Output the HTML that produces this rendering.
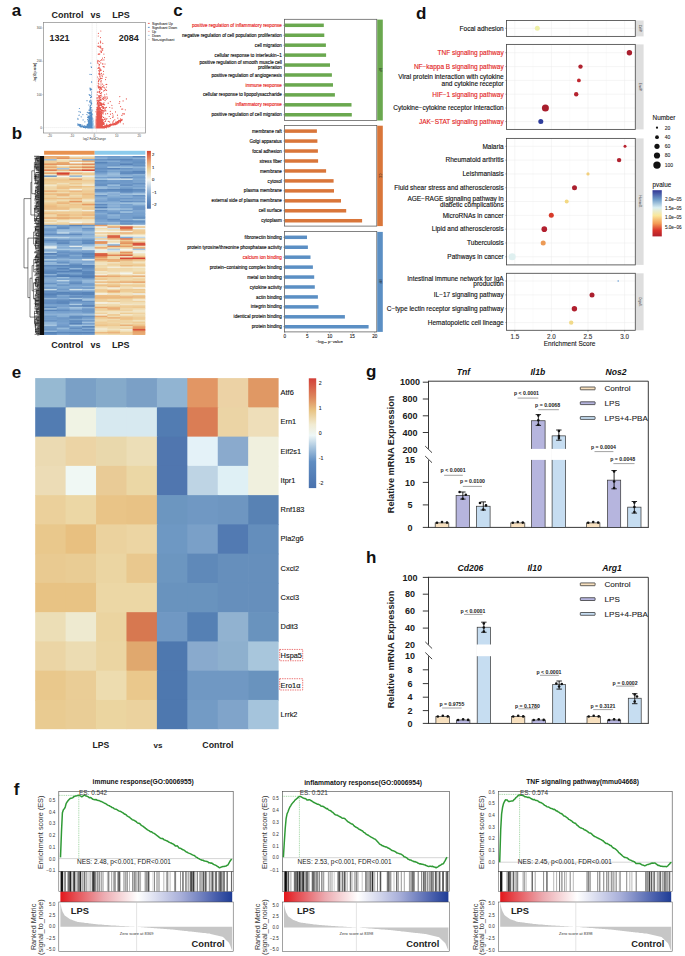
<!DOCTYPE html>
<html><head><meta charset="utf-8"><title>Figure</title>
<style>
html,body{margin:0;padding:0;background:#fff;}
body{width:685px;height:956px;overflow:hidden;}
svg{display:block;font-family:"Liberation Sans", sans-serif;}
</style></head>
<body>
<svg width="685" height="956" viewBox="0 0 685 956" shape-rendering="auto">
<rect width="685" height="956" fill="#fff"/>
<text x="11.70" y="15.50" font-size="17" font-weight="bold" fill="#111">a</text>
<text x="11.70" y="138.50" font-size="17" font-weight="bold" fill="#111">b</text>
<text x="173.20" y="16.10" font-size="17" font-weight="bold" fill="#111">c</text>
<text x="416.10" y="19.00" font-size="17" font-weight="bold" fill="#111">d</text>
<text x="11.70" y="377.90" font-size="17" font-weight="bold" fill="#111">e</text>
<text x="13.70" y="795.40" font-size="17" font-weight="bold" fill="#111">f</text>
<text x="366.10" y="377.20" font-size="17" font-weight="bold" fill="#111">g</text>
<text x="366.10" y="563.40" font-size="17" font-weight="bold" fill="#111">h</text>
<rect x="43.40" y="22.40" width="102.00" height="110.60" fill="#fff" stroke="#8a8a8a" stroke-width="0.7"/>
<line x1="92.16" y1="22.60" x2="92.16" y2="132.80" stroke="#c4c4c4" stroke-width="0.4" stroke-dasharray="1,1"/>
<line x1="96.64" y1="22.60" x2="96.64" y2="132.80" stroke="#c4c4c4" stroke-width="0.4" stroke-dasharray="1,1"/>
<line x1="43.60" y1="127.60" x2="145.20" y2="127.60" stroke="#c4c4c4" stroke-width="0.4" stroke-dasharray="1,1"/>
<path d="M94.8 126.7h0M94.6 127.2h0M94.7 127.4h0M94.6 127.6h0M95.0 127.8h0M93.7 127.4h0M94.7 127.6h0M94.4 126.9h0M94.1 127.7h0M94.3 126.8h0M94.7 127.4h0M94.9 127.5h0M94.3 127.7h0M94.8 127.9h0M94.6 127.1h0M95.0 125.8h0M95.0 127.7h0M94.9 127.3h0M94.3 127.5h0M93.8 127.5h0M95.2 127.7h0M94.0 127.7h0M94.9 127.0h0M94.5 127.8h0M95.3 127.6h0M94.4 127.9h0M94.3 127.2h0M93.3 127.9h0M94.8 126.6h0M94.4 126.8h0M94.1 126.9h0M94.2 127.6h0M95.1 126.9h0M94.7 127.2h0M94.9 127.8h0M94.3 127.4h0M94.6 127.6h0M95.0 127.3h0M94.3 127.5h0M95.2 127.9h0M94.3 127.5h0M95.5 127.7h0M94.2 127.4h0M94.2 127.7h0M94.5 127.8h0M94.3 126.7h0M94.4 127.7h0M94.5 127.9h0M95.1 127.4h0M94.2 127.4h0M95.1 127.0h0M95.0 127.9h0M94.6 127.8h0M94.4 127.6h0M95.5 127.9h0M93.1 127.0h0M94.2 127.1h0M94.4 127.7h0M94.8 127.3h0M94.5 127.9h0M95.0 127.6h0M94.8 127.3h0M95.1 127.2h0M94.2 127.6h0M94.7 126.7h0M95.4 127.4h0M94.1 127.2h0M94.6 126.5h0M93.7 127.4h0M94.7 127.9h0M94.1 127.9h0M94.8 126.6h0M93.8 127.1h0M94.5 127.8h0M93.9 127.7h0M94.5 127.6h0M94.7 127.9h0M95.7 126.7h0M94.7 127.9h0M94.7 127.9h0" stroke="#c9d3dc" stroke-width="1.2" stroke-linecap="round" opacity="0.9" fill="none"/>
<path d="M93.2 127.7h0M93.0 127.9h0M93.2 127.6h0M93.1 127.7h0M92.4 123.8h0M93.1 124.8h0M92.3 126.4h0M93.4 127.7h0M92.6 125.2h0M93.1 127.8h0M92.3 127.5h0M93.0 126.2h0M93.0 123.4h0M92.9 122.4h0M93.3 127.7h0M92.3 127.6h0M92.3 127.2h0M92.5 125.2h0M92.8 125.1h0M92.9 124.1h0M92.8 126.8h0M92.2 127.3h0M92.8 120.4h0M92.5 125.7h0M92.9 125.4h0M92.3 126.2h0M92.8 127.4h0M92.8 126.3h0M93.1 126.5h0M93.0 127.3h0M93.2 126.6h0M92.8 125.0h0M92.2 127.7h0M92.4 127.8h0M92.6 110.0h0M92.6 127.0h0M92.9 120.4h0M93.1 126.7h0M93.2 122.1h0M92.4 123.1h0M92.4 124.3h0M92.6 114.9h0M92.9 125.2h0M93.2 125.8h0M93.4 127.8h0M93.3 125.2h0M92.6 125.8h0M92.9 127.0h0M93.0 127.9h0M92.5 127.9h0M92.3 126.5h0M92.7 127.9h0M92.5 121.9h0M92.6 118.0h0M92.8 127.8h0M92.9 125.8h0M93.2 125.6h0M92.2 127.6h0M92.4 127.6h0M92.7 123.8h0M92.5 127.4h0M93.0 125.3h0M92.7 126.3h0M92.5 126.8h0M93.2 126.8h0M92.5 126.5h0M93.2 127.7h0M93.0 121.4h0M92.8 125.8h0M92.9 127.9h0M93.1 127.8h0M92.7 126.8h0M93.4 120.7h0M93.2 125.9h0M93.3 127.9h0M93.3 125.6h0M92.8 125.2h0M92.8 127.9h0M92.6 120.3h0M93.0 127.7h0M93.1 124.0h0M92.2 125.7h0M93.1 126.5h0M92.4 124.2h0M92.9 125.6h0M93.4 127.2h0M92.8 121.9h0M92.6 127.4h0M92.3 120.0h0M92.9 127.4h0M92.9 127.7h0M93.0 125.8h0M92.9 122.4h0M93.0 118.6h0M92.8 126.9h0M93.0 122.4h0M93.0 125.0h0M92.7 123.7h0M92.6 126.2h0M92.4 125.7h0M92.7 127.0h0M92.4 127.9h0M92.5 123.2h0M92.6 127.8h0M93.3 127.8h0M93.3 127.6h0M93.4 121.8h0M93.0 126.2h0M92.8 127.6h0M93.1 127.2h0M92.7 127.0h0M93.3 127.7h0M92.8 127.8h0M93.1 126.2h0M93.0 127.5h0M92.4 125.6h0M93.4 123.7h0M92.5 122.2h0M93.0 125.1h0M92.3 126.7h0M93.0 126.4h0M92.5 127.3h0M93.0 124.7h0M92.8 126.7h0M92.8 126.9h0M93.0 119.6h0M92.9 126.6h0M93.3 124.4h0M92.3 126.4h0M92.6 122.5h0M92.8 127.9h0M92.9 124.5h0M93.4 124.0h0M92.8 127.7h0M93.2 124.5h0M92.8 123.3h0M92.5 126.4h0M93.1 127.5h0M92.5 122.2h0M92.8 127.9h0M93.2 123.9h0M93.0 126.4h0M92.7 126.8h0M92.7 124.0h0M92.4 118.6h0M92.7 125.6h0M92.5 127.6h0M93.2 127.0h0M92.6 126.6h0M92.8 125.8h0M93.0 122.9h0M92.8 125.7h0M92.4 125.0h0M93.0 122.9h0M92.8 127.5h0M92.2 126.9h0M92.8 127.8h0M93.2 127.4h0M92.6 127.0h0M92.7 123.9h0" stroke="#9cc8ea" stroke-width="1.2" stroke-linecap="round" opacity="0.9" fill="none"/>
<path d="M96.5 124.0h0M96.4 109.9h0M95.8 123.3h0M96.2 127.0h0M96.1 126.9h0M96.2 127.3h0M95.6 118.8h0M96.2 127.9h0M96.2 122.3h0M95.8 124.0h0M96.6 126.4h0M96.6 124.7h0M96.5 127.9h0M96.5 125.8h0M96.2 121.2h0M96.5 123.8h0M95.8 126.1h0M95.9 126.6h0M96.4 126.7h0M96.3 125.6h0M96.0 123.9h0M95.5 122.5h0M96.0 127.5h0M95.7 123.3h0M96.3 125.6h0M96.3 123.7h0M96.1 121.0h0M96.4 120.4h0M96.1 125.6h0M96.0 122.2h0M95.6 127.9h0M95.6 127.3h0M95.6 126.7h0M95.9 125.8h0M96.3 127.6h0M95.9 122.8h0M96.4 119.0h0M96.0 116.2h0M96.5 120.1h0M96.5 121.5h0M95.7 127.1h0M96.4 120.7h0M96.6 127.9h0M96.2 125.4h0M95.6 124.1h0M96.5 120.7h0M96.1 123.4h0M95.8 122.9h0M96.3 122.6h0M95.7 122.2h0M96.0 125.0h0M95.8 126.5h0M96.0 126.7h0M96.5 122.8h0M96.1 123.6h0M95.7 127.9h0M96.6 125.7h0M95.9 127.9h0M96.2 123.2h0M96.6 125.8h0M96.1 125.7h0M95.7 125.9h0M96.2 126.4h0M96.6 125.9h0M96.2 126.7h0M96.6 125.6h0M96.0 122.4h0M95.5 111.5h0M95.4 127.9h0M95.6 127.5h0M96.3 125.8h0M95.4 122.8h0M95.6 127.7h0M96.0 127.9h0M95.8 120.1h0M96.3 123.5h0M95.9 124.1h0M95.6 127.9h0M96.6 125.2h0M95.7 126.1h0M96.6 125.1h0M96.3 127.0h0M96.5 125.7h0M96.6 116.4h0M96.4 125.2h0M96.3 127.9h0M95.5 127.4h0M95.4 127.1h0M96.1 126.9h0M96.6 126.5h0M96.6 126.8h0M96.1 126.9h0M95.7 124.4h0M96.3 125.5h0M96.6 127.0h0M96.6 127.6h0M95.4 125.1h0M95.7 125.3h0M95.9 127.0h0M95.8 127.4h0M95.6 127.7h0M96.1 112.2h0M96.1 127.6h0M96.3 112.3h0M95.8 123.3h0M95.7 120.8h0M96.4 127.2h0M95.8 126.7h0M95.7 124.9h0M96.3 127.6h0M95.7 127.4h0M95.7 125.9h0M96.0 123.8h0M95.5 125.9h0M95.8 117.2h0M96.5 119.8h0M95.8 126.2h0M95.5 127.1h0M96.4 121.9h0M95.9 126.8h0M96.6 127.9h0M96.3 126.7h0M95.8 121.7h0M96.5 127.2h0M95.5 127.7h0M96.5 127.9h0M96.0 127.3h0M96.1 127.9h0M96.5 126.8h0M96.5 121.6h0M95.4 125.4h0M96.0 121.3h0M96.5 125.7h0M95.9 127.9h0M95.5 126.9h0M96.5 125.0h0M95.7 120.1h0M96.3 121.8h0M96.2 125.4h0M96.2 124.1h0M96.6 125.2h0M96.2 124.9h0M96.1 127.1h0M95.4 120.2h0M95.9 124.2h0M96.3 120.5h0M96.3 126.2h0M96.0 122.6h0M95.7 127.9h0M95.8 127.9h0M95.5 127.5h0M95.5 121.7h0M96.3 127.5h0M96.2 123.7h0M96.4 126.8h0M96.3 127.0h0M96.4 126.9h0M96.0 127.7h0M95.7 119.5h0M95.6 126.5h0" stroke="#f3aaa4" stroke-width="1.2" stroke-linecap="round" opacity="0.9" fill="none"/>
<path d="M91.5 126.0h0M90.6 126.6h0M91.6 127.8h0M91.2 122.3h0M91.9 127.1h0M90.9 126.2h0M90.6 127.2h0M92.0 125.8h0M90.3 126.3h0M89.7 124.0h0M91.5 126.5h0M90.1 110.6h0M91.8 111.6h0M90.5 127.5h0M91.4 124.0h0M90.0 125.4h0M89.0 123.4h0M90.4 121.0h0M90.4 127.6h0M90.8 117.7h0M91.8 127.2h0M90.3 124.8h0M92.0 127.0h0M88.9 105.0h0M91.9 123.4h0M90.9 120.4h0M91.4 126.0h0M91.1 117.0h0M89.9 127.6h0M90.5 121.9h0M89.6 125.4h0M91.1 123.2h0M91.1 125.9h0M88.8 123.5h0M91.5 123.7h0M91.9 122.4h0M91.8 123.2h0M91.2 117.0h0M91.7 124.8h0M89.4 126.8h0M91.1 127.8h0M92.0 125.5h0M90.7 127.3h0M90.1 125.9h0M87.6 117.5h0M91.3 120.9h0M91.7 120.3h0M91.3 123.3h0M91.6 115.9h0M91.4 125.2h0M91.7 126.9h0M89.3 127.8h0M90.8 125.2h0M91.0 125.1h0M92.0 117.7h0M90.6 127.9h0M90.9 127.0h0M91.2 126.8h0M90.4 127.7h0M88.8 123.9h0M89.7 124.9h0M90.4 122.9h0M90.1 126.3h0M91.5 127.4h0M90.0 127.9h0M90.0 126.7h0M91.2 126.9h0M91.8 123.0h0M90.8 124.8h0M90.4 124.8h0M91.3 121.3h0M91.2 123.0h0M91.4 112.3h0M91.8 124.5h0M92.0 125.4h0M89.7 126.1h0M91.9 126.0h0M91.5 123.3h0M88.9 118.7h0M89.7 126.3h0M90.5 127.0h0M91.9 126.8h0M91.0 127.5h0M91.3 123.0h0M92.0 124.0h0M91.5 114.3h0M92.0 124.8h0M91.3 122.6h0M89.1 127.6h0M91.0 125.9h0M88.0 125.9h0M89.0 123.5h0M90.4 127.1h0M91.0 117.4h0M90.2 127.5h0M91.8 119.5h0M91.3 125.2h0M90.7 127.6h0M91.4 119.8h0M92.0 127.9h0M90.9 121.4h0M91.7 124.3h0M91.4 127.9h0M90.4 124.7h0M88.8 126.2h0M89.2 124.3h0M90.6 118.9h0M89.6 127.0h0M91.3 120.0h0M91.6 121.3h0M88.1 125.2h0M90.6 123.2h0M91.9 123.9h0M88.9 127.7h0M90.0 124.4h0M89.8 126.7h0M91.4 119.4h0M90.2 111.8h0M90.0 120.9h0M90.9 127.6h0M90.7 125.6h0M89.8 126.5h0M91.6 125.9h0M89.3 117.7h0M88.5 122.3h0M89.5 127.7h0M90.8 124.2h0M91.9 124.8h0M91.2 126.1h0M89.8 125.9h0M90.6 124.7h0M90.2 124.7h0M89.2 126.8h0M91.6 123.3h0M91.2 127.8h0M91.0 127.8h0M90.8 121.2h0M91.8 124.1h0M89.6 120.4h0M89.7 126.5h0M92.0 127.9h0M91.6 126.9h0M91.3 126.6h0M89.7 126.6h0M90.5 123.5h0M91.5 119.8h0M89.3 122.4h0M89.9 125.6h0M91.4 117.7h0M91.5 120.7h0M90.0 108.7h0M91.7 125.5h0M90.7 95.4h0M90.1 125.5h0M91.6 127.4h0M89.0 110.2h0M90.5 115.4h0M91.2 125.6h0M91.4 126.1h0M91.5 120.2h0M91.3 120.0h0M89.1 124.0h0M90.5 127.9h0M90.0 113.8h0M88.9 122.8h0M90.5 121.2h0M90.5 118.5h0M88.5 123.4h0M89.0 126.0h0M89.0 127.9h0M91.0 127.8h0M89.5 125.7h0M89.0 127.3h0M90.2 118.7h0M91.2 127.3h0M89.5 127.0h0M89.1 127.3h0M91.8 119.9h0M92.0 114.5h0M90.8 126.7h0M91.0 125.6h0M91.3 123.8h0M90.2 115.4h0M91.0 126.8h0M90.7 124.8h0M91.5 126.2h0M92.0 125.2h0M91.1 126.7h0M89.5 127.9h0M90.6 126.1h0M91.8 127.5h0M91.4 117.8h0M91.8 116.3h0M90.4 126.2h0M89.5 123.9h0M91.7 123.9h0M91.7 127.2h0M90.4 124.1h0M90.0 126.3h0M91.0 116.6h0M90.7 125.1h0M90.8 121.9h0M90.4 124.7h0M88.4 117.1h0M90.7 127.7h0M91.5 123.7h0M90.8 120.7h0M91.5 126.5h0M91.8 116.8h0M90.6 108.0h0M91.3 127.9h0M92.0 127.2h0M89.7 127.6h0M90.9 125.8h0M90.8 127.6h0M91.2 124.1h0M91.9 124.7h0M91.1 124.5h0M91.9 117.9h0M89.0 122.7h0M91.8 122.8h0M91.4 120.6h0M91.2 121.6h0M91.0 127.0h0M91.4 127.9h0M90.9 123.0h0M90.4 125.4h0M91.2 125.9h0M87.6 127.3h0M90.4 126.1h0M90.8 126.8h0M91.1 122.1h0M91.5 125.0h0M89.8 127.4h0M91.7 122.4h0M91.5 113.2h0M88.5 117.7h0M90.1 120.4h0M91.7 123.6h0M92.0 127.6h0M89.5 120.9h0M91.8 127.5h0M88.8 126.0h0M90.1 126.3h0M89.7 118.3h0M91.7 126.5h0M87.9 124.6h0M89.4 126.3h0M89.5 122.4h0M90.9 127.1h0M91.9 127.9h0M89.8 125.3h0M91.3 123.1h0M88.7 125.9h0M89.1 124.8h0M91.6 127.1h0M88.3 112.9h0M91.6 119.3h0M90.6 124.5h0M90.6 121.0h0M89.9 126.0h0M87.6 125.0h0M91.3 121.8h0M90.9 123.4h0M90.7 124.0h0M91.0 126.5h0M89.9 127.3h0M91.4 97.0h0M91.4 126.2h0M89.7 120.4h0M89.5 121.2h0M91.5 126.7h0M90.5 123.2h0M90.3 108.7h0M87.0 126.2h0M89.5 123.5h0M91.0 127.9h0M88.1 120.9h0M90.6 127.7h0M91.9 126.8h0M90.0 119.3h0M91.8 124.6h0M91.8 123.9h0M90.6 121.0h0M91.4 120.7h0M91.7 123.5h0M91.2 117.5h0M91.6 125.2h0M89.8 127.8h0M91.8 125.0h0M90.6 124.0h0M90.6 122.7h0M89.7 123.8h0M91.3 127.0h0M91.4 127.3h0M92.0 113.8h0M91.3 124.1h0M90.4 127.9h0M90.4 124.7h0M90.5 121.6h0M91.2 121.6h0M91.7 127.6h0M91.7 124.7h0M90.8 125.8h0M89.4 126.3h0M90.9 118.4h0M91.5 123.5h0M92.0 124.3h0M91.1 124.3h0M89.5 126.1h0M90.5 123.3h0M88.4 124.1h0M91.7 127.5h0M89.2 122.3h0M89.0 116.5h0M90.8 116.4h0M91.6 127.9h0M91.6 124.8h0M91.7 119.6h0M91.3 124.5h0M92.0 124.4h0M90.3 118.3h0M91.5 117.0h0M88.7 125.4h0M91.4 121.4h0M87.9 116.0h0M90.4 125.6h0M88.9 124.1h0M91.4 124.2h0M88.0 125.6h0M90.1 119.9h0M90.1 120.2h0M90.6 123.7h0M92.0 121.6h0M89.4 127.1h0M90.8 124.9h0M90.0 127.5h0M91.5 127.7h0M91.9 118.1h0M91.8 121.9h0M89.0 127.1h0M89.4 126.9h0M90.1 122.4h0M90.4 125.4h0M90.2 106.6h0M89.8 123.4h0M90.4 119.4h0M90.0 121.0h0M91.0 124.1h0M90.9 124.4h0M89.5 124.6h0M90.6 124.7h0M91.5 127.2h0M91.6 115.3h0M91.0 121.6h0M90.5 118.8h0M92.0 127.8h0M91.5 126.3h0M90.6 124.3h0M92.0 121.8h0M90.2 120.7h0M91.8 127.4h0M90.7 127.3h0M91.7 126.9h0M89.0 124.4h0M89.3 125.7h0M89.2 127.8h0M91.5 125.9h0M91.2 116.1h0M91.5 127.6h0M91.5 123.6h0M91.7 122.8h0M91.1 126.1h0M91.6 126.1h0M91.6 121.9h0M89.9 127.3h0M89.8 122.0h0M90.0 113.1h0M90.0 127.8h0M91.0 125.2h0M90.1 127.3h0M91.9 127.7h0M91.9 118.4h0M90.8 125.3h0M92.0 122.1h0M90.2 123.8h0M91.9 124.3h0M91.6 127.5h0M90.7 126.0h0M89.4 127.8h0M91.4 127.5h0M89.3 122.1h0M91.9 127.8h0M91.6 125.5h0M88.6 117.4h0M91.9 125.6h0M89.8 126.9h0M87.8 125.6h0M91.9 127.2h0M91.2 127.8h0M91.4 124.8h0M89.9 126.6h0M91.8 118.9h0M91.7 120.9h0M87.0 126.6h0M90.6 122.3h0M89.7 125.6h0M91.8 122.7h0M91.2 123.9h0M91.4 96.4h0M90.2 126.2h0M90.9 123.1h0M88.3 120.1h0M91.1 124.2h0M89.6 127.5h0M91.2 126.7h0M89.8 127.4h0M91.2 127.8h0M92.0 125.6h0M90.9 123.0h0M89.8 120.5h0M90.7 122.7h0M88.4 121.7h0M91.6 125.4h0M91.2 124.0h0M90.5 126.9h0M90.6 126.5h0M90.9 126.7h0M89.0 116.4h0M89.4 126.9h0M90.5 118.1h0M87.0 100.7h0M90.1 127.4h0M91.3 125.4h0M90.4 122.1h0M90.8 122.9h0M91.0 127.1h0M91.5 127.0h0M91.5 127.1h0M90.4 120.2h0M91.6 125.8h0M89.8 125.0h0M90.6 125.3h0M92.0 119.2h0M91.0 120.0h0M90.6 127.9h0M91.0 126.5h0M90.8 127.9h0M91.8 121.9h0M90.3 117.2h0M91.8 124.9h0M90.1 127.9h0M89.6 125.8h0M91.0 116.2h0M91.1 117.2h0M88.7 126.6h0M92.0 121.8h0M90.5 127.4h0M91.8 123.5h0M90.1 121.1h0M90.5 116.9h0M90.8 122.5h0M90.7 124.2h0M90.7 126.8h0M92.0 123.7h0M90.4 126.8h0M89.8 122.8h0M90.4 127.5h0M89.4 127.3h0M90.0 126.1h0M91.2 126.5h0M91.5 114.7h0M90.1 119.6h0M91.2 125.3h0M90.7 126.3h0M91.7 127.5h0M89.1 124.5h0M90.6 119.4h0M88.9 120.6h0M91.7 113.4h0M90.1 110.1h0M90.4 125.4h0M89.2 127.7h0M91.7 123.3h0M91.4 118.7h0M91.5 123.9h0M89.1 113.6h0M91.5 125.9h0M89.5 121.6h0M90.1 120.0h0M90.8 127.4h0M91.6 125.6h0M90.0 124.0h0M89.0 127.7h0M91.1 120.1h0M91.3 122.5h0M90.6 125.8h0M90.9 126.3h0M90.9 127.3h0M89.9 113.9h0M89.2 127.9h0M91.0 121.1h0M89.3 126.2h0M91.2 120.8h0M92.0 117.7h0M90.4 122.7h0M90.7 121.7h0M91.3 127.4h0M89.0 121.6h0M91.1 102.2h0M91.1 126.8h0M91.3 121.7h0M87.4 125.3h0M90.4 126.0h0M90.9 117.2h0M90.6 127.3h0M89.9 127.0h0M87.6 119.3h0M91.8 124.3h0M88.9 121.8h0M87.3 112.3h0M87.3 124.3h0M89.8 127.8h0M90.6 126.2h0M90.7 123.3h0M90.7 122.7h0M91.5 123.5h0M91.5 122.2h0M88.3 126.4h0M90.6 126.8h0M91.6 124.5h0M89.0 127.2h0M89.7 117.4h0M90.5 127.5h0M90.2 114.3h0M91.4 127.6h0M89.6 101.0h0M92.0 124.7h0M88.7 122.5h0M91.5 120.1h0M90.7 125.6h0M92.0 127.5h0M90.7 122.9h0M89.3 119.3h0M90.4 125.9h0M90.0 125.6h0M91.6 125.5h0M92.0 122.1h0M91.8 118.9h0M91.4 124.1h0M91.3 127.8h0M91.0 117.0h0M89.8 121.7h0M89.9 123.3h0M91.1 127.4h0M91.2 122.1h0M91.0 127.3h0M89.7 126.0h0M90.5 108.2h0M90.8 125.4h0M91.2 115.5h0M90.6 127.9h0M89.2 127.5h0M89.5 126.7h0M90.3 123.9h0M91.6 124.8h0M89.5 119.3h0M91.2 118.8h0M91.2 121.4h0M89.9 125.1h0M90.6 126.7h0M91.4 125.2h0M89.8 117.8h0M88.8 122.6h0M91.6 127.3h0M89.4 117.6h0M91.6 120.5h0M91.5 121.6h0M91.5 126.5h0M90.4 117.3h0M92.0 114.1h0M91.4 126.6h0M91.6 121.7h0M90.3 126.3h0M90.7 122.1h0M89.3 119.0h0M89.7 127.3h0M90.6 122.5h0M89.3 125.7h0M91.1 116.1h0M90.2 114.5h0M90.7 125.9h0M89.5 124.3h0M92.0 122.0h0M91.7 123.8h0M91.6 123.5h0M89.4 127.1h0M88.9 116.3h0M91.3 123.8h0M89.8 126.1h0M91.8 110.2h0M91.9 121.3h0M87.2 125.1h0M90.4 124.1h0M91.3 126.3h0M87.7 124.3h0M91.2 112.3h0M89.4 122.4h0M88.3 117.3h0M90.3 125.6h0M90.3 125.8h0M91.1 123.1h0M90.9 127.0h0M89.8 126.2h0M90.1 125.1h0M91.8 127.9h0M90.7 125.4h0M92.0 124.8h0M91.2 126.8h0M91.2 124.1h0M91.0 124.0h0M91.2 126.1h0M91.4 116.0h0M91.0 127.9h0M90.8 127.9h0M91.5 126.8h0M90.6 127.8h0M91.5 119.3h0M90.2 125.5h0M91.2 124.2h0M90.2 125.7h0M89.8 123.1h0M91.4 122.8h0M90.8 125.3h0M91.1 126.0h0M91.3 124.1h0M89.8 125.7h0M90.7 126.6h0M91.2 125.7h0M90.9 127.9h0M91.3 126.4h0M91.6 121.0h0M91.2 127.8h0M91.7 120.7h0M89.2 127.2h0M91.6 123.8h0M91.3 126.3h0M91.7 127.7h0M91.1 126.3h0M89.9 122.5h0M90.5 88.7h0M91.3 104.7h0M90.9 126.0h0M91.5 67.5h0M89.6 116.3h0M91.1 97.2h0M90.8 112.0h0M89.2 117.8h0M91.4 112.4h0M90.8 100.4h0M91.6 120.6h0M90.7 115.0h0M89.6 102.0h0M89.8 106.9h0M91.6 120.8h0M90.1 112.4h0M90.6 123.8h0M90.0 74.3h0M91.4 121.1h0M91.1 103.5h0M90.0 88.1h0M89.2 94.6h0M91.4 103.3h0M91.2 112.3h0M90.9 112.5h0M91.6 118.9h0M91.5 82.1h0M91.6 89.2h0M91.7 82.1h0M88.8 116.3h0M91.6 123.6h0M91.3 107.7h0M90.2 89.3h0M90.2 121.9h0M91.0 125.2h0M91.6 103.4h0M90.7 89.8h0M91.6 112.1h0M90.5 113.0h0M90.0 88.8h0M89.8 107.0h0M91.2 66.8h0M91.7 110.1h0M90.7 109.8h0M89.5 95.2h0M89.2 116.4h0M90.9 89.9h0M90.8 100.0h0M90.7 119.3h0M90.5 113.6h0M90.2 117.9h0M90.3 90.1h0M90.5 107.2h0M90.7 126.2h0M89.8 109.0h0M91.1 118.2h0M91.4 124.2h0M91.5 81.8h0M91.0 100.9h0M90.8 63.1h0M91.2 103.5h0M91.5 116.5h0M90.8 102.6h0M90.5 97.6h0M90.9 101.3h0M90.6 105.4h0M91.4 74.5h0M89.3 112.4h0M91.5 92.0h0M91.5 94.0h0M79.7 124.4h0M80.1 126.3h0M80.5 126.2h0M78.2 124.9h0M80.3 124.9h0M81.5 126.4h0M82.1 125.0h0M84.8 125.7h0M80.9 127.0h0M78.6 124.7h0M88.5 127.3h0M82.7 126.6h0M83.6 127.5h0M80.2 125.4h0M85.4 127.2h0M86.2 126.6h0M79.3 125.0h0M79.7 125.9h0M86.3 126.2h0M77.9 123.8h0M87.1 126.6h0M80.8 125.7h0M87.4 126.9h0M88.0 127.4h0M87.2 127.6h0M87.9 127.9h0M85.6 126.9h0M85.4 127.9h0M85.9 126.7h0M85.1 127.6h0M78.6 124.9h0M79.2 125.3h0M85.9 127.7h0M88.5 127.9h0M79.5 125.6h0M87.2 126.6h0M77.9 124.5h0M79.1 125.3h0M85.4 126.6h0M84.0 127.3h0M83.2 127.2h0M79.1 125.6h0M88.5 127.0h0M84.1 126.9h0M87.6 127.4h0M80.1 125.5h0M88.2 127.7h0M80.7 125.1h0M80.0 125.1h0M86.1 127.6h0M79.7 125.9h0M85.4 127.0h0M84.7 127.3h0M85.2 127.0h0M80.4 125.3h0M79.5 125.3h0M82.4 126.2h0M82.8 126.6h0M77.8 125.1h0M85.3 127.5h0M79.9 124.8h0M86.2 127.6h0M83.5 126.5h0M84.5 126.8h0M86.8 127.1h0M87.2 127.6h0M81.5 126.8h0M80.7 124.7h0M88.6 127.9h0M83.4 126.2h0M86.9 114.5h0M83.1 119.9h0M79.0 115.3h0M80.4 112.2h0M79.0 111.6h0M82.9 114.6h0M77.9 118.3h0M79.2 115.1h0M84.9 121.8h0M79.4 108.5h0M81.2 116.8h0M78.0 119.3h0" stroke="#3f7fbf" stroke-width="1.2" stroke-linecap="round" opacity="0.9" fill="none"/>
<path d="M102.7 113.1h0M104.2 98.5h0M98.0 115.7h0M98.4 125.5h0M98.1 123.3h0M97.4 117.6h0M102.6 110.7h0M97.4 125.4h0M99.3 121.3h0M106.4 107.4h0M97.4 116.8h0M97.8 108.2h0M97.6 122.6h0M98.7 101.6h0M99.8 119.2h0M97.9 121.9h0M98.2 120.0h0M97.4 127.4h0M99.5 126.2h0M97.3 117.2h0M96.8 118.7h0M101.2 115.9h0M98.3 119.5h0M98.2 127.2h0M97.3 120.6h0M98.3 126.9h0M102.4 121.3h0M97.5 121.6h0M97.5 127.6h0M99.7 114.3h0M99.3 125.8h0M97.6 124.5h0M99.3 123.0h0M98.4 127.3h0M97.0 127.0h0M98.7 125.6h0M105.0 125.5h0M99.7 119.9h0M99.5 103.2h0M101.6 125.4h0M97.6 121.1h0M98.8 118.0h0M98.0 120.0h0M99.9 126.8h0M96.8 109.7h0M96.9 127.3h0M100.8 116.7h0M98.9 109.6h0M97.3 125.8h0M100.0 116.3h0M97.3 127.2h0M99.4 116.6h0M98.4 124.3h0M98.4 126.4h0M97.4 126.0h0M99.0 110.9h0M97.4 103.4h0M104.0 102.8h0M98.8 122.3h0M98.2 119.4h0M101.5 118.8h0M96.9 124.9h0M99.6 120.6h0M99.0 127.7h0M102.7 123.3h0M99.4 117.6h0M98.8 116.9h0M100.1 126.7h0M103.0 119.6h0M98.2 120.8h0M97.7 127.2h0M98.5 126.9h0M101.4 126.5h0M100.2 116.0h0M97.8 115.4h0M99.8 122.8h0M100.8 119.3h0M96.8 98.1h0M97.8 123.8h0M101.7 115.9h0M101.6 111.8h0M98.9 127.6h0M98.9 95.9h0M100.1 126.6h0M97.8 126.2h0M98.6 126.5h0M99.1 111.8h0M99.1 118.4h0M100.7 117.2h0M101.0 127.5h0M98.5 124.8h0M97.7 97.8h0M97.4 117.8h0M98.4 126.1h0M100.4 125.4h0M101.8 127.1h0M96.8 124.6h0M100.3 125.0h0M99.0 125.6h0M97.4 121.6h0M97.7 121.3h0M97.6 118.0h0M97.5 127.3h0M99.1 127.6h0M99.1 126.4h0M97.1 125.8h0M97.1 113.0h0M98.3 125.3h0M97.4 127.1h0M104.2 107.8h0M101.1 126.8h0M101.1 123.3h0M102.7 104.5h0M97.7 125.1h0M98.5 127.1h0M98.3 127.9h0M103.4 124.3h0M100.2 122.6h0M99.9 123.9h0M100.5 127.5h0M99.6 126.2h0M99.1 113.3h0M96.9 118.5h0M98.6 126.2h0M102.7 113.0h0M97.3 112.7h0M99.0 126.8h0M97.2 126.0h0M101.9 122.8h0M98.9 84.1h0M100.7 119.0h0M99.9 109.8h0M97.3 126.8h0M99.1 125.8h0M101.1 120.9h0M98.7 112.7h0M97.6 123.3h0M98.1 91.9h0M98.2 121.7h0M98.8 126.9h0M99.5 127.6h0M98.1 123.6h0M103.9 111.6h0M97.5 112.5h0M98.4 124.6h0M100.2 125.0h0M100.6 123.2h0M98.3 124.7h0M99.2 127.2h0M96.8 119.4h0M97.7 111.7h0M97.1 126.8h0M97.2 122.3h0M101.2 127.2h0M98.1 126.2h0M97.1 114.8h0M99.0 124.7h0M98.1 123.6h0M99.1 74.3h0M97.7 122.5h0M99.2 125.4h0M97.9 118.0h0M97.2 120.8h0M99.1 101.8h0M98.6 123.8h0M101.7 118.9h0M102.8 108.2h0M99.2 117.4h0M98.2 122.5h0M97.1 107.7h0M99.2 104.9h0M99.9 126.0h0M99.8 127.9h0M97.2 121.4h0M101.4 127.2h0M97.6 113.2h0M97.2 120.8h0M99.1 108.7h0M98.4 119.5h0M103.0 99.5h0M99.7 119.8h0M103.1 112.7h0M96.8 123.0h0M97.9 127.6h0M97.2 123.4h0M98.9 125.0h0M98.5 87.5h0M97.9 120.6h0M96.8 122.9h0M101.4 124.4h0M98.7 123.9h0M99.8 124.5h0M98.6 109.3h0M99.5 113.3h0M98.8 102.8h0M100.2 126.2h0M97.2 121.9h0M99.7 116.1h0M97.2 111.5h0M98.6 125.0h0M101.5 120.2h0M97.5 127.5h0M97.3 125.1h0M97.5 120.1h0M101.4 104.0h0M99.0 124.8h0M101.9 120.4h0M98.6 122.6h0M96.8 121.0h0M100.0 121.0h0M96.9 124.4h0M99.1 97.9h0M97.8 127.2h0M98.4 122.8h0M97.3 126.4h0M96.9 118.2h0M97.1 126.6h0M97.3 116.9h0M99.2 102.0h0M97.3 108.5h0M103.0 124.5h0M97.2 127.1h0M100.2 122.1h0M100.0 108.8h0M100.4 120.8h0M102.4 119.7h0M97.2 127.7h0M97.1 120.1h0M99.8 126.4h0M98.3 127.9h0M98.1 127.8h0M101.9 96.8h0M97.5 123.6h0M97.2 123.8h0M97.1 114.4h0M100.3 127.9h0M98.5 126.2h0M98.9 124.9h0M100.1 121.0h0M98.7 121.0h0M97.0 124.7h0M98.4 116.0h0M101.8 122.4h0M97.4 123.5h0M99.7 123.4h0M99.0 119.3h0M96.9 127.9h0M103.4 107.3h0M97.3 123.6h0M97.1 116.4h0M98.2 124.5h0M96.9 127.1h0M103.4 124.4h0M98.3 115.8h0M98.9 114.2h0M97.2 123.0h0M98.6 108.1h0M100.2 120.6h0M101.9 109.7h0M97.1 127.1h0M96.8 120.8h0M99.5 121.8h0M98.9 123.2h0M98.4 126.4h0M99.6 125.4h0M98.9 126.5h0M100.3 123.1h0M98.8 111.0h0M96.8 121.3h0M99.2 125.7h0M98.5 125.9h0M97.0 126.5h0M98.9 126.0h0M100.5 108.7h0M97.4 127.4h0M97.8 127.7h0M98.8 126.2h0M102.3 125.0h0M97.4 126.4h0M97.0 127.0h0M97.1 125.6h0M100.3 107.9h0M102.1 122.7h0M97.8 115.8h0M100.2 122.5h0M99.1 114.8h0M101.1 123.6h0M98.3 127.7h0M98.3 114.7h0M97.3 126.6h0M101.2 127.5h0M98.4 100.5h0M102.1 121.4h0M99.3 98.7h0M102.1 111.9h0M97.0 122.7h0M99.6 116.3h0M96.9 119.3h0M103.3 127.9h0M98.4 116.4h0M97.3 122.4h0M100.1 125.9h0M100.7 125.2h0M97.8 125.3h0M98.6 95.9h0M101.7 127.5h0M98.7 126.1h0M99.3 114.3h0M98.1 123.4h0M99.5 125.4h0M101.2 125.6h0M96.8 126.5h0M100.0 114.8h0M100.5 125.3h0M96.8 127.4h0M99.3 112.1h0M97.5 127.7h0M98.3 127.7h0M98.0 107.4h0M97.6 121.7h0M98.1 113.7h0M97.7 126.1h0M100.5 117.6h0M101.3 122.6h0M98.2 126.4h0M100.0 122.4h0M99.5 100.4h0M98.7 109.6h0M97.1 111.7h0M105.2 125.9h0M99.4 126.9h0M98.6 126.5h0M99.0 124.4h0M97.8 118.8h0M98.7 124.3h0M100.0 123.9h0M99.0 115.4h0M105.6 120.8h0M99.1 124.4h0M98.5 110.5h0M101.1 117.4h0M98.6 114.7h0M100.2 110.0h0M101.3 127.5h0M99.9 107.5h0M97.3 121.4h0M101.0 126.5h0M97.1 127.1h0M97.0 123.6h0M97.0 98.2h0M99.2 125.2h0M99.1 124.2h0M98.5 126.6h0M98.4 81.4h0M103.5 71.3h0M97.7 127.9h0M99.4 113.2h0M98.9 109.8h0M97.9 127.8h0M97.6 125.6h0M97.1 114.6h0M100.1 93.5h0M98.7 118.1h0M97.0 123.5h0M104.2 127.9h0M99.3 125.2h0M101.2 116.3h0M98.7 127.1h0M98.8 118.2h0M100.3 117.7h0M98.4 124.9h0M97.3 126.0h0M100.2 124.4h0M98.7 127.9h0M97.5 113.0h0M98.9 97.2h0M98.6 119.1h0M101.8 122.5h0M97.9 123.3h0M97.1 125.8h0M98.3 104.8h0M97.5 123.6h0M99.2 127.4h0M97.5 126.3h0M99.9 110.0h0M98.4 127.9h0M100.7 125.1h0M99.1 112.4h0M96.9 127.2h0M102.3 123.2h0M97.6 126.8h0M99.0 121.6h0M97.2 118.5h0M98.4 126.5h0M98.1 117.8h0M97.9 124.5h0M99.5 113.2h0M100.7 127.2h0M97.2 115.0h0M98.2 127.0h0M100.6 116.7h0M97.2 118.8h0M100.9 126.9h0M98.1 121.7h0M98.9 124.6h0M100.9 122.9h0M100.9 124.8h0M99.6 116.3h0M99.0 112.1h0M100.1 127.9h0M98.3 127.9h0M99.0 115.8h0M99.0 126.4h0M101.1 110.1h0M97.4 123.2h0M102.6 120.1h0M102.7 122.3h0M98.8 127.6h0M99.6 115.7h0M97.7 126.0h0M98.1 111.6h0M98.9 127.8h0M98.4 127.8h0M98.3 120.8h0M97.2 122.6h0M99.7 126.2h0M100.5 121.8h0M97.0 120.4h0M97.0 124.3h0M97.3 126.9h0M99.8 126.3h0M99.8 126.3h0M100.6 87.7h0M97.1 109.1h0M100.0 120.1h0M98.5 126.4h0M97.0 122.8h0M98.2 117.5h0M99.9 99.3h0M99.1 124.8h0M101.9 125.1h0M98.3 87.8h0M101.3 118.8h0M100.5 109.6h0M98.6 125.7h0M97.9 115.7h0M99.1 124.2h0M98.0 118.8h0M98.1 107.8h0M96.9 117.6h0M96.8 124.7h0M99.8 126.5h0M98.8 123.6h0M98.1 126.4h0M98.3 125.5h0M100.1 115.5h0M99.6 125.3h0M100.5 97.3h0M96.8 123.2h0M97.2 104.6h0M99.2 124.8h0M97.9 125.3h0M99.2 120.1h0M98.9 123.1h0M98.8 125.4h0M97.0 114.6h0M97.1 123.2h0M101.8 116.2h0M104.3 127.8h0M97.0 119.4h0M96.8 123.9h0M103.4 122.7h0M97.4 124.6h0M96.8 120.7h0M99.9 127.1h0M99.0 123.0h0M101.3 115.9h0M97.4 126.6h0M97.2 124.4h0M100.4 113.3h0M99.2 121.1h0M99.8 118.5h0M100.8 111.3h0M100.8 112.8h0M98.5 124.5h0M96.8 123.5h0M100.3 121.2h0M97.6 122.9h0M97.1 118.7h0M97.2 127.3h0M99.2 126.2h0M97.9 127.1h0M101.9 123.7h0M100.7 125.8h0M98.7 119.7h0M99.9 127.9h0M100.6 122.0h0M98.8 122.0h0M100.3 127.9h0M99.2 114.8h0M97.0 117.9h0M101.5 112.3h0M97.0 124.3h0M98.3 118.6h0M97.7 125.5h0M101.6 125.3h0M97.3 125.0h0M97.5 124.2h0M97.6 120.9h0M98.0 127.4h0M97.2 126.5h0M96.8 114.8h0M97.5 127.5h0M102.3 76.6h0M97.9 127.8h0M96.9 127.1h0M97.3 126.7h0M98.7 125.2h0M100.2 121.3h0M98.8 120.3h0M96.9 127.6h0M98.3 118.7h0M96.9 117.8h0M98.2 119.2h0M99.3 127.9h0M98.2 127.7h0M100.9 121.6h0M97.7 121.4h0M97.3 127.7h0M98.0 127.2h0M99.5 126.4h0M97.7 125.5h0M97.5 120.4h0M97.6 124.6h0M96.8 127.5h0M100.3 120.4h0M100.0 121.1h0M101.7 127.2h0M97.5 127.6h0M97.9 127.1h0M97.5 118.3h0M99.0 127.6h0M101.1 124.6h0M101.4 119.1h0M98.1 127.3h0M100.4 125.3h0M97.0 122.7h0M97.9 127.5h0M97.2 126.9h0M99.4 121.1h0M99.3 127.2h0M97.8 126.5h0M98.2 127.7h0M101.7 119.6h0M100.5 116.6h0M98.4 117.7h0M96.8 127.6h0M100.1 127.5h0M99.5 124.2h0M97.0 124.6h0M101.8 126.9h0M99.6 124.9h0M103.2 110.7h0M106.4 127.8h0M99.8 123.9h0M99.8 121.5h0M98.1 117.7h0M97.4 123.9h0M98.5 126.5h0M99.3 123.2h0M97.4 116.5h0M99.1 86.7h0M98.1 120.5h0M97.9 110.6h0M98.5 126.2h0M98.2 124.4h0M98.0 127.6h0M100.5 120.2h0M104.2 122.0h0M98.9 120.7h0M103.1 127.5h0M98.0 118.8h0M97.8 113.9h0M99.8 125.9h0M99.9 111.7h0M99.0 124.1h0M99.1 123.0h0M100.4 109.6h0M99.9 108.0h0M99.9 124.3h0M97.4 92.2h0M99.0 124.6h0M98.8 125.2h0M99.0 123.2h0M99.1 124.8h0M99.6 107.2h0M97.6 110.0h0M96.8 113.9h0M97.6 77.0h0M100.3 125.5h0M97.5 123.5h0M98.8 127.5h0M98.9 126.8h0M97.7 126.7h0M98.9 101.3h0M99.1 87.8h0M100.1 107.8h0M97.6 123.4h0M97.4 122.7h0M100.6 110.1h0M97.5 118.2h0M98.8 118.5h0M101.9 126.4h0M100.2 111.9h0M101.5 114.7h0M97.7 124.7h0M98.2 126.9h0M103.8 123.6h0M100.3 127.7h0M99.4 117.9h0M96.8 124.9h0M97.2 122.7h0M97.2 109.5h0M103.6 127.9h0M99.0 119.6h0M98.6 126.5h0M97.2 116.3h0M97.1 126.9h0M99.3 104.5h0M97.6 115.0h0M99.1 116.8h0M98.3 68.2h0M100.8 123.6h0M97.7 127.2h0M100.7 122.5h0M97.5 119.4h0M98.3 100.3h0M101.2 126.0h0M99.1 121.1h0M99.7 123.4h0M98.2 127.6h0M98.1 125.3h0M100.3 127.7h0M99.2 126.8h0M99.8 127.5h0M97.3 126.5h0M96.9 127.0h0M98.0 118.7h0M98.0 118.5h0M100.8 120.0h0M100.0 113.1h0M97.2 126.8h0M99.2 124.7h0M98.8 126.6h0M97.0 114.8h0M97.1 126.9h0M97.4 124.3h0M101.6 110.4h0M99.7 125.7h0M100.3 109.6h0M96.8 127.6h0M98.2 123.4h0M101.0 127.6h0M97.8 126.2h0M102.8 121.5h0M98.4 126.3h0M99.0 126.7h0M101.5 127.3h0M99.6 125.9h0M99.3 127.9h0M98.2 120.9h0M99.0 119.3h0M99.1 126.8h0M97.1 119.7h0M99.2 125.8h0M104.2 123.7h0M99.4 117.5h0M103.5 123.9h0M97.3 114.0h0M97.7 121.0h0M100.6 112.9h0M101.8 126.0h0M98.4 121.5h0M97.0 122.9h0M100.9 126.4h0M97.3 119.0h0M99.3 110.5h0M97.0 127.6h0M98.4 121.6h0M100.8 121.7h0M97.8 116.4h0M99.1 117.9h0M98.5 113.5h0M97.5 124.6h0M100.5 104.1h0M101.9 122.0h0M96.9 114.5h0M97.2 127.5h0M98.9 114.3h0M103.0 120.2h0M96.9 125.4h0M97.1 127.0h0M97.8 126.6h0M100.7 124.4h0M98.1 110.6h0M102.1 112.0h0M97.7 127.1h0M97.3 116.4h0M97.2 117.4h0M100.5 109.9h0M101.6 113.3h0M98.3 121.2h0M97.7 112.0h0M96.8 120.0h0M101.8 123.5h0M101.9 104.6h0M105.2 126.4h0M97.8 120.9h0M102.8 124.2h0M97.2 94.8h0M97.4 101.0h0M100.2 126.3h0M100.7 124.0h0M100.5 118.5h0M97.5 102.4h0M97.1 125.6h0M99.8 121.8h0M99.3 125.8h0M100.9 118.6h0M98.7 122.3h0M96.8 127.8h0M97.9 127.7h0M98.1 85.6h0M99.4 120.2h0M97.6 109.4h0M98.3 123.7h0M98.3 127.5h0M97.8 112.2h0M99.1 108.5h0M97.4 127.3h0M97.9 113.7h0M97.0 117.8h0M99.2 127.2h0M99.3 124.6h0M99.8 126.8h0M96.8 126.4h0M101.1 126.5h0M99.9 95.6h0M96.9 120.0h0M101.4 116.8h0M98.2 123.5h0M101.1 121.3h0M97.8 115.3h0M98.3 125.4h0M97.1 120.5h0M101.4 125.8h0M97.6 126.2h0M98.7 124.1h0M96.9 121.9h0M97.5 123.6h0M99.2 120.0h0M102.0 124.3h0M96.9 116.6h0M101.5 105.7h0M98.1 122.6h0M98.3 105.7h0M101.5 112.6h0M98.0 116.1h0M98.5 112.0h0M100.3 118.7h0M99.5 125.7h0M97.5 123.6h0M102.6 127.2h0M97.3 122.4h0M99.7 122.4h0M98.5 116.3h0M97.4 121.7h0M101.7 127.7h0M97.1 122.7h0M98.8 126.6h0M97.7 126.4h0M98.5 120.1h0M100.5 127.8h0M101.7 124.3h0M100.5 103.6h0M99.9 113.7h0M101.2 127.7h0M97.3 120.0h0M96.8 127.7h0M98.3 126.3h0M97.4 124.3h0M98.2 126.0h0M97.3 124.0h0M97.2 125.1h0M96.9 121.6h0M102.1 116.7h0M105.5 79.6h0M99.0 121.4h0M101.5 119.8h0M97.5 118.5h0M98.8 124.5h0M97.5 127.7h0M97.8 127.3h0M97.0 117.5h0M100.1 120.0h0M98.9 117.2h0M99.4 125.9h0M98.8 114.9h0M97.5 121.9h0M101.0 126.5h0M98.8 127.1h0M99.5 107.6h0M99.5 125.5h0M99.0 123.3h0M99.8 127.2h0M98.0 122.2h0M99.5 127.9h0M96.9 124.8h0M100.1 116.0h0M99.9 113.0h0M102.1 125.9h0M97.4 124.3h0M101.5 119.8h0M98.4 119.5h0M103.1 113.9h0M97.0 124.5h0M101.3 120.9h0M101.1 127.3h0M97.1 127.2h0M99.8 116.7h0M98.7 124.0h0M101.5 117.5h0M97.2 118.7h0M99.9 116.1h0M101.1 126.5h0M98.7 118.7h0M101.6 103.2h0M101.1 125.1h0M98.4 125.3h0M102.3 125.1h0M97.1 126.7h0M96.9 112.9h0M99.0 126.7h0M98.3 125.1h0M98.2 123.7h0M100.9 125.7h0M101.1 121.5h0M96.8 125.3h0M99.2 124.7h0M98.9 124.1h0M97.9 116.9h0M99.5 123.8h0M98.9 116.9h0M100.4 127.0h0M99.6 120.4h0M96.8 124.8h0M98.4 125.0h0M100.9 99.6h0M98.3 126.3h0M97.1 100.0h0M97.4 124.2h0M99.2 126.6h0M97.0 126.5h0M97.5 122.2h0M100.8 125.5h0M98.4 119.1h0M100.6 127.8h0M103.2 126.6h0M97.0 107.4h0M100.2 126.4h0M97.3 115.2h0M99.3 120.2h0M98.2 121.5h0M100.7 122.8h0M98.9 106.2h0M97.0 127.4h0M98.7 115.6h0M100.8 123.0h0M97.3 123.8h0M98.6 113.2h0M99.1 124.7h0M98.4 115.8h0M98.5 115.4h0M98.5 118.9h0M100.4 124.6h0M96.8 126.8h0M99.0 127.7h0M99.7 79.4h0M99.8 127.7h0M101.0 120.0h0M102.0 116.4h0M99.2 125.4h0M98.6 124.2h0M100.2 102.9h0M97.2 100.9h0M99.0 125.2h0M99.0 126.5h0M99.6 123.5h0M96.9 125.1h0M101.6 124.7h0M97.4 127.1h0M101.3 119.0h0M99.9 125.3h0M99.5 112.2h0M100.3 122.9h0M101.0 100.4h0M98.3 100.1h0M99.1 113.4h0M98.1 112.3h0M99.8 124.2h0M101.5 124.4h0M96.9 121.5h0M99.9 117.8h0M97.4 124.5h0M99.4 125.1h0M98.9 127.6h0M98.4 126.8h0M102.8 123.0h0M99.4 127.7h0M96.9 111.2h0M98.3 116.6h0M98.6 125.6h0M101.0 121.4h0M105.4 107.8h0M98.5 125.0h0M99.7 124.9h0M102.0 111.6h0M97.3 119.2h0M99.4 107.9h0M100.0 118.1h0M98.4 122.7h0M99.0 118.3h0M98.3 127.0h0M96.8 117.1h0M97.2 126.7h0M97.2 123.1h0M97.3 119.7h0M100.7 115.9h0M101.9 127.6h0M101.4 123.7h0M104.4 119.4h0M97.3 126.8h0M100.6 109.2h0M98.7 126.8h0M97.9 124.2h0M97.6 118.0h0M97.3 125.9h0M99.4 123.6h0M98.8 127.9h0M99.5 117.5h0M96.9 124.4h0M99.1 127.2h0M99.0 127.4h0M97.5 122.7h0M97.3 127.9h0M97.0 125.3h0M99.7 119.0h0M100.3 112.1h0M101.5 104.9h0M97.7 124.9h0M97.2 126.1h0M98.7 127.1h0M100.7 126.5h0M102.1 106.3h0M97.2 111.9h0M98.5 115.8h0M98.7 122.2h0M102.1 119.1h0M99.7 124.2h0M99.0 112.0h0M100.6 123.5h0M98.0 124.8h0M98.2 103.5h0M98.0 122.9h0M98.5 123.9h0M98.1 127.2h0M98.8 118.1h0M96.8 117.4h0M99.3 117.5h0M102.9 107.0h0M97.2 127.9h0M98.2 114.0h0M98.6 124.2h0M99.0 127.3h0M99.8 122.9h0M97.7 119.4h0M99.5 107.4h0M100.9 115.5h0M97.6 127.3h0M97.9 122.2h0M97.0 113.8h0M98.4 124.5h0M102.5 126.0h0M106.0 119.4h0M99.1 102.5h0M97.9 111.7h0M99.3 117.6h0M99.4 114.6h0M97.6 125.2h0M105.0 118.2h0M99.7 127.6h0M99.1 122.9h0M99.3 119.0h0M99.7 119.0h0M103.5 117.4h0M100.4 125.2h0M98.4 126.5h0M99.2 127.7h0M97.0 114.5h0M96.9 127.8h0M99.9 105.5h0M97.4 127.7h0M97.6 125.2h0M98.4 126.5h0M100.5 124.8h0M96.9 127.9h0M98.0 109.1h0M98.0 106.2h0M98.5 126.0h0M100.3 127.7h0M100.1 121.1h0M97.8 124.4h0M97.2 120.3h0M98.7 124.9h0M99.9 121.7h0M98.7 127.7h0M98.1 126.5h0M97.0 127.6h0M98.0 124.1h0M98.9 125.8h0M103.1 120.4h0M97.5 121.5h0M99.3 121.2h0M99.3 117.4h0M97.6 120.3h0M98.2 102.9h0M96.9 126.7h0M100.7 114.1h0M100.1 119.6h0M97.9 126.2h0M98.1 120.1h0M97.5 126.4h0M97.1 126.7h0M98.5 125.4h0M97.0 125.4h0M97.7 117.0h0M99.9 111.9h0M101.6 127.9h0M101.6 114.7h0M98.0 105.6h0M100.7 117.7h0M100.2 99.2h0M99.6 114.3h0M101.2 127.3h0M99.1 127.5h0M98.1 121.4h0M100.7 118.4h0M99.9 126.2h0M97.3 122.7h0M100.6 124.7h0M97.8 127.3h0M99.4 122.7h0M97.7 122.2h0M99.5 119.2h0M97.4 118.2h0M98.7 125.9h0M99.2 104.4h0M99.6 111.9h0M101.2 107.5h0M98.8 118.8h0M100.1 120.0h0M101.0 121.0h0M100.0 118.6h0M101.1 121.1h0M98.7 125.9h0M98.3 124.6h0M96.8 124.1h0M103.0 103.5h0M96.8 121.0h0M97.6 109.8h0M99.5 124.3h0M97.1 126.8h0M100.2 127.9h0M96.9 126.9h0M99.9 119.5h0M99.7 127.9h0M98.0 118.8h0M97.9 120.6h0M97.8 124.6h0M100.4 125.4h0M98.1 117.9h0M98.7 118.8h0M98.8 127.8h0M98.8 115.1h0M98.0 124.4h0M99.9 126.8h0M97.0 109.7h0M97.1 118.3h0M99.5 91.4h0M99.0 126.3h0M103.4 97.8h0M105.7 89.4h0M100.8 31.0h0M104.2 111.1h0M107.3 98.3h0M99.6 74.9h0M100.0 68.3h0M99.0 54.3h0M99.5 92.3h0M103.4 108.5h0M104.3 104.5h0M100.0 76.7h0M103.1 66.5h0M100.2 69.4h0M106.5 87.0h0M101.5 88.1h0M100.9 99.2h0M103.6 74.1h0M100.3 51.0h0M98.8 70.7h0M101.2 104.1h0M98.9 73.7h0M98.8 54.1h0M101.5 80.8h0M100.4 41.1h0M99.5 89.5h0M103.3 66.6h0M104.4 90.3h0M109.6 121.9h0M99.7 87.1h0M100.4 97.2h0M98.0 68.3h0M97.9 46.5h0M101.6 51.1h0M106.6 94.0h0M99.2 104.7h0M98.0 63.4h0M100.0 46.0h0M98.7 83.9h0M99.6 70.8h0M98.7 73.8h0M99.5 69.0h0M103.0 104.6h0M99.1 67.7h0M100.8 87.0h0M99.5 64.5h0M100.4 102.3h0M104.6 97.0h0M101.1 100.0h0M99.9 47.5h0M103.9 54.1h0M98.3 54.2h0M99.9 76.7h0M99.3 73.6h0M98.9 61.0h0M101.6 92.7h0M98.8 106.8h0M98.4 43.2h0M104.7 87.9h0M101.1 52.2h0M99.4 71.8h0M100.5 87.0h0M102.6 107.8h0M100.8 60.6h0M98.4 68.2h0M106.9 118.6h0M99.6 96.9h0M106.8 84.3h0M106.6 90.5h0M107.6 113.6h0M100.3 78.2h0M102.8 63.7h0M110.5 114.2h0M105.1 108.9h0M97.9 60.4h0M100.8 62.9h0M108.2 103.2h0M100.3 100.2h0M100.9 78.6h0M97.7 62.3h0M105.1 100.6h0M99.1 64.7h0M101.1 75.1h0M99.2 65.2h0M102.6 50.2h0M106.0 84.5h0M98.4 101.3h0M102.1 60.0h0M105.6 113.9h0M103.6 91.0h0M101.5 52.5h0M100.7 46.8h0M98.4 33.3h0M101.4 87.8h0M99.1 67.0h0M101.7 59.5h0M98.8 46.8h0M102.8 48.7h0M102.4 86.6h0M100.7 95.4h0M100.8 89.2h0M100.9 48.1h0M100.1 102.7h0M100.1 88.5h0M98.1 46.1h0M98.3 36.0h0M99.3 73.0h0M100.2 46.2h0M105.6 98.0h0M105.0 100.5h0M105.7 89.8h0M103.6 104.4h0M100.3 70.7h0M102.8 64.2h0M102.8 43.3h0M100.5 37.6h0M100.0 90.9h0M103.8 85.3h0M104.3 110.0h0M98.4 104.8h0M109.7 107.5h0M101.5 95.0h0M98.9 80.7h0M102.5 58.1h0M103.6 97.9h0M102.0 78.4h0M98.0 100.8h0M101.8 49.0h0M100.7 81.2h0M104.6 104.8h0M98.1 86.6h0M99.4 61.6h0M106.2 99.3h0M101.0 84.9h0M98.2 86.8h0M104.7 94.8h0M110.4 118.5h0M102.5 84.1h0M99.7 53.9h0M98.2 83.1h0M103.1 104.4h0M103.1 106.4h0M98.7 80.5h0M104.5 57.6h0M100.0 74.1h0M98.3 78.9h0M100.6 105.2h0M101.2 70.2h0M98.1 107.2h0M98.0 92.2h0M103.7 99.6h0M102.9 87.1h0M102.4 98.5h0M100.8 93.4h0M108.3 121.4h0M102.4 75.0h0M101.8 89.3h0M100.7 42.1h0M104.2 66.9h0M101.4 73.4h0M106.0 77.3h0M101.0 82.9h0M100.4 103.1h0M103.9 59.9h0M105.0 64.0h0M100.9 105.2h0M103.7 87.0h0M98.6 106.7h0M97.7 61.6h0M100.5 42.8h0M104.1 126.1h0M116.9 122.4h0M112.9 124.7h0M105.5 127.3h0M107.2 126.1h0M106.5 126.6h0M106.4 127.6h0M113.1 123.4h0M103.4 127.1h0M120.5 121.0h0M109.8 126.0h0M110.4 125.8h0M117.1 122.0h0M103.7 127.7h0M106.4 126.4h0M116.0 122.7h0M115.5 122.1h0M111.9 124.4h0M116.8 122.7h0M114.9 123.8h0M116.4 122.3h0M119.1 120.9h0M116.7 123.0h0M119.4 121.0h0M111.0 125.2h0M118.7 122.7h0M117.1 123.1h0M102.4 126.8h0M112.8 123.5h0M120.4 120.4h0M111.2 125.1h0M109.6 126.0h0M109.5 125.2h0M118.7 121.5h0M109.3 126.6h0M106.4 126.1h0M116.1 123.4h0M122.1 119.4h0M114.6 123.3h0M102.9 126.8h0M104.3 126.3h0M108.4 125.5h0M116.9 123.3h0M120.5 121.4h0M117.6 121.6h0M104.4 126.6h0M115.9 124.0h0M117.9 123.3h0M111.5 124.3h0M106.6 125.0h0M112.8 123.9h0M111.2 125.1h0M109.3 125.5h0M102.6 127.9h0M107.5 126.8h0M117.2 121.8h0M108.6 125.3h0M115.5 124.6h0M110.6 124.4h0M106.7 126.1h0M117.1 121.9h0M120.8 120.7h0M116.8 122.7h0M117.2 123.1h0M110.3 125.1h0M119.8 120.6h0M122.0 120.5h0M114.3 123.6h0M116.9 122.9h0M104.4 126.3h0M103.5 126.5h0M115.6 124.7h0M109.4 125.3h0M108.1 125.4h0M114.3 124.1h0M103.0 127.3h0M113.6 124.2h0M116.3 123.6h0M117.1 122.6h0M102.6 126.3h0M103.6 126.8h0M118.3 121.0h0M119.9 120.4h0M120.1 120.2h0M113.2 124.1h0M108.9 125.3h0M118.7 120.4h0M109.6 124.6h0M121.2 120.2h0M112.5 124.9h0M102.5 127.9h0M102.7 127.1h0M120.3 120.6h0M108.6 127.0h0M106.0 126.4h0M103.5 126.9h0M108.9 125.6h0M121.2 120.7h0M102.4 125.9h0M118.3 121.4h0M110.0 126.3h0M117.9 122.6h0M119.2 120.9h0M120.5 120.4h0M106.0 126.5h0M116.6 122.8h0M105.2 126.9h0M106.5 126.7h0M106.6 127.1h0M121.8 119.6h0M120.2 122.6h0M117.3 122.9h0M106.2 125.7h0M104.7 127.4h0M117.5 123.1h0M113.1 123.1h0M118.9 121.0h0M116.1 123.1h0M109.3 126.0h0M113.1 124.4h0M118.5 122.1h0M111.5 125.1h0M102.9 127.7h0M110.8 124.8h0M117.2 122.9h0M113.9 125.1h0M118.8 122.5h0M117.0 122.6h0M114.5 124.4h0M116.9 124.2h0M107.1 125.4h0M105.8 126.3h0M104.6 127.2h0M110.8 125.5h0M110.7 124.9h0M107.6 125.3h0M118.3 122.3h0M106.6 126.2h0M103.3 127.6h0M111.3 124.8h0M109.7 126.3h0M102.8 127.9h0M111.3 124.9h0M111.4 125.0h0M120.2 120.5h0M115.3 123.8h0M107.1 125.5h0M121.5 120.1h0M119.3 120.5h0M120.3 121.1h0M110.0 124.5h0M106.9 126.4h0M119.6 121.2h0M118.5 121.2h0M115.5 124.4h0M104.1 127.7h0M110.6 124.1h0M104.6 127.9h0M121.3 120.6h0M107.4 125.9h0M119.8 120.3h0M117.3 122.8h0M113.2 124.2h0M116.8 123.4h0M108.0 126.3h0M103.3 126.6h0M118.8 121.5h0M110.5 125.3h0M103.0 127.0h0M110.6 125.1h0M112.4 113.5h0M115.5 111.9h0M111.9 105.3h0M110.3 101.6h0M112.1 108.1h0M119.8 96.6h0M117.8 118.1h0M105.6 110.3h0M117.5 115.2h0M123.6 113.8h0M112.7 122.0h0M122.7 109.0h0M120.6 106.6h0M114.8 119.8h0M105.3 121.4h0M116.3 122.0h0M110.3 111.3h0M126.4 98.9h0M123.3 123.8h0M116.2 123.7h0M119.7 101.7h0M121.9 115.4h0M125.3 109.8h0M119.2 103.5h0M113.2 116.9h0M107.3 97.0h0M122.5 113.8h0M105.8 110.9h0M104.3 96.9h0M121.8 109.2h0M120.6 118.9h0M112.6 117.3h0M123.1 100.9h0M124.5 113.9h0M113.0 115.1h0M104.1 124.3h0M106.7 124.1h0M113.5 120.9h0M109.2 116.5h0M106.0 96.8h0" stroke="#e6443b" stroke-width="1.2" stroke-linecap="round" opacity="0.9" fill="none"/>
<line x1="42.30" y1="128.00" x2="43.30" y2="128.00" stroke="#666" stroke-width="0.3"/>
<text x="41.80" y="129.00" font-size="3.0" text-anchor="end" fill="#444">0</text>
<line x1="42.30" y1="94.67" x2="43.30" y2="94.67" stroke="#666" stroke-width="0.3"/>
<text x="41.80" y="95.67" font-size="3.0" text-anchor="end" fill="#444">100</text>
<line x1="42.30" y1="61.34" x2="43.30" y2="61.34" stroke="#666" stroke-width="0.3"/>
<text x="41.80" y="62.34" font-size="3.0" text-anchor="end" fill="#444">200</text>
<line x1="42.30" y1="28.01" x2="43.30" y2="28.01" stroke="#666" stroke-width="0.3"/>
<text x="41.80" y="29.01" font-size="3.0" text-anchor="end" fill="#444">300</text>
<line x1="49.65" y1="133.20" x2="49.65" y2="134.20" stroke="#666" stroke-width="0.3"/>
<text x="49.65" y="136.80" font-size="3.0" text-anchor="middle" fill="#444">-20</text>
<line x1="72.03" y1="133.20" x2="72.03" y2="134.20" stroke="#666" stroke-width="0.3"/>
<text x="72.03" y="136.80" font-size="3.0" text-anchor="middle" fill="#444">-10</text>
<line x1="94.40" y1="133.20" x2="94.40" y2="134.20" stroke="#666" stroke-width="0.3"/>
<text x="94.40" y="136.80" font-size="3.0" text-anchor="middle" fill="#444">0</text>
<line x1="116.78" y1="133.20" x2="116.78" y2="134.20" stroke="#666" stroke-width="0.3"/>
<text x="116.78" y="136.80" font-size="3.0" text-anchor="middle" fill="#444">10</text>
<line x1="139.15" y1="133.20" x2="139.15" y2="134.20" stroke="#666" stroke-width="0.3"/>
<text x="139.15" y="136.80" font-size="3.0" text-anchor="middle" fill="#444">20</text>
<text x="94.40" y="140.40" font-size="3.0" text-anchor="middle" fill="#333">log2 FoldChange</text>
<text x="35.90" y="72.10" font-size="2.8" text-anchor="middle" fill="#222" transform="rotate(-90 35.90 72.10)" stroke="#222" stroke-width="0.05">-log10(p-value)</text>
<text x="51.60" y="18.30" font-size="9" font-weight="bold" fill="#222">Control</text>
<text x="90.60" y="18.30" font-size="9" font-weight="bold" fill="#222">vs</text>
<text x="112.20" y="18.30" font-size="9" font-weight="bold" fill="#222">LPS</text>
<text x="49.60" y="41.20" font-size="9" font-weight="bold" fill="#222">1321</text>
<text x="118.80" y="41.20" font-size="9" font-weight="bold" fill="#222">2084</text>
<rect x="147.90" y="22.90" width="1.80" height="0.80" fill="#e6443b"/>
<text x="151.90" y="24.50" font-size="3.4" fill="#222" stroke="#222" stroke-width="0.05">Significant Up</text>
<rect x="147.90" y="26.90" width="1.80" height="0.80" fill="#3f7fbf"/>
<text x="151.90" y="28.50" font-size="3.4" fill="#222" stroke="#222" stroke-width="0.05">Significant Down</text>
<rect x="147.90" y="30.90" width="1.80" height="0.80" fill="#f2a09a"/>
<text x="151.90" y="32.50" font-size="3.4" fill="#222" stroke="#222" stroke-width="0.05">Up</text>
<rect x="147.90" y="34.90" width="1.80" height="0.80" fill="#9fc3e4"/>
<text x="151.90" y="36.50" font-size="3.4" fill="#222" stroke="#222" stroke-width="0.05">Down</text>
<rect x="147.90" y="38.90" width="1.80" height="0.80" fill="#cccccc"/>
<text x="151.90" y="40.50" font-size="3.4" fill="#222" stroke="#222" stroke-width="0.05">Non-significant</text>
<rect x="44.10" y="150.80" width="50.60" height="3.90" fill="#e8924f"/>
<rect x="94.70" y="150.80" width="50.60" height="3.90" fill="#8ccbec"/>
<rect x="44.10" y="156.00" width="13.25" height="2.10" fill="#e9ad75"/>
<rect x="56.75" y="156.00" width="13.25" height="2.10" fill="#eab37a"/>
<rect x="69.40" y="156.00" width="13.25" height="2.10" fill="#f2e9ce"/>
<rect x="82.05" y="156.00" width="13.25" height="2.10" fill="#f1e3c0"/>
<rect x="94.70" y="156.00" width="13.25" height="2.10" fill="#78a1ce"/>
<rect x="107.35" y="156.00" width="13.25" height="2.10" fill="#6f9ac9"/>
<rect x="120.00" y="156.00" width="13.25" height="2.10" fill="#7ca5cf"/>
<rect x="132.65" y="156.00" width="12.65" height="2.10" fill="#5a86ba"/>
<rect x="44.10" y="157.50" width="13.25" height="2.10" fill="#ebb67d"/>
<rect x="56.75" y="157.50" width="13.25" height="2.10" fill="#e3925d"/>
<rect x="69.40" y="157.50" width="13.25" height="2.10" fill="#ebb87f"/>
<rect x="82.05" y="157.50" width="13.25" height="2.10" fill="#edc289"/>
<rect x="94.70" y="157.50" width="13.25" height="2.10" fill="#8eb3d7"/>
<rect x="107.35" y="157.50" width="13.25" height="2.10" fill="#77a1cd"/>
<rect x="120.00" y="157.50" width="13.25" height="2.10" fill="#78a2ce"/>
<rect x="132.65" y="157.50" width="12.65" height="2.10" fill="#8bb1d6"/>
<rect x="44.10" y="158.99" width="13.25" height="2.10" fill="#9bbddc"/>
<rect x="56.75" y="158.99" width="13.25" height="2.10" fill="#f1e4c3"/>
<rect x="69.40" y="158.99" width="13.25" height="2.10" fill="#d8e5eb"/>
<rect x="82.05" y="158.99" width="13.25" height="2.10" fill="#82a9d2"/>
<rect x="94.70" y="158.99" width="13.25" height="2.10" fill="#6893c4"/>
<rect x="107.35" y="158.99" width="13.25" height="2.10" fill="#5f8bbe"/>
<rect x="120.00" y="158.99" width="13.25" height="2.10" fill="#5c87bb"/>
<rect x="132.65" y="158.99" width="12.65" height="2.10" fill="#6e98c8"/>
<rect x="44.10" y="160.49" width="13.25" height="2.10" fill="#efce9a"/>
<rect x="56.75" y="160.49" width="13.25" height="2.10" fill="#f0dcb0"/>
<rect x="69.40" y="160.49" width="13.25" height="2.10" fill="#ebb980"/>
<rect x="82.05" y="160.49" width="13.25" height="2.10" fill="#e8aa72"/>
<rect x="94.70" y="160.49" width="13.25" height="2.10" fill="#7ba4cf"/>
<rect x="107.35" y="160.49" width="13.25" height="2.10" fill="#86add4"/>
<rect x="120.00" y="160.49" width="13.25" height="2.10" fill="#709ac9"/>
<rect x="132.65" y="160.49" width="12.65" height="2.10" fill="#6893c4"/>
<rect x="44.10" y="161.98" width="13.25" height="2.10" fill="#efce99"/>
<rect x="56.75" y="161.98" width="13.25" height="2.10" fill="#e9ad75"/>
<rect x="69.40" y="161.98" width="13.25" height="2.10" fill="#f5f7f0"/>
<rect x="82.05" y="161.98" width="13.25" height="2.10" fill="#f2e6c7"/>
<rect x="94.70" y="161.98" width="13.25" height="2.10" fill="#5884b9"/>
<rect x="107.35" y="161.98" width="13.25" height="2.10" fill="#6f99c8"/>
<rect x="120.00" y="161.98" width="13.25" height="2.10" fill="#749ecb"/>
<rect x="132.65" y="161.98" width="12.65" height="2.10" fill="#6490c1"/>
<rect x="44.10" y="163.48" width="13.25" height="2.10" fill="#e3925d"/>
<rect x="56.75" y="163.48" width="13.25" height="2.10" fill="#e59d65"/>
<rect x="69.40" y="163.48" width="13.25" height="2.10" fill="#e7a66e"/>
<rect x="82.05" y="163.48" width="13.25" height="2.10" fill="#e18858"/>
<rect x="94.70" y="163.48" width="13.25" height="2.10" fill="#709bc9"/>
<rect x="107.35" y="163.48" width="13.25" height="2.10" fill="#709ac9"/>
<rect x="120.00" y="163.48" width="13.25" height="2.10" fill="#5682b7"/>
<rect x="132.65" y="163.48" width="12.65" height="2.10" fill="#6d98c7"/>
<rect x="44.10" y="164.97" width="13.25" height="2.10" fill="#efcc97"/>
<rect x="56.75" y="164.97" width="13.25" height="2.10" fill="#f3edd9"/>
<rect x="69.40" y="164.97" width="13.25" height="2.10" fill="#f1e2bd"/>
<rect x="82.05" y="164.97" width="13.25" height="2.10" fill="#efd8aa"/>
<rect x="94.70" y="164.97" width="13.25" height="2.10" fill="#749ecc"/>
<rect x="107.35" y="164.97" width="13.25" height="2.10" fill="#6c96c6"/>
<rect x="120.00" y="164.97" width="13.25" height="2.10" fill="#739dcb"/>
<rect x="132.65" y="164.97" width="12.65" height="2.10" fill="#6792c3"/>
<rect x="44.10" y="166.47" width="13.25" height="2.10" fill="#e8a870"/>
<rect x="56.75" y="166.47" width="13.25" height="2.10" fill="#eec991"/>
<rect x="69.40" y="166.47" width="13.25" height="2.10" fill="#e8a76f"/>
<rect x="82.05" y="166.47" width="13.25" height="2.10" fill="#e08355"/>
<rect x="94.70" y="166.47" width="13.25" height="2.10" fill="#729cca"/>
<rect x="107.35" y="166.47" width="13.25" height="2.10" fill="#a6c6e1"/>
<rect x="120.00" y="166.47" width="13.25" height="2.10" fill="#9dbfdd"/>
<rect x="132.65" y="166.47" width="12.65" height="2.10" fill="#90b5d8"/>
<rect x="44.10" y="167.97" width="13.25" height="2.10" fill="#efd09d"/>
<rect x="56.75" y="167.97" width="13.25" height="2.10" fill="#a4c4e0"/>
<rect x="69.40" y="167.97" width="13.25" height="2.10" fill="#f1e3bf"/>
<rect x="82.05" y="167.97" width="13.25" height="2.10" fill="#efcf9b"/>
<rect x="94.70" y="167.97" width="13.25" height="2.10" fill="#638ec0"/>
<rect x="107.35" y="167.97" width="13.25" height="2.10" fill="#5783b9"/>
<rect x="120.00" y="167.97" width="13.25" height="2.10" fill="#6994c5"/>
<rect x="132.65" y="167.97" width="12.65" height="2.10" fill="#7ba4cf"/>
<rect x="44.10" y="169.46" width="13.25" height="2.10" fill="#df7a50"/>
<rect x="56.75" y="169.46" width="13.25" height="2.10" fill="#ecba81"/>
<rect x="69.40" y="169.46" width="13.25" height="2.10" fill="#dd734c"/>
<rect x="82.05" y="169.46" width="13.25" height="2.10" fill="#d44132"/>
<rect x="94.70" y="169.46" width="13.25" height="2.10" fill="#709ac9"/>
<rect x="107.35" y="169.46" width="13.25" height="2.10" fill="#82a9d2"/>
<rect x="120.00" y="169.46" width="13.25" height="2.10" fill="#7ba4cf"/>
<rect x="132.65" y="169.46" width="12.65" height="2.10" fill="#76a0cd"/>
<rect x="44.10" y="170.96" width="13.25" height="2.10" fill="#f1e1bc"/>
<rect x="56.75" y="170.96" width="13.25" height="2.10" fill="#f1e4c1"/>
<rect x="69.40" y="170.96" width="13.25" height="2.10" fill="#f3efdc"/>
<rect x="82.05" y="170.96" width="13.25" height="2.10" fill="#f4f2e4"/>
<rect x="94.70" y="170.96" width="13.25" height="2.10" fill="#638fc1"/>
<rect x="107.35" y="170.96" width="13.25" height="2.10" fill="#79a3ce"/>
<rect x="120.00" y="170.96" width="13.25" height="2.10" fill="#6792c3"/>
<rect x="132.65" y="170.96" width="12.65" height="2.10" fill="#5884b9"/>
<rect x="44.10" y="172.45" width="13.25" height="2.10" fill="#e7a36b"/>
<rect x="56.75" y="172.45" width="13.25" height="2.10" fill="#d44132"/>
<rect x="69.40" y="172.45" width="13.25" height="2.10" fill="#ebb77e"/>
<rect x="82.05" y="172.45" width="13.25" height="2.10" fill="#eecb94"/>
<rect x="94.70" y="172.45" width="13.25" height="2.10" fill="#79a2ce"/>
<rect x="107.35" y="172.45" width="13.25" height="2.10" fill="#96b9da"/>
<rect x="120.00" y="172.45" width="13.25" height="2.10" fill="#5e8abd"/>
<rect x="132.65" y="172.45" width="12.65" height="2.10" fill="#608bbe"/>
<rect x="44.10" y="173.95" width="13.25" height="2.10" fill="#f1e5c5"/>
<rect x="56.75" y="173.95" width="13.25" height="2.10" fill="#dc6c49"/>
<rect x="69.40" y="173.95" width="13.25" height="2.10" fill="#efd8aa"/>
<rect x="82.05" y="173.95" width="13.25" height="2.10" fill="#eeca92"/>
<rect x="94.70" y="173.95" width="13.25" height="2.10" fill="#87add4"/>
<rect x="107.35" y="173.95" width="13.25" height="2.10" fill="#9bbedc"/>
<rect x="120.00" y="173.95" width="13.25" height="2.10" fill="#7da5d0"/>
<rect x="132.65" y="173.95" width="12.65" height="2.10" fill="#8eb3d7"/>
<rect x="44.10" y="175.44" width="13.25" height="2.10" fill="#6994c5"/>
<rect x="56.75" y="175.44" width="13.25" height="2.10" fill="#f5f6ed"/>
<rect x="69.40" y="175.44" width="13.25" height="2.10" fill="#94b8d9"/>
<rect x="82.05" y="175.44" width="13.25" height="2.10" fill="#e8efee"/>
<rect x="94.70" y="175.44" width="13.25" height="2.10" fill="#9bbddc"/>
<rect x="107.35" y="175.44" width="13.25" height="2.10" fill="#90b4d7"/>
<rect x="120.00" y="175.44" width="13.25" height="2.10" fill="#94b8d9"/>
<rect x="132.65" y="175.44" width="12.65" height="2.10" fill="#7aa4cf"/>
<rect x="44.10" y="176.94" width="13.25" height="2.10" fill="#f1e2be"/>
<rect x="56.75" y="176.94" width="13.25" height="2.10" fill="#f0e0b8"/>
<rect x="69.40" y="176.94" width="13.25" height="2.10" fill="#f2e7c9"/>
<rect x="82.05" y="176.94" width="13.25" height="2.10" fill="#f0e0b9"/>
<rect x="94.70" y="176.94" width="13.25" height="2.10" fill="#78a1ce"/>
<rect x="107.35" y="176.94" width="13.25" height="2.10" fill="#709ac9"/>
<rect x="120.00" y="176.94" width="13.25" height="2.10" fill="#5d89bc"/>
<rect x="132.65" y="176.94" width="12.65" height="2.10" fill="#739dcb"/>
<rect x="44.10" y="178.43" width="13.25" height="2.10" fill="#edc289"/>
<rect x="56.75" y="178.43" width="13.25" height="2.10" fill="#eec991"/>
<rect x="69.40" y="178.43" width="13.25" height="2.10" fill="#e69e66"/>
<rect x="82.05" y="178.43" width="13.25" height="2.10" fill="#efd7a8"/>
<rect x="94.70" y="178.43" width="13.25" height="2.10" fill="#a7c7e1"/>
<rect x="107.35" y="178.43" width="13.25" height="2.10" fill="#c4d9e8"/>
<rect x="120.00" y="178.43" width="13.25" height="2.10" fill="#ccdee9"/>
<rect x="132.65" y="178.43" width="12.65" height="2.10" fill="#83abd2"/>
<rect x="44.10" y="179.93" width="13.25" height="2.10" fill="#eec990"/>
<rect x="56.75" y="179.93" width="13.25" height="2.10" fill="#eec78e"/>
<rect x="69.40" y="179.93" width="13.25" height="2.10" fill="#eec88f"/>
<rect x="82.05" y="179.93" width="13.25" height="2.10" fill="#eecb95"/>
<rect x="94.70" y="179.93" width="13.25" height="2.10" fill="#6490c1"/>
<rect x="107.35" y="179.93" width="13.25" height="2.10" fill="#749ecc"/>
<rect x="120.00" y="179.93" width="13.25" height="2.10" fill="#6d98c7"/>
<rect x="132.65" y="179.93" width="12.65" height="2.10" fill="#7aa3ce"/>
<rect x="44.10" y="181.43" width="13.25" height="2.10" fill="#efd19e"/>
<rect x="56.75" y="181.43" width="13.25" height="2.10" fill="#efcf9b"/>
<rect x="69.40" y="181.43" width="13.25" height="2.10" fill="#efd4a4"/>
<rect x="82.05" y="181.43" width="13.25" height="2.10" fill="#efd4a4"/>
<rect x="94.70" y="181.43" width="13.25" height="2.10" fill="#709bc9"/>
<rect x="107.35" y="181.43" width="13.25" height="2.10" fill="#749ecb"/>
<rect x="120.00" y="181.43" width="13.25" height="2.10" fill="#709ac9"/>
<rect x="132.65" y="181.43" width="12.65" height="2.10" fill="#7ea6d0"/>
<rect x="44.10" y="182.92" width="13.25" height="2.10" fill="#eecc95"/>
<rect x="56.75" y="182.92" width="13.25" height="2.10" fill="#f0e0b9"/>
<rect x="69.40" y="182.92" width="13.25" height="2.10" fill="#eec890"/>
<rect x="82.05" y="182.92" width="13.25" height="2.10" fill="#f0daad"/>
<rect x="94.70" y="182.92" width="13.25" height="2.10" fill="#6c97c6"/>
<rect x="107.35" y="182.92" width="13.25" height="2.10" fill="#6792c3"/>
<rect x="120.00" y="182.92" width="13.25" height="2.10" fill="#729cca"/>
<rect x="132.65" y="182.92" width="12.65" height="2.10" fill="#6792c3"/>
<rect x="44.10" y="184.42" width="13.25" height="2.10" fill="#f2e8cc"/>
<rect x="56.75" y="184.42" width="13.25" height="2.10" fill="#efd19e"/>
<rect x="69.40" y="184.42" width="13.25" height="2.10" fill="#f0deb5"/>
<rect x="82.05" y="184.42" width="13.25" height="2.10" fill="#f3ecd5"/>
<rect x="94.70" y="184.42" width="13.25" height="2.10" fill="#628ec0"/>
<rect x="107.35" y="184.42" width="13.25" height="2.10" fill="#9dbfdd"/>
<rect x="120.00" y="184.42" width="13.25" height="2.10" fill="#638ec0"/>
<rect x="132.65" y="184.42" width="12.65" height="2.10" fill="#7fa7d1"/>
<rect x="44.10" y="185.91" width="13.25" height="2.10" fill="#f0dbaf"/>
<rect x="56.75" y="185.91" width="13.25" height="2.10" fill="#eec890"/>
<rect x="69.40" y="185.91" width="13.25" height="2.10" fill="#ecbe84"/>
<rect x="82.05" y="185.91" width="13.25" height="2.10" fill="#eec78d"/>
<rect x="94.70" y="185.91" width="13.25" height="2.10" fill="#8eb3d7"/>
<rect x="107.35" y="185.91" width="13.25" height="2.10" fill="#7ca5cf"/>
<rect x="120.00" y="185.91" width="13.25" height="2.10" fill="#80a8d1"/>
<rect x="132.65" y="185.91" width="12.65" height="2.10" fill="#76a0cd"/>
<rect x="44.10" y="187.41" width="13.25" height="2.10" fill="#efd4a4"/>
<rect x="56.75" y="187.41" width="13.25" height="2.10" fill="#edbf86"/>
<rect x="69.40" y="187.41" width="13.25" height="2.10" fill="#efd09c"/>
<rect x="82.05" y="187.41" width="13.25" height="2.10" fill="#efd6a7"/>
<rect x="94.70" y="187.41" width="13.25" height="2.10" fill="#a1c2de"/>
<rect x="107.35" y="187.41" width="13.25" height="2.10" fill="#90b4d7"/>
<rect x="120.00" y="187.41" width="13.25" height="2.10" fill="#729cca"/>
<rect x="132.65" y="187.41" width="12.65" height="2.10" fill="#8ab0d5"/>
<rect x="44.10" y="188.90" width="13.25" height="2.10" fill="#f0d9ab"/>
<rect x="56.75" y="188.90" width="13.25" height="2.10" fill="#efd7a8"/>
<rect x="69.40" y="188.90" width="13.25" height="2.10" fill="#f4f1e1"/>
<rect x="82.05" y="188.90" width="13.25" height="2.10" fill="#efd5a6"/>
<rect x="94.70" y="188.90" width="13.25" height="2.10" fill="#638ec0"/>
<rect x="107.35" y="188.90" width="13.25" height="2.10" fill="#5a86ba"/>
<rect x="120.00" y="188.90" width="13.25" height="2.10" fill="#5985ba"/>
<rect x="132.65" y="188.90" width="12.65" height="2.10" fill="#608cbe"/>
<rect x="44.10" y="190.40" width="13.25" height="2.10" fill="#e9ac74"/>
<rect x="56.75" y="190.40" width="13.25" height="2.10" fill="#eec890"/>
<rect x="69.40" y="190.40" width="13.25" height="2.10" fill="#ebb67d"/>
<rect x="82.05" y="190.40" width="13.25" height="2.10" fill="#eecb94"/>
<rect x="94.70" y="190.40" width="13.25" height="2.10" fill="#6590c2"/>
<rect x="107.35" y="190.40" width="13.25" height="2.10" fill="#6994c4"/>
<rect x="120.00" y="190.40" width="13.25" height="2.10" fill="#5e8abd"/>
<rect x="132.65" y="190.40" width="12.65" height="2.10" fill="#6792c3"/>
<rect x="44.10" y="191.90" width="13.25" height="2.10" fill="#efd4a4"/>
<rect x="56.75" y="191.90" width="13.25" height="2.10" fill="#f0dbaf"/>
<rect x="69.40" y="191.90" width="13.25" height="2.10" fill="#efcd98"/>
<rect x="82.05" y="191.90" width="13.25" height="2.10" fill="#efcd98"/>
<rect x="94.70" y="191.90" width="13.25" height="2.10" fill="#84abd3"/>
<rect x="107.35" y="191.90" width="13.25" height="2.10" fill="#95b8da"/>
<rect x="120.00" y="191.90" width="13.25" height="2.10" fill="#6d97c7"/>
<rect x="132.65" y="191.90" width="12.65" height="2.10" fill="#7ea6d0"/>
<rect x="44.10" y="193.39" width="13.25" height="2.10" fill="#ecbb81"/>
<rect x="56.75" y="193.39" width="13.25" height="2.10" fill="#eab57c"/>
<rect x="69.40" y="193.39" width="13.25" height="2.10" fill="#eecb94"/>
<rect x="82.05" y="193.39" width="13.25" height="2.10" fill="#ecba81"/>
<rect x="94.70" y="193.39" width="13.25" height="2.10" fill="#a9c8e1"/>
<rect x="107.35" y="193.39" width="13.25" height="2.10" fill="#88aed4"/>
<rect x="120.00" y="193.39" width="13.25" height="2.10" fill="#a4c4e0"/>
<rect x="132.65" y="193.39" width="12.65" height="2.10" fill="#b4d0e5"/>
<rect x="44.10" y="194.89" width="13.25" height="2.10" fill="#efd4a3"/>
<rect x="56.75" y="194.89" width="13.25" height="2.10" fill="#ebb77e"/>
<rect x="69.40" y="194.89" width="13.25" height="2.10" fill="#f0dbaf"/>
<rect x="82.05" y="194.89" width="13.25" height="2.10" fill="#eec890"/>
<rect x="94.70" y="194.89" width="13.25" height="2.10" fill="#6691c3"/>
<rect x="107.35" y="194.89" width="13.25" height="2.10" fill="#8fb4d7"/>
<rect x="120.00" y="194.89" width="13.25" height="2.10" fill="#7ba4cf"/>
<rect x="132.65" y="194.89" width="12.65" height="2.10" fill="#6792c3"/>
<rect x="44.10" y="196.38" width="13.25" height="2.10" fill="#efcf9c"/>
<rect x="56.75" y="196.38" width="13.25" height="2.10" fill="#f0dfb6"/>
<rect x="69.40" y="196.38" width="13.25" height="2.10" fill="#efd2a0"/>
<rect x="82.05" y="196.38" width="13.25" height="2.10" fill="#eec88f"/>
<rect x="94.70" y="196.38" width="13.25" height="2.10" fill="#82aad2"/>
<rect x="107.35" y="196.38" width="13.25" height="2.10" fill="#80a8d1"/>
<rect x="120.00" y="196.38" width="13.25" height="2.10" fill="#89afd5"/>
<rect x="132.65" y="196.38" width="12.65" height="2.10" fill="#7aa3cf"/>
<rect x="44.10" y="197.88" width="13.25" height="2.10" fill="#edc086"/>
<rect x="56.75" y="197.88" width="13.25" height="2.10" fill="#ecbd84"/>
<rect x="69.40" y="197.88" width="13.25" height="2.10" fill="#ebb980"/>
<rect x="82.05" y="197.88" width="13.25" height="2.10" fill="#efcf9b"/>
<rect x="94.70" y="197.88" width="13.25" height="2.10" fill="#8ab0d5"/>
<rect x="107.35" y="197.88" width="13.25" height="2.10" fill="#729dcb"/>
<rect x="120.00" y="197.88" width="13.25" height="2.10" fill="#6b96c6"/>
<rect x="132.65" y="197.88" width="12.65" height="2.10" fill="#739dcb"/>
<rect x="44.10" y="199.37" width="13.25" height="2.10" fill="#efd5a5"/>
<rect x="56.75" y="199.37" width="13.25" height="2.10" fill="#f0dfb6"/>
<rect x="69.40" y="199.37" width="13.25" height="2.10" fill="#efd5a5"/>
<rect x="82.05" y="199.37" width="13.25" height="2.10" fill="#f2e9ce"/>
<rect x="94.70" y="199.37" width="13.25" height="2.10" fill="#7fa7d1"/>
<rect x="107.35" y="199.37" width="13.25" height="2.10" fill="#6e98c8"/>
<rect x="120.00" y="199.37" width="13.25" height="2.10" fill="#85acd3"/>
<rect x="132.65" y="199.37" width="12.65" height="2.10" fill="#82a9d2"/>
<rect x="44.10" y="200.87" width="13.25" height="2.10" fill="#f0dcb1"/>
<rect x="56.75" y="200.87" width="13.25" height="2.10" fill="#eecc96"/>
<rect x="69.40" y="200.87" width="13.25" height="2.10" fill="#e49760"/>
<rect x="82.05" y="200.87" width="13.25" height="2.10" fill="#f0deb3"/>
<rect x="94.70" y="200.87" width="13.25" height="2.10" fill="#749ecc"/>
<rect x="107.35" y="200.87" width="13.25" height="2.10" fill="#7ea6d0"/>
<rect x="120.00" y="200.87" width="13.25" height="2.10" fill="#628dc0"/>
<rect x="132.65" y="200.87" width="12.65" height="2.10" fill="#6a95c5"/>
<rect x="44.10" y="202.37" width="13.25" height="2.10" fill="#efcd97"/>
<rect x="56.75" y="202.37" width="13.25" height="2.10" fill="#eab47b"/>
<rect x="69.40" y="202.37" width="13.25" height="2.10" fill="#efd4a3"/>
<rect x="82.05" y="202.37" width="13.25" height="2.10" fill="#eecb94"/>
<rect x="94.70" y="202.37" width="13.25" height="2.10" fill="#94b8d9"/>
<rect x="107.35" y="202.37" width="13.25" height="2.10" fill="#91b5d8"/>
<rect x="120.00" y="202.37" width="13.25" height="2.10" fill="#a5c5e0"/>
<rect x="132.65" y="202.37" width="12.65" height="2.10" fill="#a5c5e0"/>
<rect x="44.10" y="203.86" width="13.25" height="2.10" fill="#eec78d"/>
<rect x="56.75" y="203.86" width="13.25" height="2.10" fill="#efd09c"/>
<rect x="69.40" y="203.86" width="13.25" height="2.10" fill="#eec58b"/>
<rect x="82.05" y="203.86" width="13.25" height="2.10" fill="#e59b63"/>
<rect x="94.70" y="203.86" width="13.25" height="2.10" fill="#5f8abe"/>
<rect x="107.35" y="203.86" width="13.25" height="2.10" fill="#86add4"/>
<rect x="120.00" y="203.86" width="13.25" height="2.10" fill="#76a0cd"/>
<rect x="132.65" y="203.86" width="12.65" height="2.10" fill="#98bbdb"/>
<rect x="44.10" y="205.36" width="13.25" height="2.10" fill="#ecbb82"/>
<rect x="56.75" y="205.36" width="13.25" height="2.10" fill="#eeca93"/>
<rect x="69.40" y="205.36" width="13.25" height="2.10" fill="#eecb94"/>
<rect x="82.05" y="205.36" width="13.25" height="2.10" fill="#efd2a0"/>
<rect x="94.70" y="205.36" width="13.25" height="2.10" fill="#7ba4cf"/>
<rect x="107.35" y="205.36" width="13.25" height="2.10" fill="#91b5d8"/>
<rect x="120.00" y="205.36" width="13.25" height="2.10" fill="#7fa7d1"/>
<rect x="132.65" y="205.36" width="12.65" height="2.10" fill="#709bc9"/>
<rect x="44.10" y="206.85" width="13.25" height="2.10" fill="#ecbd84"/>
<rect x="56.75" y="206.85" width="13.25" height="2.10" fill="#edc288"/>
<rect x="69.40" y="206.85" width="13.25" height="2.10" fill="#eecb94"/>
<rect x="82.05" y="206.85" width="13.25" height="2.10" fill="#eec990"/>
<rect x="94.70" y="206.85" width="13.25" height="2.10" fill="#537fb5"/>
<rect x="107.35" y="206.85" width="13.25" height="2.10" fill="#80a8d1"/>
<rect x="120.00" y="206.85" width="13.25" height="2.10" fill="#76a0cd"/>
<rect x="132.65" y="206.85" width="12.65" height="2.10" fill="#6d97c7"/>
<rect x="44.10" y="208.35" width="13.25" height="2.10" fill="#ecbd84"/>
<rect x="56.75" y="208.35" width="13.25" height="2.10" fill="#ecbf85"/>
<rect x="69.40" y="208.35" width="13.25" height="2.10" fill="#f0e0b8"/>
<rect x="82.05" y="208.35" width="13.25" height="2.10" fill="#eec88f"/>
<rect x="94.70" y="208.35" width="13.25" height="2.10" fill="#a2c2df"/>
<rect x="107.35" y="208.35" width="13.25" height="2.10" fill="#a7c7e1"/>
<rect x="120.00" y="208.35" width="13.25" height="2.10" fill="#9dbfdd"/>
<rect x="132.65" y="208.35" width="12.65" height="2.10" fill="#6c96c6"/>
<rect x="44.10" y="209.84" width="13.25" height="2.10" fill="#f2e7c9"/>
<rect x="56.75" y="209.84" width="13.25" height="2.10" fill="#f3edd7"/>
<rect x="69.40" y="209.84" width="13.25" height="2.10" fill="#f1e2bf"/>
<rect x="82.05" y="209.84" width="13.25" height="2.10" fill="#f3eedb"/>
<rect x="94.70" y="209.84" width="13.25" height="2.10" fill="#6590c2"/>
<rect x="107.35" y="209.84" width="13.25" height="2.10" fill="#82a9d2"/>
<rect x="120.00" y="209.84" width="13.25" height="2.10" fill="#719cca"/>
<rect x="132.65" y="209.84" width="12.65" height="2.10" fill="#7fa7d1"/>
<rect x="44.10" y="211.34" width="13.25" height="2.10" fill="#efce99"/>
<rect x="56.75" y="211.34" width="13.25" height="2.10" fill="#eec991"/>
<rect x="69.40" y="211.34" width="13.25" height="2.10" fill="#efcd97"/>
<rect x="82.05" y="211.34" width="13.25" height="2.10" fill="#edc38a"/>
<rect x="94.70" y="211.34" width="13.25" height="2.10" fill="#739dcb"/>
<rect x="107.35" y="211.34" width="13.25" height="2.10" fill="#729dcb"/>
<rect x="120.00" y="211.34" width="13.25" height="2.10" fill="#a4c4e0"/>
<rect x="132.65" y="211.34" width="12.65" height="2.10" fill="#7aa3cf"/>
<rect x="44.10" y="212.83" width="13.25" height="2.10" fill="#edbf86"/>
<rect x="56.75" y="212.83" width="13.25" height="2.10" fill="#efcc96"/>
<rect x="69.40" y="212.83" width="13.25" height="2.10" fill="#efce99"/>
<rect x="82.05" y="212.83" width="13.25" height="2.10" fill="#eec48a"/>
<rect x="94.70" y="212.83" width="13.25" height="2.10" fill="#86add4"/>
<rect x="107.35" y="212.83" width="13.25" height="2.10" fill="#6893c4"/>
<rect x="120.00" y="212.83" width="13.25" height="2.10" fill="#709ac9"/>
<rect x="132.65" y="212.83" width="12.65" height="2.10" fill="#76a0cd"/>
<rect x="44.10" y="214.33" width="13.25" height="2.10" fill="#efd8aa"/>
<rect x="56.75" y="214.33" width="13.25" height="2.10" fill="#eab279"/>
<rect x="69.40" y="214.33" width="13.25" height="2.10" fill="#edc38a"/>
<rect x="82.05" y="214.33" width="13.25" height="2.10" fill="#eab27a"/>
<rect x="94.70" y="214.33" width="13.25" height="2.10" fill="#759fcc"/>
<rect x="107.35" y="214.33" width="13.25" height="2.10" fill="#8fb4d7"/>
<rect x="120.00" y="214.33" width="13.25" height="2.10" fill="#759fcc"/>
<rect x="132.65" y="214.33" width="12.65" height="2.10" fill="#76a0cd"/>
<rect x="44.10" y="215.83" width="13.25" height="2.10" fill="#efd5a6"/>
<rect x="56.75" y="215.83" width="13.25" height="2.10" fill="#eec88f"/>
<rect x="69.40" y="215.83" width="13.25" height="2.10" fill="#efd09c"/>
<rect x="82.05" y="215.83" width="13.25" height="2.10" fill="#efd6a7"/>
<rect x="94.70" y="215.83" width="13.25" height="2.10" fill="#729cca"/>
<rect x="107.35" y="215.83" width="13.25" height="2.10" fill="#84abd3"/>
<rect x="120.00" y="215.83" width="13.25" height="2.10" fill="#749ecc"/>
<rect x="132.65" y="215.83" width="12.65" height="2.10" fill="#6e99c8"/>
<rect x="44.10" y="217.32" width="13.25" height="2.10" fill="#e8ab73"/>
<rect x="56.75" y="217.32" width="13.25" height="2.10" fill="#e7a76e"/>
<rect x="69.40" y="217.32" width="13.25" height="2.10" fill="#eab279"/>
<rect x="82.05" y="217.32" width="13.25" height="2.10" fill="#edbf85"/>
<rect x="94.70" y="217.32" width="13.25" height="2.10" fill="#6e98c7"/>
<rect x="107.35" y="217.32" width="13.25" height="2.10" fill="#82aad2"/>
<rect x="120.00" y="217.32" width="13.25" height="2.10" fill="#729dcb"/>
<rect x="132.65" y="217.32" width="12.65" height="2.10" fill="#5f8bbe"/>
<rect x="44.10" y="218.82" width="13.25" height="2.10" fill="#f1e2bd"/>
<rect x="56.75" y="218.82" width="13.25" height="2.10" fill="#efd19e"/>
<rect x="69.40" y="218.82" width="13.25" height="2.10" fill="#f0dfb7"/>
<rect x="82.05" y="218.82" width="13.25" height="2.10" fill="#f0e0b9"/>
<rect x="94.70" y="218.82" width="13.25" height="2.10" fill="#759fcc"/>
<rect x="107.35" y="218.82" width="13.25" height="2.10" fill="#628dc0"/>
<rect x="120.00" y="218.82" width="13.25" height="2.10" fill="#87add4"/>
<rect x="132.65" y="218.82" width="12.65" height="2.10" fill="#a7c7e1"/>
<rect x="44.10" y="220.31" width="13.25" height="2.10" fill="#efd19e"/>
<rect x="56.75" y="220.31" width="13.25" height="2.10" fill="#f3ecd5"/>
<rect x="69.40" y="220.31" width="13.25" height="2.10" fill="#f2e9cf"/>
<rect x="82.05" y="220.31" width="13.25" height="2.10" fill="#f2e6c7"/>
<rect x="94.70" y="220.31" width="13.25" height="2.10" fill="#79a2ce"/>
<rect x="107.35" y="220.31" width="13.25" height="2.10" fill="#6e98c7"/>
<rect x="120.00" y="220.31" width="13.25" height="2.10" fill="#5f8abe"/>
<rect x="132.65" y="220.31" width="12.65" height="2.10" fill="#6490c1"/>
<rect x="44.10" y="221.81" width="13.25" height="2.10" fill="#f2e8cd"/>
<rect x="56.75" y="221.81" width="13.25" height="2.10" fill="#f0daae"/>
<rect x="69.40" y="221.81" width="13.25" height="2.10" fill="#f4f6f0"/>
<rect x="82.05" y="221.81" width="13.25" height="2.10" fill="#f2e9cf"/>
<rect x="94.70" y="221.81" width="13.25" height="2.10" fill="#8eb3d7"/>
<rect x="107.35" y="221.81" width="13.25" height="2.10" fill="#95b8da"/>
<rect x="120.00" y="221.81" width="13.25" height="2.10" fill="#719bc9"/>
<rect x="132.65" y="221.81" width="12.65" height="2.10" fill="#6d98c7"/>
<rect x="44.10" y="223.30" width="13.25" height="2.10" fill="#efd09d"/>
<rect x="56.75" y="223.30" width="13.25" height="2.10" fill="#efd09c"/>
<rect x="69.40" y="223.30" width="13.25" height="2.10" fill="#ecbe84"/>
<rect x="82.05" y="223.30" width="13.25" height="2.10" fill="#eab37a"/>
<rect x="94.70" y="223.30" width="13.25" height="2.10" fill="#759fcc"/>
<rect x="107.35" y="223.30" width="13.25" height="2.10" fill="#85acd3"/>
<rect x="120.00" y="223.30" width="13.25" height="2.10" fill="#618cbf"/>
<rect x="132.65" y="223.30" width="12.65" height="2.10" fill="#78a1ce"/>
<rect x="44.10" y="224.80" width="13.25" height="2.09" fill="#6a95c5"/>
<rect x="56.75" y="224.80" width="13.25" height="2.09" fill="#77a0cd"/>
<rect x="69.40" y="224.80" width="13.25" height="2.09" fill="#5884b9"/>
<rect x="82.05" y="224.80" width="13.25" height="2.09" fill="#6a95c5"/>
<rect x="94.70" y="224.80" width="13.25" height="2.09" fill="#e69d66"/>
<rect x="107.35" y="224.80" width="13.25" height="2.09" fill="#f0deb4"/>
<rect x="120.00" y="224.80" width="13.25" height="2.09" fill="#f3efdd"/>
<rect x="132.65" y="224.80" width="12.65" height="2.09" fill="#eff3ef"/>
<rect x="44.10" y="226.29" width="13.25" height="2.09" fill="#99bcdb"/>
<rect x="56.75" y="226.29" width="13.25" height="2.09" fill="#6a95c5"/>
<rect x="69.40" y="226.29" width="13.25" height="2.09" fill="#88aed4"/>
<rect x="82.05" y="226.29" width="13.25" height="2.09" fill="#a0c1de"/>
<rect x="94.70" y="226.29" width="13.25" height="2.09" fill="#edf2ef"/>
<rect x="107.35" y="226.29" width="13.25" height="2.09" fill="#e7a36b"/>
<rect x="120.00" y="226.29" width="13.25" height="2.09" fill="#d95d41"/>
<rect x="132.65" y="226.29" width="12.65" height="2.09" fill="#eec58b"/>
<rect x="44.10" y="227.78" width="13.25" height="2.09" fill="#79a2ce"/>
<rect x="56.75" y="227.78" width="13.25" height="2.09" fill="#648fc1"/>
<rect x="69.40" y="227.78" width="13.25" height="2.09" fill="#8bb1d6"/>
<rect x="82.05" y="227.78" width="13.25" height="2.09" fill="#6a94c5"/>
<rect x="94.70" y="227.78" width="13.25" height="2.09" fill="#f0daad"/>
<rect x="107.35" y="227.78" width="13.25" height="2.09" fill="#d1e1ea"/>
<rect x="120.00" y="227.78" width="13.25" height="2.09" fill="#dc6c49"/>
<rect x="132.65" y="227.78" width="12.65" height="2.09" fill="#ebf1ee"/>
<rect x="44.10" y="229.27" width="13.25" height="2.09" fill="#6a95c5"/>
<rect x="56.75" y="229.27" width="13.25" height="2.09" fill="#9bbddc"/>
<rect x="69.40" y="229.27" width="13.25" height="2.09" fill="#90b5d8"/>
<rect x="82.05" y="229.27" width="13.25" height="2.09" fill="#76a0cd"/>
<rect x="94.70" y="229.27" width="13.25" height="2.09" fill="#f1e5c6"/>
<rect x="107.35" y="229.27" width="13.25" height="2.09" fill="#f0ddb3"/>
<rect x="120.00" y="229.27" width="13.25" height="2.09" fill="#e7a46c"/>
<rect x="132.65" y="229.27" width="12.65" height="2.09" fill="#efce99"/>
<rect x="44.10" y="230.76" width="13.25" height="2.09" fill="#7ba4cf"/>
<rect x="56.75" y="230.76" width="13.25" height="2.09" fill="#a0c1de"/>
<rect x="69.40" y="230.76" width="13.25" height="2.09" fill="#a2c2df"/>
<rect x="82.05" y="230.76" width="13.25" height="2.09" fill="#92b6d8"/>
<rect x="94.70" y="230.76" width="13.25" height="2.09" fill="#f5f5eb"/>
<rect x="107.35" y="230.76" width="13.25" height="2.09" fill="#f4f4ea"/>
<rect x="120.00" y="230.76" width="13.25" height="2.09" fill="#f3efdc"/>
<rect x="132.65" y="230.76" width="12.65" height="2.09" fill="#efcc96"/>
<rect x="44.10" y="232.25" width="13.25" height="2.09" fill="#7aa3cf"/>
<rect x="56.75" y="232.25" width="13.25" height="2.09" fill="#c0d7e7"/>
<rect x="69.40" y="232.25" width="13.25" height="2.09" fill="#86acd3"/>
<rect x="82.05" y="232.25" width="13.25" height="2.09" fill="#95b9da"/>
<rect x="94.70" y="232.25" width="13.25" height="2.09" fill="#efcd98"/>
<rect x="107.35" y="232.25" width="13.25" height="2.09" fill="#eec890"/>
<rect x="120.00" y="232.25" width="13.25" height="2.09" fill="#e9ae75"/>
<rect x="132.65" y="232.25" width="12.65" height="2.09" fill="#eec68c"/>
<rect x="44.10" y="233.74" width="13.25" height="2.09" fill="#628dc0"/>
<rect x="56.75" y="233.74" width="13.25" height="2.09" fill="#6691c2"/>
<rect x="69.40" y="233.74" width="13.25" height="2.09" fill="#608bbe"/>
<rect x="82.05" y="233.74" width="13.25" height="2.09" fill="#80a8d1"/>
<rect x="94.70" y="233.74" width="13.25" height="2.09" fill="#f2e8cd"/>
<rect x="107.35" y="233.74" width="13.25" height="2.09" fill="#efd5a4"/>
<rect x="120.00" y="233.74" width="13.25" height="2.09" fill="#f0dbae"/>
<rect x="132.65" y="233.74" width="12.65" height="2.09" fill="#f1e1bc"/>
<rect x="44.10" y="235.22" width="13.25" height="2.09" fill="#7fa7d1"/>
<rect x="56.75" y="235.22" width="13.25" height="2.09" fill="#7ca4cf"/>
<rect x="69.40" y="235.22" width="13.25" height="2.09" fill="#82a9d2"/>
<rect x="82.05" y="235.22" width="13.25" height="2.09" fill="#8eb3d7"/>
<rect x="94.70" y="235.22" width="13.25" height="2.09" fill="#f0d8ab"/>
<rect x="107.35" y="235.22" width="13.25" height="2.09" fill="#d95d41"/>
<rect x="120.00" y="235.22" width="13.25" height="2.09" fill="#f4f4e9"/>
<rect x="132.65" y="235.22" width="12.65" height="2.09" fill="#f4f3e5"/>
<rect x="44.10" y="236.71" width="13.25" height="2.09" fill="#bcd5e6"/>
<rect x="56.75" y="236.71" width="13.25" height="2.09" fill="#bcd5e6"/>
<rect x="69.40" y="236.71" width="13.25" height="2.09" fill="#9fc1de"/>
<rect x="82.05" y="236.71" width="13.25" height="2.09" fill="#99bcdb"/>
<rect x="94.70" y="236.71" width="13.25" height="2.09" fill="#bdd6e6"/>
<rect x="107.35" y="236.71" width="13.25" height="2.09" fill="#dc6c49"/>
<rect x="120.00" y="236.71" width="13.25" height="2.09" fill="#85acd3"/>
<rect x="132.65" y="236.71" width="12.65" height="2.09" fill="#c0d7e7"/>
<rect x="44.10" y="238.20" width="13.25" height="2.09" fill="#79a2ce"/>
<rect x="56.75" y="238.20" width="13.25" height="2.09" fill="#88aed4"/>
<rect x="69.40" y="238.20" width="13.25" height="2.09" fill="#85acd3"/>
<rect x="82.05" y="238.20" width="13.25" height="2.09" fill="#7da6d0"/>
<rect x="94.70" y="238.20" width="13.25" height="2.09" fill="#efcf9b"/>
<rect x="107.35" y="238.20" width="13.25" height="2.09" fill="#eab37a"/>
<rect x="120.00" y="238.20" width="13.25" height="2.09" fill="#de754e"/>
<rect x="132.65" y="238.20" width="12.65" height="2.09" fill="#efcf9b"/>
<rect x="44.10" y="239.69" width="13.25" height="2.09" fill="#5f8abe"/>
<rect x="56.75" y="239.69" width="13.25" height="2.09" fill="#638ec0"/>
<rect x="69.40" y="239.69" width="13.25" height="2.09" fill="#6d97c7"/>
<rect x="82.05" y="239.69" width="13.25" height="2.09" fill="#618dbf"/>
<rect x="94.70" y="239.69" width="13.25" height="2.09" fill="#dfeaec"/>
<rect x="107.35" y="239.69" width="13.25" height="2.09" fill="#f2e9ce"/>
<rect x="120.00" y="239.69" width="13.25" height="2.09" fill="#eecb94"/>
<rect x="132.65" y="239.69" width="12.65" height="2.09" fill="#f3ebd3"/>
<rect x="44.10" y="241.18" width="13.25" height="2.09" fill="#6e99c8"/>
<rect x="56.75" y="241.18" width="13.25" height="2.09" fill="#6590c1"/>
<rect x="69.40" y="241.18" width="13.25" height="2.09" fill="#81a9d1"/>
<rect x="82.05" y="241.18" width="13.25" height="2.09" fill="#628ec0"/>
<rect x="94.70" y="241.18" width="13.25" height="2.09" fill="#e28c59"/>
<rect x="107.35" y="241.18" width="13.25" height="2.09" fill="#f0dbaf"/>
<rect x="120.00" y="241.18" width="13.25" height="2.09" fill="#e7a46c"/>
<rect x="132.65" y="241.18" width="12.65" height="2.09" fill="#efce9a"/>
<rect x="44.10" y="242.67" width="13.25" height="2.09" fill="#8eb3d7"/>
<rect x="56.75" y="242.67" width="13.25" height="2.09" fill="#5e89bd"/>
<rect x="69.40" y="242.67" width="13.25" height="2.09" fill="#7ba4cf"/>
<rect x="82.05" y="242.67" width="13.25" height="2.09" fill="#608bbe"/>
<rect x="94.70" y="242.67" width="13.25" height="2.09" fill="#e69f67"/>
<rect x="107.35" y="242.67" width="13.25" height="2.09" fill="#ebf1ee"/>
<rect x="120.00" y="242.67" width="13.25" height="2.09" fill="#e4945e"/>
<rect x="132.65" y="242.67" width="12.65" height="2.09" fill="#d7523b"/>
<rect x="44.10" y="244.16" width="13.25" height="2.09" fill="#8eb3d7"/>
<rect x="56.75" y="244.16" width="13.25" height="2.09" fill="#7ca5d0"/>
<rect x="69.40" y="244.16" width="13.25" height="2.09" fill="#749ecb"/>
<rect x="82.05" y="244.16" width="13.25" height="2.09" fill="#89afd5"/>
<rect x="94.70" y="244.16" width="13.25" height="2.09" fill="#cadde9"/>
<rect x="107.35" y="244.16" width="13.25" height="2.09" fill="#8bb1d6"/>
<rect x="120.00" y="244.16" width="13.25" height="2.09" fill="#eec68c"/>
<rect x="132.65" y="244.16" width="12.65" height="2.09" fill="#d64a37"/>
<rect x="44.10" y="245.65" width="13.25" height="2.09" fill="#d9e6eb"/>
<rect x="56.75" y="245.65" width="13.25" height="2.09" fill="#94b8d9"/>
<rect x="69.40" y="245.65" width="13.25" height="2.09" fill="#e1ebed"/>
<rect x="82.05" y="245.65" width="13.25" height="2.09" fill="#adcce3"/>
<rect x="94.70" y="245.65" width="13.25" height="2.09" fill="#f0dcb0"/>
<rect x="107.35" y="245.65" width="13.25" height="2.09" fill="#e3925d"/>
<rect x="120.00" y="245.65" width="13.25" height="2.09" fill="#e69e67"/>
<rect x="132.65" y="245.65" width="12.65" height="2.09" fill="#f1e1bc"/>
<rect x="44.10" y="247.14" width="13.25" height="2.09" fill="#e7efee"/>
<rect x="56.75" y="247.14" width="13.25" height="2.09" fill="#81a9d2"/>
<rect x="69.40" y="247.14" width="13.25" height="2.09" fill="#7da6d0"/>
<rect x="82.05" y="247.14" width="13.25" height="2.09" fill="#c5dae8"/>
<rect x="94.70" y="247.14" width="13.25" height="2.09" fill="#e8a870"/>
<rect x="107.35" y="247.14" width="13.25" height="2.09" fill="#f0d9ab"/>
<rect x="120.00" y="247.14" width="13.25" height="2.09" fill="#efd6a6"/>
<rect x="132.65" y="247.14" width="12.65" height="2.09" fill="#e8a76f"/>
<rect x="44.10" y="248.63" width="13.25" height="2.09" fill="#93b7d9"/>
<rect x="56.75" y="248.63" width="13.25" height="2.09" fill="#a9c8e2"/>
<rect x="69.40" y="248.63" width="13.25" height="2.09" fill="#a8c7e1"/>
<rect x="82.05" y="248.63" width="13.25" height="2.09" fill="#d1e1ea"/>
<rect x="94.70" y="248.63" width="13.25" height="2.09" fill="#f3ecd5"/>
<rect x="107.35" y="248.63" width="13.25" height="2.09" fill="#aecce3"/>
<rect x="120.00" y="248.63" width="13.25" height="2.09" fill="#f5f6ed"/>
<rect x="132.65" y="248.63" width="12.65" height="2.09" fill="#a0c1de"/>
<rect x="44.10" y="250.12" width="13.25" height="2.09" fill="#83aad2"/>
<rect x="56.75" y="250.12" width="13.25" height="2.09" fill="#749fcc"/>
<rect x="69.40" y="250.12" width="13.25" height="2.09" fill="#88aed4"/>
<rect x="82.05" y="250.12" width="13.25" height="2.09" fill="#7aa3cf"/>
<rect x="94.70" y="250.12" width="13.25" height="2.09" fill="#e6eeed"/>
<rect x="107.35" y="250.12" width="13.25" height="2.09" fill="#d7e5eb"/>
<rect x="120.00" y="250.12" width="13.25" height="2.09" fill="#f3ecd5"/>
<rect x="132.65" y="250.12" width="12.65" height="2.09" fill="#f3edd9"/>
<rect x="44.10" y="251.61" width="13.25" height="2.09" fill="#b4d0e5"/>
<rect x="56.75" y="251.61" width="13.25" height="2.09" fill="#6792c3"/>
<rect x="69.40" y="251.61" width="13.25" height="2.09" fill="#6c96c6"/>
<rect x="82.05" y="251.61" width="13.25" height="2.09" fill="#739dcb"/>
<rect x="94.70" y="251.61" width="13.25" height="2.09" fill="#f3ebd3"/>
<rect x="107.35" y="251.61" width="13.25" height="2.09" fill="#f0dfb7"/>
<rect x="120.00" y="251.61" width="13.25" height="2.09" fill="#e4945e"/>
<rect x="132.65" y="251.61" width="12.65" height="2.09" fill="#eff4ef"/>
<rect x="44.10" y="253.09" width="13.25" height="2.09" fill="#4d79b1"/>
<rect x="56.75" y="253.09" width="13.25" height="2.09" fill="#6f99c8"/>
<rect x="69.40" y="253.09" width="13.25" height="2.09" fill="#648fc1"/>
<rect x="82.05" y="253.09" width="13.25" height="2.09" fill="#5480b6"/>
<rect x="94.70" y="253.09" width="13.25" height="2.09" fill="#da6344"/>
<rect x="107.35" y="253.09" width="13.25" height="2.09" fill="#efd3a1"/>
<rect x="120.00" y="253.09" width="13.25" height="2.09" fill="#eab47b"/>
<rect x="132.65" y="253.09" width="12.65" height="2.09" fill="#f1e5c4"/>
<rect x="44.10" y="254.58" width="13.25" height="2.09" fill="#83aad2"/>
<rect x="56.75" y="254.58" width="13.25" height="2.09" fill="#638ec0"/>
<rect x="69.40" y="254.58" width="13.25" height="2.09" fill="#83abd2"/>
<rect x="82.05" y="254.58" width="13.25" height="2.09" fill="#628dc0"/>
<rect x="94.70" y="254.58" width="13.25" height="2.09" fill="#d95d41"/>
<rect x="107.35" y="254.58" width="13.25" height="2.09" fill="#e08355"/>
<rect x="120.00" y="254.58" width="13.25" height="2.09" fill="#db6847"/>
<rect x="132.65" y="254.58" width="12.65" height="2.09" fill="#f0d9ac"/>
<rect x="44.10" y="256.07" width="13.25" height="2.09" fill="#6590c1"/>
<rect x="56.75" y="256.07" width="13.25" height="2.09" fill="#638ec0"/>
<rect x="69.40" y="256.07" width="13.25" height="2.09" fill="#719cca"/>
<rect x="82.05" y="256.07" width="13.25" height="2.09" fill="#5884b9"/>
<rect x="94.70" y="256.07" width="13.25" height="2.09" fill="#e18858"/>
<rect x="107.35" y="256.07" width="13.25" height="2.09" fill="#efd7a8"/>
<rect x="120.00" y="256.07" width="13.25" height="2.09" fill="#f1e4c3"/>
<rect x="132.65" y="256.07" width="12.65" height="2.09" fill="#edc288"/>
<rect x="44.10" y="257.56" width="13.25" height="2.09" fill="#719bca"/>
<rect x="56.75" y="257.56" width="13.25" height="2.09" fill="#83aad2"/>
<rect x="69.40" y="257.56" width="13.25" height="2.09" fill="#749ecb"/>
<rect x="82.05" y="257.56" width="13.25" height="2.09" fill="#7ba4cf"/>
<rect x="94.70" y="257.56" width="13.25" height="2.09" fill="#ecbb82"/>
<rect x="107.35" y="257.56" width="13.25" height="2.09" fill="#efd7a9"/>
<rect x="120.00" y="257.56" width="13.25" height="2.09" fill="#d54836"/>
<rect x="132.65" y="257.56" width="12.65" height="2.09" fill="#d44132"/>
<rect x="44.10" y="259.05" width="13.25" height="2.09" fill="#b1cee4"/>
<rect x="56.75" y="259.05" width="13.25" height="2.09" fill="#91b5d8"/>
<rect x="69.40" y="259.05" width="13.25" height="2.09" fill="#9dbfdd"/>
<rect x="82.05" y="259.05" width="13.25" height="2.09" fill="#e0eaec"/>
<rect x="94.70" y="259.05" width="13.25" height="2.09" fill="#e69f68"/>
<rect x="107.35" y="259.05" width="13.25" height="2.09" fill="#e8ab73"/>
<rect x="120.00" y="259.05" width="13.25" height="2.09" fill="#e6a16a"/>
<rect x="132.65" y="259.05" width="12.65" height="2.09" fill="#eab57c"/>
<rect x="44.10" y="260.54" width="13.25" height="2.09" fill="#6f9ac8"/>
<rect x="56.75" y="260.54" width="13.25" height="2.09" fill="#759fcc"/>
<rect x="69.40" y="260.54" width="13.25" height="2.09" fill="#88aed4"/>
<rect x="82.05" y="260.54" width="13.25" height="2.09" fill="#7da5d0"/>
<rect x="94.70" y="260.54" width="13.25" height="2.09" fill="#efd2a0"/>
<rect x="107.35" y="260.54" width="13.25" height="2.09" fill="#ebb67d"/>
<rect x="120.00" y="260.54" width="13.25" height="2.09" fill="#efd09c"/>
<rect x="132.65" y="260.54" width="12.65" height="2.09" fill="#f0daae"/>
<rect x="44.10" y="262.03" width="13.25" height="2.09" fill="#96bada"/>
<rect x="56.75" y="262.03" width="13.25" height="2.09" fill="#6590c2"/>
<rect x="69.40" y="262.03" width="13.25" height="2.09" fill="#89afd5"/>
<rect x="82.05" y="262.03" width="13.25" height="2.09" fill="#84abd3"/>
<rect x="94.70" y="262.03" width="13.25" height="2.09" fill="#f1e2bd"/>
<rect x="107.35" y="262.03" width="13.25" height="2.09" fill="#f1e2be"/>
<rect x="120.00" y="262.03" width="13.25" height="2.09" fill="#efd19f"/>
<rect x="132.65" y="262.03" width="12.65" height="2.09" fill="#f1e4c1"/>
<rect x="44.10" y="263.52" width="13.25" height="2.09" fill="#90b5d8"/>
<rect x="56.75" y="263.52" width="13.25" height="2.09" fill="#95b8d9"/>
<rect x="69.40" y="263.52" width="13.25" height="2.09" fill="#6691c2"/>
<rect x="82.05" y="263.52" width="13.25" height="2.09" fill="#96b9da"/>
<rect x="94.70" y="263.52" width="13.25" height="2.09" fill="#f1e4c2"/>
<rect x="107.35" y="263.52" width="13.25" height="2.09" fill="#efd29f"/>
<rect x="120.00" y="263.52" width="13.25" height="2.09" fill="#efd09c"/>
<rect x="132.65" y="263.52" width="12.65" height="2.09" fill="#efcd97"/>
<rect x="44.10" y="265.01" width="13.25" height="2.09" fill="#5f8abd"/>
<rect x="56.75" y="265.01" width="13.25" height="2.09" fill="#5c87bb"/>
<rect x="69.40" y="265.01" width="13.25" height="2.09" fill="#5b87bb"/>
<rect x="82.05" y="265.01" width="13.25" height="2.09" fill="#5783b9"/>
<rect x="94.70" y="265.01" width="13.25" height="2.09" fill="#efd8aa"/>
<rect x="107.35" y="265.01" width="13.25" height="2.09" fill="#efd6a6"/>
<rect x="120.00" y="265.01" width="13.25" height="2.09" fill="#ecbd83"/>
<rect x="132.65" y="265.01" width="12.65" height="2.09" fill="#eec991"/>
<rect x="44.10" y="266.50" width="13.25" height="2.09" fill="#749ecc"/>
<rect x="56.75" y="266.50" width="13.25" height="2.09" fill="#6f9ac9"/>
<rect x="69.40" y="266.50" width="13.25" height="2.09" fill="#618dbf"/>
<rect x="82.05" y="266.50" width="13.25" height="2.09" fill="#5e89bd"/>
<rect x="94.70" y="266.50" width="13.25" height="2.09" fill="#f0dcb0"/>
<rect x="107.35" y="266.50" width="13.25" height="2.09" fill="#f3edd9"/>
<rect x="120.00" y="266.50" width="13.25" height="2.09" fill="#f2e8cb"/>
<rect x="132.65" y="266.50" width="12.65" height="2.09" fill="#f2ead1"/>
<rect x="44.10" y="267.99" width="13.25" height="2.09" fill="#739dcb"/>
<rect x="56.75" y="267.99" width="13.25" height="2.09" fill="#5884b9"/>
<rect x="69.40" y="267.99" width="13.25" height="2.09" fill="#93b7d9"/>
<rect x="82.05" y="267.99" width="13.25" height="2.09" fill="#6691c2"/>
<rect x="94.70" y="267.99" width="13.25" height="2.09" fill="#efd09d"/>
<rect x="107.35" y="267.99" width="13.25" height="2.09" fill="#f0d8aa"/>
<rect x="120.00" y="267.99" width="13.25" height="2.09" fill="#efd7a9"/>
<rect x="132.65" y="267.99" width="12.65" height="2.09" fill="#f0ddb2"/>
<rect x="44.10" y="269.48" width="13.25" height="2.09" fill="#638ec0"/>
<rect x="56.75" y="269.48" width="13.25" height="2.09" fill="#709ac9"/>
<rect x="69.40" y="269.48" width="13.25" height="2.09" fill="#5682b8"/>
<rect x="82.05" y="269.48" width="13.25" height="2.09" fill="#729dcb"/>
<rect x="94.70" y="269.48" width="13.25" height="2.09" fill="#efce99"/>
<rect x="107.35" y="269.48" width="13.25" height="2.09" fill="#f0d8aa"/>
<rect x="120.00" y="269.48" width="13.25" height="2.09" fill="#f0daad"/>
<rect x="132.65" y="269.48" width="12.65" height="2.09" fill="#f0e0b9"/>
<rect x="44.10" y="270.96" width="13.25" height="2.09" fill="#5c88bc"/>
<rect x="56.75" y="270.96" width="13.25" height="2.09" fill="#5581b7"/>
<rect x="69.40" y="270.96" width="13.25" height="2.09" fill="#5a86ba"/>
<rect x="82.05" y="270.96" width="13.25" height="2.09" fill="#5c88bc"/>
<rect x="94.70" y="270.96" width="13.25" height="2.09" fill="#f2e8cb"/>
<rect x="107.35" y="270.96" width="13.25" height="2.09" fill="#f0dbb0"/>
<rect x="120.00" y="270.96" width="13.25" height="2.09" fill="#f0e0ba"/>
<rect x="132.65" y="270.96" width="12.65" height="2.09" fill="#f0daad"/>
<rect x="44.10" y="272.45" width="13.25" height="2.09" fill="#5884b9"/>
<rect x="56.75" y="272.45" width="13.25" height="2.09" fill="#7ca5d0"/>
<rect x="69.40" y="272.45" width="13.25" height="2.09" fill="#7aa4cf"/>
<rect x="82.05" y="272.45" width="13.25" height="2.09" fill="#5a86ba"/>
<rect x="94.70" y="272.45" width="13.25" height="2.09" fill="#f1e1ba"/>
<rect x="107.35" y="272.45" width="13.25" height="2.09" fill="#f2ead2"/>
<rect x="120.00" y="272.45" width="13.25" height="2.09" fill="#f3f6f0"/>
<rect x="132.65" y="272.45" width="12.65" height="2.09" fill="#eecc95"/>
<rect x="44.10" y="273.94" width="13.25" height="2.09" fill="#8eb3d7"/>
<rect x="56.75" y="273.94" width="13.25" height="2.09" fill="#608cbf"/>
<rect x="69.40" y="273.94" width="13.25" height="2.09" fill="#6e98c7"/>
<rect x="82.05" y="273.94" width="13.25" height="2.09" fill="#608cbf"/>
<rect x="94.70" y="273.94" width="13.25" height="2.09" fill="#f3eedb"/>
<rect x="107.35" y="273.94" width="13.25" height="2.09" fill="#f0d9ac"/>
<rect x="120.00" y="273.94" width="13.25" height="2.09" fill="#f2e7ca"/>
<rect x="132.65" y="273.94" width="12.65" height="2.09" fill="#f3ecd6"/>
<rect x="44.10" y="275.43" width="13.25" height="2.09" fill="#5d89bd"/>
<rect x="56.75" y="275.43" width="13.25" height="2.09" fill="#507cb3"/>
<rect x="69.40" y="275.43" width="13.25" height="2.09" fill="#507cb3"/>
<rect x="82.05" y="275.43" width="13.25" height="2.09" fill="#5480b6"/>
<rect x="94.70" y="275.43" width="13.25" height="2.09" fill="#e59b63"/>
<rect x="107.35" y="275.43" width="13.25" height="2.09" fill="#e8a970"/>
<rect x="120.00" y="275.43" width="13.25" height="2.09" fill="#ebba81"/>
<rect x="132.65" y="275.43" width="12.65" height="2.09" fill="#e9ad75"/>
<rect x="44.10" y="276.92" width="13.25" height="2.09" fill="#7da5d0"/>
<rect x="56.75" y="276.92" width="13.25" height="2.09" fill="#9dbfdd"/>
<rect x="69.40" y="276.92" width="13.25" height="2.09" fill="#6f99c8"/>
<rect x="82.05" y="276.92" width="13.25" height="2.09" fill="#5783b9"/>
<rect x="94.70" y="276.92" width="13.25" height="2.09" fill="#efd3a1"/>
<rect x="107.35" y="276.92" width="13.25" height="2.09" fill="#efd19f"/>
<rect x="120.00" y="276.92" width="13.25" height="2.09" fill="#efd6a6"/>
<rect x="132.65" y="276.92" width="12.65" height="2.09" fill="#f1e1bc"/>
<rect x="44.10" y="278.41" width="13.25" height="2.09" fill="#87aed4"/>
<rect x="56.75" y="278.41" width="13.25" height="2.09" fill="#729dcb"/>
<rect x="69.40" y="278.41" width="13.25" height="2.09" fill="#7ea6d0"/>
<rect x="82.05" y="278.41" width="13.25" height="2.09" fill="#81a9d1"/>
<rect x="94.70" y="278.41" width="13.25" height="2.09" fill="#eec48a"/>
<rect x="107.35" y="278.41" width="13.25" height="2.09" fill="#efd5a5"/>
<rect x="120.00" y="278.41" width="13.25" height="2.09" fill="#f0dbaf"/>
<rect x="132.65" y="278.41" width="12.65" height="2.09" fill="#efd19e"/>
<rect x="44.10" y="279.90" width="13.25" height="2.09" fill="#88aed4"/>
<rect x="56.75" y="279.90" width="13.25" height="2.09" fill="#bfd7e7"/>
<rect x="69.40" y="279.90" width="13.25" height="2.09" fill="#82aad2"/>
<rect x="82.05" y="279.90" width="13.25" height="2.09" fill="#96b9da"/>
<rect x="94.70" y="279.90" width="13.25" height="2.09" fill="#f2e6c8"/>
<rect x="107.35" y="279.90" width="13.25" height="2.09" fill="#f0daad"/>
<rect x="120.00" y="279.90" width="13.25" height="2.09" fill="#efd2a0"/>
<rect x="132.65" y="279.90" width="12.65" height="2.09" fill="#efd5a5"/>
<rect x="44.10" y="281.39" width="13.25" height="2.09" fill="#81a8d1"/>
<rect x="56.75" y="281.39" width="13.25" height="2.09" fill="#7aa3ce"/>
<rect x="69.40" y="281.39" width="13.25" height="2.09" fill="#6792c3"/>
<rect x="82.05" y="281.39" width="13.25" height="2.09" fill="#93b7d9"/>
<rect x="94.70" y="281.39" width="13.25" height="2.09" fill="#ecbb81"/>
<rect x="107.35" y="281.39" width="13.25" height="2.09" fill="#ebb77e"/>
<rect x="120.00" y="281.39" width="13.25" height="2.09" fill="#e8ab73"/>
<rect x="132.65" y="281.39" width="12.65" height="2.09" fill="#e6a169"/>
<rect x="44.10" y="282.88" width="13.25" height="2.09" fill="#6792c3"/>
<rect x="56.75" y="282.88" width="13.25" height="2.09" fill="#8cb1d6"/>
<rect x="69.40" y="282.88" width="13.25" height="2.09" fill="#608bbe"/>
<rect x="82.05" y="282.88" width="13.25" height="2.09" fill="#78a1ce"/>
<rect x="94.70" y="282.88" width="13.25" height="2.09" fill="#f2e8cc"/>
<rect x="107.35" y="282.88" width="13.25" height="2.09" fill="#f0d8ab"/>
<rect x="120.00" y="282.88" width="13.25" height="2.09" fill="#f2e8cc"/>
<rect x="132.65" y="282.88" width="12.65" height="2.09" fill="#f1e1bb"/>
<rect x="44.10" y="284.37" width="13.25" height="2.09" fill="#8cb1d6"/>
<rect x="56.75" y="284.37" width="13.25" height="2.09" fill="#6a95c5"/>
<rect x="69.40" y="284.37" width="13.25" height="2.09" fill="#7ca5d0"/>
<rect x="82.05" y="284.37" width="13.25" height="2.09" fill="#719cca"/>
<rect x="94.70" y="284.37" width="13.25" height="2.09" fill="#ecbd83"/>
<rect x="107.35" y="284.37" width="13.25" height="2.09" fill="#eec58b"/>
<rect x="120.00" y="284.37" width="13.25" height="2.09" fill="#efcc96"/>
<rect x="132.65" y="284.37" width="12.65" height="2.09" fill="#efce99"/>
<rect x="44.10" y="285.86" width="13.25" height="2.09" fill="#86add4"/>
<rect x="56.75" y="285.86" width="13.25" height="2.09" fill="#82aad2"/>
<rect x="69.40" y="285.86" width="13.25" height="2.09" fill="#82a9d2"/>
<rect x="82.05" y="285.86" width="13.25" height="2.09" fill="#90b4d7"/>
<rect x="94.70" y="285.86" width="13.25" height="2.09" fill="#efd4a4"/>
<rect x="107.35" y="285.86" width="13.25" height="2.09" fill="#ebb77e"/>
<rect x="120.00" y="285.86" width="13.25" height="2.09" fill="#efd8aa"/>
<rect x="132.65" y="285.86" width="12.65" height="2.09" fill="#efcf9b"/>
<rect x="44.10" y="287.35" width="13.25" height="2.09" fill="#6792c3"/>
<rect x="56.75" y="287.35" width="13.25" height="2.09" fill="#7ea6d0"/>
<rect x="69.40" y="287.35" width="13.25" height="2.09" fill="#6f9ac9"/>
<rect x="82.05" y="287.35" width="13.25" height="2.09" fill="#6c96c6"/>
<rect x="94.70" y="287.35" width="13.25" height="2.09" fill="#f1e4c3"/>
<rect x="107.35" y="287.35" width="13.25" height="2.09" fill="#f4f1e1"/>
<rect x="120.00" y="287.35" width="13.25" height="2.09" fill="#f1e2be"/>
<rect x="132.65" y="287.35" width="12.65" height="2.09" fill="#f4f0e0"/>
<rect x="44.10" y="288.84" width="13.25" height="2.09" fill="#c7dce8"/>
<rect x="56.75" y="288.84" width="13.25" height="2.09" fill="#719bc9"/>
<rect x="69.40" y="288.84" width="13.25" height="2.09" fill="#d2e2ea"/>
<rect x="82.05" y="288.84" width="13.25" height="2.09" fill="#b6d1e5"/>
<rect x="94.70" y="288.84" width="13.25" height="2.09" fill="#efce9a"/>
<rect x="107.35" y="288.84" width="13.25" height="2.09" fill="#f0d9ac"/>
<rect x="120.00" y="288.84" width="13.25" height="2.09" fill="#eec992"/>
<rect x="132.65" y="288.84" width="12.65" height="2.09" fill="#eec88f"/>
<rect x="44.10" y="290.32" width="13.25" height="2.09" fill="#638ec0"/>
<rect x="56.75" y="290.32" width="13.25" height="2.09" fill="#80a8d1"/>
<rect x="69.40" y="290.32" width="13.25" height="2.09" fill="#749ecb"/>
<rect x="82.05" y="290.32" width="13.25" height="2.09" fill="#7ca5d0"/>
<rect x="94.70" y="290.32" width="13.25" height="2.09" fill="#eec88f"/>
<rect x="107.35" y="290.32" width="13.25" height="2.09" fill="#e8a870"/>
<rect x="120.00" y="290.32" width="13.25" height="2.09" fill="#eeca93"/>
<rect x="132.65" y="290.32" width="12.65" height="2.09" fill="#efd09c"/>
<rect x="44.10" y="291.81" width="13.25" height="2.09" fill="#6590c2"/>
<rect x="56.75" y="291.81" width="13.25" height="2.09" fill="#5783b8"/>
<rect x="69.40" y="291.81" width="13.25" height="2.09" fill="#618cbf"/>
<rect x="82.05" y="291.81" width="13.25" height="2.09" fill="#5884b9"/>
<rect x="94.70" y="291.81" width="13.25" height="2.09" fill="#f0daae"/>
<rect x="107.35" y="291.81" width="13.25" height="2.09" fill="#edc288"/>
<rect x="120.00" y="291.81" width="13.25" height="2.09" fill="#f0daad"/>
<rect x="132.65" y="291.81" width="12.65" height="2.09" fill="#eec88f"/>
<rect x="44.10" y="293.30" width="13.25" height="2.09" fill="#537fb6"/>
<rect x="56.75" y="293.30" width="13.25" height="2.09" fill="#5884b9"/>
<rect x="69.40" y="293.30" width="13.25" height="2.09" fill="#5581b7"/>
<rect x="82.05" y="293.30" width="13.25" height="2.09" fill="#537fb6"/>
<rect x="94.70" y="293.30" width="13.25" height="2.09" fill="#f5f7f0"/>
<rect x="107.35" y="293.30" width="13.25" height="2.09" fill="#f3ebd3"/>
<rect x="120.00" y="293.30" width="13.25" height="2.09" fill="#f1e5c6"/>
<rect x="132.65" y="293.30" width="12.65" height="2.09" fill="#ecf1ee"/>
<rect x="44.10" y="294.79" width="13.25" height="2.09" fill="#5e8abd"/>
<rect x="56.75" y="294.79" width="13.25" height="2.09" fill="#83aad2"/>
<rect x="69.40" y="294.79" width="13.25" height="2.09" fill="#729cca"/>
<rect x="82.05" y="294.79" width="13.25" height="2.09" fill="#6b95c5"/>
<rect x="94.70" y="294.79" width="13.25" height="2.09" fill="#edbf85"/>
<rect x="107.35" y="294.79" width="13.25" height="2.09" fill="#edc389"/>
<rect x="120.00" y="294.79" width="13.25" height="2.09" fill="#efd4a4"/>
<rect x="132.65" y="294.79" width="12.65" height="2.09" fill="#eeca93"/>
<rect x="44.10" y="296.28" width="13.25" height="2.09" fill="#5f8bbe"/>
<rect x="56.75" y="296.28" width="13.25" height="2.09" fill="#719cca"/>
<rect x="69.40" y="296.28" width="13.25" height="2.09" fill="#5a86ba"/>
<rect x="82.05" y="296.28" width="13.25" height="2.09" fill="#6590c1"/>
<rect x="94.70" y="296.28" width="13.25" height="2.09" fill="#ebb87f"/>
<rect x="107.35" y="296.28" width="13.25" height="2.09" fill="#ebb77e"/>
<rect x="120.00" y="296.28" width="13.25" height="2.09" fill="#eab179"/>
<rect x="132.65" y="296.28" width="12.65" height="2.09" fill="#ebb980"/>
<rect x="44.10" y="297.77" width="13.25" height="2.09" fill="#93b7d9"/>
<rect x="56.75" y="297.77" width="13.25" height="2.09" fill="#82a9d2"/>
<rect x="69.40" y="297.77" width="13.25" height="2.09" fill="#a8c7e1"/>
<rect x="82.05" y="297.77" width="13.25" height="2.09" fill="#92b6d8"/>
<rect x="94.70" y="297.77" width="13.25" height="2.09" fill="#edbf86"/>
<rect x="107.35" y="297.77" width="13.25" height="2.09" fill="#edc288"/>
<rect x="120.00" y="297.77" width="13.25" height="2.09" fill="#eec78e"/>
<rect x="132.65" y="297.77" width="12.65" height="2.09" fill="#efd29f"/>
<rect x="44.10" y="299.26" width="13.25" height="2.09" fill="#6792c3"/>
<rect x="56.75" y="299.26" width="13.25" height="2.09" fill="#6691c2"/>
<rect x="69.40" y="299.26" width="13.25" height="2.09" fill="#5a86ba"/>
<rect x="82.05" y="299.26" width="13.25" height="2.09" fill="#a6c6e0"/>
<rect x="94.70" y="299.26" width="13.25" height="2.09" fill="#efd09d"/>
<rect x="107.35" y="299.26" width="13.25" height="2.09" fill="#f0dfb5"/>
<rect x="120.00" y="299.26" width="13.25" height="2.09" fill="#efd6a7"/>
<rect x="132.65" y="299.26" width="12.65" height="2.09" fill="#f3ebd4"/>
<rect x="44.10" y="300.75" width="13.25" height="2.09" fill="#6691c2"/>
<rect x="56.75" y="300.75" width="13.25" height="2.09" fill="#5d89bd"/>
<rect x="69.40" y="300.75" width="13.25" height="2.09" fill="#6a94c5"/>
<rect x="82.05" y="300.75" width="13.25" height="2.09" fill="#6590c2"/>
<rect x="94.70" y="300.75" width="13.25" height="2.09" fill="#efd3a2"/>
<rect x="107.35" y="300.75" width="13.25" height="2.09" fill="#eecb95"/>
<rect x="120.00" y="300.75" width="13.25" height="2.09" fill="#efd7a8"/>
<rect x="132.65" y="300.75" width="12.65" height="2.09" fill="#efd19e"/>
<rect x="44.10" y="302.24" width="13.25" height="2.09" fill="#5d89bd"/>
<rect x="56.75" y="302.24" width="13.25" height="2.09" fill="#5682b8"/>
<rect x="69.40" y="302.24" width="13.25" height="2.09" fill="#709ac9"/>
<rect x="82.05" y="302.24" width="13.25" height="2.09" fill="#749ecb"/>
<rect x="94.70" y="302.24" width="13.25" height="2.09" fill="#f5f6ed"/>
<rect x="107.35" y="302.24" width="13.25" height="2.09" fill="#f3edd8"/>
<rect x="120.00" y="302.24" width="13.25" height="2.09" fill="#f0dcb0"/>
<rect x="132.65" y="302.24" width="12.65" height="2.09" fill="#f0dfb6"/>
<rect x="44.10" y="303.73" width="13.25" height="2.09" fill="#76a0cd"/>
<rect x="56.75" y="303.73" width="13.25" height="2.09" fill="#749ecc"/>
<rect x="69.40" y="303.73" width="13.25" height="2.09" fill="#adcbe3"/>
<rect x="82.05" y="303.73" width="13.25" height="2.09" fill="#719cca"/>
<rect x="94.70" y="303.73" width="13.25" height="2.09" fill="#efd7a9"/>
<rect x="107.35" y="303.73" width="13.25" height="2.09" fill="#f0dcb1"/>
<rect x="120.00" y="303.73" width="13.25" height="2.09" fill="#f2e6c8"/>
<rect x="132.65" y="303.73" width="12.65" height="2.09" fill="#f1e3c1"/>
<rect x="44.10" y="305.22" width="13.25" height="2.09" fill="#77a1cd"/>
<rect x="56.75" y="305.22" width="13.25" height="2.09" fill="#729cca"/>
<rect x="69.40" y="305.22" width="13.25" height="2.09" fill="#5884b9"/>
<rect x="82.05" y="305.22" width="13.25" height="2.09" fill="#4f7bb3"/>
<rect x="94.70" y="305.22" width="13.25" height="2.09" fill="#f0ddb2"/>
<rect x="107.35" y="305.22" width="13.25" height="2.09" fill="#efd7a8"/>
<rect x="120.00" y="305.22" width="13.25" height="2.09" fill="#efce99"/>
<rect x="132.65" y="305.22" width="12.65" height="2.09" fill="#efce99"/>
<rect x="44.10" y="306.71" width="13.25" height="2.09" fill="#5e8abd"/>
<rect x="56.75" y="306.71" width="13.25" height="2.09" fill="#87add4"/>
<rect x="69.40" y="306.71" width="13.25" height="2.09" fill="#a5c5e0"/>
<rect x="82.05" y="306.71" width="13.25" height="2.09" fill="#93b7d9"/>
<rect x="94.70" y="306.71" width="13.25" height="2.09" fill="#e8a870"/>
<rect x="107.35" y="306.71" width="13.25" height="2.09" fill="#ebb67d"/>
<rect x="120.00" y="306.71" width="13.25" height="2.09" fill="#efcd97"/>
<rect x="132.65" y="306.71" width="12.65" height="2.09" fill="#eec890"/>
<rect x="44.10" y="308.19" width="13.25" height="2.09" fill="#9abddc"/>
<rect x="56.75" y="308.19" width="13.25" height="2.09" fill="#76a0cd"/>
<rect x="69.40" y="308.19" width="13.25" height="2.09" fill="#91b5d8"/>
<rect x="82.05" y="308.19" width="13.25" height="2.09" fill="#6f9ac9"/>
<rect x="94.70" y="308.19" width="13.25" height="2.09" fill="#efce99"/>
<rect x="107.35" y="308.19" width="13.25" height="2.09" fill="#e8aa72"/>
<rect x="120.00" y="308.19" width="13.25" height="2.09" fill="#efd6a7"/>
<rect x="132.65" y="308.19" width="12.65" height="2.09" fill="#f0daad"/>
<rect x="44.10" y="309.68" width="13.25" height="2.09" fill="#5783b8"/>
<rect x="56.75" y="309.68" width="13.25" height="2.09" fill="#628dc0"/>
<rect x="69.40" y="309.68" width="13.25" height="2.09" fill="#6d97c7"/>
<rect x="82.05" y="309.68" width="13.25" height="2.09" fill="#6c97c6"/>
<rect x="94.70" y="309.68" width="13.25" height="2.09" fill="#efd3a2"/>
<rect x="107.35" y="309.68" width="13.25" height="2.09" fill="#efd2a0"/>
<rect x="120.00" y="309.68" width="13.25" height="2.09" fill="#efd2a0"/>
<rect x="132.65" y="309.68" width="12.65" height="2.09" fill="#f1e5c6"/>
<rect x="44.10" y="311.17" width="13.25" height="2.09" fill="#7ba4cf"/>
<rect x="56.75" y="311.17" width="13.25" height="2.09" fill="#729dcb"/>
<rect x="69.40" y="311.17" width="13.25" height="2.09" fill="#749ecb"/>
<rect x="82.05" y="311.17" width="13.25" height="2.09" fill="#6792c3"/>
<rect x="94.70" y="311.17" width="13.25" height="2.09" fill="#f1e2bd"/>
<rect x="107.35" y="311.17" width="13.25" height="2.09" fill="#f1e4c1"/>
<rect x="120.00" y="311.17" width="13.25" height="2.09" fill="#f1e3c0"/>
<rect x="132.65" y="311.17" width="12.65" height="2.09" fill="#f1e4c2"/>
<rect x="44.10" y="312.66" width="13.25" height="2.09" fill="#81a9d2"/>
<rect x="56.75" y="312.66" width="13.25" height="2.09" fill="#83aad2"/>
<rect x="69.40" y="312.66" width="13.25" height="2.09" fill="#8bb0d5"/>
<rect x="82.05" y="312.66" width="13.25" height="2.09" fill="#85acd3"/>
<rect x="94.70" y="312.66" width="13.25" height="2.09" fill="#efd19f"/>
<rect x="107.35" y="312.66" width="13.25" height="2.09" fill="#f1e5c4"/>
<rect x="120.00" y="312.66" width="13.25" height="2.09" fill="#eecc95"/>
<rect x="132.65" y="312.66" width="12.65" height="2.09" fill="#efd3a1"/>
<rect x="44.10" y="314.15" width="13.25" height="2.09" fill="#89afd5"/>
<rect x="56.75" y="314.15" width="13.25" height="2.09" fill="#8db2d6"/>
<rect x="69.40" y="314.15" width="13.25" height="2.09" fill="#92b6d8"/>
<rect x="82.05" y="314.15" width="13.25" height="2.09" fill="#9fc0dd"/>
<rect x="94.70" y="314.15" width="13.25" height="2.09" fill="#f3ebd3"/>
<rect x="107.35" y="314.15" width="13.25" height="2.09" fill="#eec78e"/>
<rect x="120.00" y="314.15" width="13.25" height="2.09" fill="#f2e9ce"/>
<rect x="132.65" y="314.15" width="12.65" height="2.09" fill="#f0dcb1"/>
<rect x="44.10" y="315.64" width="13.25" height="2.09" fill="#709bc9"/>
<rect x="56.75" y="315.64" width="13.25" height="2.09" fill="#88afd4"/>
<rect x="69.40" y="315.64" width="13.25" height="2.09" fill="#638ec0"/>
<rect x="82.05" y="315.64" width="13.25" height="2.09" fill="#638ec0"/>
<rect x="94.70" y="315.64" width="13.25" height="2.09" fill="#e8aa72"/>
<rect x="107.35" y="315.64" width="13.25" height="2.09" fill="#f0dbaf"/>
<rect x="120.00" y="315.64" width="13.25" height="2.09" fill="#efcf9b"/>
<rect x="132.65" y="315.64" width="12.65" height="2.09" fill="#efd5a5"/>
<rect x="44.10" y="317.13" width="13.25" height="2.09" fill="#729cca"/>
<rect x="56.75" y="317.13" width="13.25" height="2.09" fill="#6d97c7"/>
<rect x="69.40" y="317.13" width="13.25" height="2.09" fill="#5d89bc"/>
<rect x="82.05" y="317.13" width="13.25" height="2.09" fill="#6f9ac8"/>
<rect x="94.70" y="317.13" width="13.25" height="2.09" fill="#eec88f"/>
<rect x="107.35" y="317.13" width="13.25" height="2.09" fill="#eab279"/>
<rect x="120.00" y="317.13" width="13.25" height="2.09" fill="#edc187"/>
<rect x="132.65" y="317.13" width="12.65" height="2.09" fill="#eecb94"/>
<rect x="44.10" y="318.62" width="13.25" height="2.09" fill="#76a0cd"/>
<rect x="56.75" y="318.62" width="13.25" height="2.09" fill="#719bc9"/>
<rect x="69.40" y="318.62" width="13.25" height="2.09" fill="#7fa7d0"/>
<rect x="82.05" y="318.62" width="13.25" height="2.09" fill="#8cb1d6"/>
<rect x="94.70" y="318.62" width="13.25" height="2.09" fill="#f0d8ab"/>
<rect x="107.35" y="318.62" width="13.25" height="2.09" fill="#f0daae"/>
<rect x="120.00" y="318.62" width="13.25" height="2.09" fill="#eec68c"/>
<rect x="132.65" y="318.62" width="12.65" height="2.09" fill="#efd09c"/>
<rect x="44.10" y="320.11" width="13.25" height="2.09" fill="#6590c2"/>
<rect x="56.75" y="320.11" width="13.25" height="2.09" fill="#709bc9"/>
<rect x="69.40" y="320.11" width="13.25" height="2.09" fill="#5e8abd"/>
<rect x="82.05" y="320.11" width="13.25" height="2.09" fill="#6c96c6"/>
<rect x="94.70" y="320.11" width="13.25" height="2.09" fill="#f0daad"/>
<rect x="107.35" y="320.11" width="13.25" height="2.09" fill="#efcf9b"/>
<rect x="120.00" y="320.11" width="13.25" height="2.09" fill="#efd5a5"/>
<rect x="132.65" y="320.11" width="12.65" height="2.09" fill="#f1e2bd"/>
<rect x="44.10" y="321.60" width="13.25" height="2.09" fill="#90b5d8"/>
<rect x="56.75" y="321.60" width="13.25" height="2.09" fill="#78a1ce"/>
<rect x="69.40" y="321.60" width="13.25" height="2.09" fill="#6792c3"/>
<rect x="82.05" y="321.60" width="13.25" height="2.09" fill="#9fc0de"/>
<rect x="94.70" y="321.60" width="13.25" height="2.09" fill="#efcd97"/>
<rect x="107.35" y="321.60" width="13.25" height="2.09" fill="#efd6a6"/>
<rect x="120.00" y="321.60" width="13.25" height="2.09" fill="#efd3a2"/>
<rect x="132.65" y="321.60" width="12.65" height="2.09" fill="#eecc96"/>
<rect x="44.10" y="323.09" width="13.25" height="2.09" fill="#90b5d8"/>
<rect x="56.75" y="323.09" width="13.25" height="2.09" fill="#78a1ce"/>
<rect x="69.40" y="323.09" width="13.25" height="2.09" fill="#527eb5"/>
<rect x="82.05" y="323.09" width="13.25" height="2.09" fill="#739dcb"/>
<rect x="94.70" y="323.09" width="13.25" height="2.09" fill="#efcd98"/>
<rect x="107.35" y="323.09" width="13.25" height="2.09" fill="#efce9a"/>
<rect x="120.00" y="323.09" width="13.25" height="2.09" fill="#f0dbaf"/>
<rect x="132.65" y="323.09" width="12.65" height="2.09" fill="#efd4a4"/>
<rect x="44.10" y="324.58" width="13.25" height="2.09" fill="#a7c6e1"/>
<rect x="56.75" y="324.58" width="13.25" height="2.09" fill="#719bca"/>
<rect x="69.40" y="324.58" width="13.25" height="2.09" fill="#a4c5e0"/>
<rect x="82.05" y="324.58" width="13.25" height="2.09" fill="#9ec0dd"/>
<rect x="94.70" y="324.58" width="13.25" height="2.09" fill="#edc389"/>
<rect x="107.35" y="324.58" width="13.25" height="2.09" fill="#eeca92"/>
<rect x="120.00" y="324.58" width="13.25" height="2.09" fill="#e9b077"/>
<rect x="132.65" y="324.58" width="12.65" height="2.09" fill="#edc187"/>
<rect x="44.10" y="326.06" width="13.25" height="2.09" fill="#739dcb"/>
<rect x="56.75" y="326.06" width="13.25" height="2.09" fill="#6a95c5"/>
<rect x="69.40" y="326.06" width="13.25" height="2.09" fill="#78a2ce"/>
<rect x="82.05" y="326.06" width="13.25" height="2.09" fill="#5783b8"/>
<rect x="94.70" y="326.06" width="13.25" height="2.09" fill="#efd4a4"/>
<rect x="107.35" y="326.06" width="13.25" height="2.09" fill="#efd6a7"/>
<rect x="120.00" y="326.06" width="13.25" height="2.09" fill="#f0deb5"/>
<rect x="132.65" y="326.06" width="12.65" height="2.09" fill="#e7a66e"/>
<rect x="44.10" y="327.55" width="13.25" height="2.09" fill="#739dcb"/>
<rect x="56.75" y="327.55" width="13.25" height="2.09" fill="#95b9da"/>
<rect x="69.40" y="327.55" width="13.25" height="2.09" fill="#638ec0"/>
<rect x="82.05" y="327.55" width="13.25" height="2.09" fill="#84abd3"/>
<rect x="94.70" y="327.55" width="13.25" height="2.09" fill="#f2e8cc"/>
<rect x="107.35" y="327.55" width="13.25" height="2.09" fill="#f0dcb1"/>
<rect x="120.00" y="327.55" width="13.25" height="2.09" fill="#efd2a1"/>
<rect x="132.65" y="327.55" width="12.65" height="2.09" fill="#e4965f"/>
<rect x="44.10" y="329.04" width="13.25" height="2.09" fill="#6c97c6"/>
<rect x="56.75" y="329.04" width="13.25" height="2.09" fill="#7fa7d1"/>
<rect x="69.40" y="329.04" width="13.25" height="2.09" fill="#77a1ce"/>
<rect x="82.05" y="329.04" width="13.25" height="2.09" fill="#628dc0"/>
<rect x="94.70" y="329.04" width="13.25" height="2.09" fill="#f2e9cf"/>
<rect x="107.35" y="329.04" width="13.25" height="2.09" fill="#f1e3c0"/>
<rect x="120.00" y="329.04" width="13.25" height="2.09" fill="#f3edd8"/>
<rect x="132.65" y="329.04" width="12.65" height="2.09" fill="#d74f3a"/>
<rect x="44.10" y="330.53" width="13.25" height="2.09" fill="#95b8d9"/>
<rect x="56.75" y="330.53" width="13.25" height="2.09" fill="#749ecb"/>
<rect x="69.40" y="330.53" width="13.25" height="2.09" fill="#739dcb"/>
<rect x="82.05" y="330.53" width="13.25" height="2.09" fill="#78a2ce"/>
<rect x="94.70" y="330.53" width="13.25" height="2.09" fill="#f0deb4"/>
<rect x="107.35" y="330.53" width="13.25" height="2.09" fill="#eeca92"/>
<rect x="120.00" y="330.53" width="13.25" height="2.09" fill="#f0dfb6"/>
<rect x="132.65" y="330.53" width="12.65" height="2.09" fill="#e69e66"/>
<rect x="44.10" y="332.02" width="13.25" height="2.09" fill="#537fb5"/>
<rect x="56.75" y="332.02" width="13.25" height="2.09" fill="#5d89bc"/>
<rect x="69.40" y="332.02" width="13.25" height="2.09" fill="#5884b9"/>
<rect x="82.05" y="332.02" width="13.25" height="2.09" fill="#5682b8"/>
<rect x="94.70" y="332.02" width="13.25" height="2.09" fill="#ebb87f"/>
<rect x="107.35" y="332.02" width="13.25" height="2.09" fill="#eab27a"/>
<rect x="120.00" y="332.02" width="13.25" height="2.09" fill="#efce9a"/>
<rect x="132.65" y="332.02" width="12.65" height="2.09" fill="#e7a66e"/>
<rect x="44.10" y="333.51" width="13.25" height="1.49" fill="#6893c4"/>
<rect x="56.75" y="333.51" width="13.25" height="1.49" fill="#7da5d0"/>
<rect x="69.40" y="333.51" width="13.25" height="1.49" fill="#739ecb"/>
<rect x="82.05" y="333.51" width="13.25" height="1.49" fill="#78a1ce"/>
<rect x="94.70" y="333.51" width="13.25" height="1.49" fill="#f0deb5"/>
<rect x="107.35" y="333.51" width="13.25" height="1.49" fill="#f0dbaf"/>
<rect x="120.00" y="333.51" width="13.25" height="1.49" fill="#efd4a4"/>
<rect x="132.65" y="333.51" width="12.65" height="1.49" fill="#e9ae76"/>
<defs><linearGradient id="cbB" x1="0" y1="0" x2="0" y2="1"><stop offset="0" stop-color="#d2412f"/><stop offset="0.18" stop-color="#e9a070"/><stop offset="0.32" stop-color="#efd39a"/><stop offset="0.5" stop-color="#f6f7f2"/><stop offset="0.64" stop-color="#b3cbe2"/><stop offset="0.8" stop-color="#6f99c9"/><stop offset="1" stop-color="#4a73ad"/></linearGradient></defs>
<rect x="146.90" y="150.90" width="4.00" height="57.80" fill="url(#cbB)"/>
<text x="151.90" y="156.40" font-size="4.2" fill="#222" stroke="#222" stroke-width="0.1">2</text>
<text x="151.90" y="169.20" font-size="4.2" fill="#222" stroke="#222" stroke-width="0.1">1</text>
<text x="151.90" y="181.30" font-size="4.2" fill="#222" stroke="#222" stroke-width="0.1">0</text>
<text x="151.90" y="193.80" font-size="4.2" fill="#222" stroke="#222" stroke-width="0.1">−1</text>
<text x="151.90" y="206.20" font-size="4.2" fill="#222" stroke="#222" stroke-width="0.1">−2</text>
<path d="M39.4 156.9H38.6M39.4 158.7H39.4M39.4 160.8H39.4M39.4 158.7H37.1V160.8H39.4M38.6 156.9H36.8V159.7H37.1M39.4 163.8H38.4M39.4 167.1H36.7M39.4 169.2H38.5M36.7 167.1H36.4V169.2H38.5M39.4 170.4H37.5M36.4 168.1H36.2V170.4H37.5M38.4 163.8H35.9V169.2H36.2M36.8 158.3H35.7V166.5H35.9M39.4 172.5H37.4M39.4 174.8H36.4M39.4 177.2H36.5M36.4 174.8H36.2V177.2H36.5M39.4 179.9H37.3M36.2 176.0H35.9V179.9H37.3M37.4 172.5H35.7V178.0H35.9M39.4 182.0H39.1M39.4 184.1H38.8M39.1 182.0H37.2V184.1H38.8M35.7 175.2H35.4V183.1H37.2M35.7 162.4H34.4V179.1H35.4M39.4 186.8H39.0M39.4 189.2H38.8M39.0 186.8H37.0V189.2H38.8M39.4 191.3H38.1M39.4 193.7H39.0M38.1 191.3H37.6V193.7H39.0M37.0 188.0H35.8V192.5H37.6M39.4 195.8H36.7M39.4 197.6H36.2M39.4 199.7H38.5M36.2 197.6H35.9V199.7H38.5M36.7 195.8H35.7V198.6H35.9M35.8 190.3H35.4V197.2H35.7M34.4 170.8H31.8V193.7H35.4M39.4 201.8H37.6M39.4 203.9H39.3M37.6 201.8H37.3V203.9H39.3M39.4 206.3H38.6M39.4 208.3H36.9M38.6 206.3H36.7V208.3H36.9M37.3 202.8H36.4V207.3H36.7M39.4 211.0H38.6M39.4 213.7H37.3M38.6 211.0H37.0V213.7H37.3M36.4 205.1H35.1V212.4H37.0M39.4 216.1H39.2M39.4 218.5H37.3M39.2 216.1H37.0V218.5H37.3M39.4 220.9H38.5M37.0 217.3H36.5V220.9H38.5M39.4 223.6H38.2M36.5 219.1H35.7V223.6H38.2M35.1 208.7H34.6V221.4H35.7M31.8 182.3H30.9V215.0H34.6M39.4 226.6H38.7M39.4 229.3H36.0M38.7 226.6H35.7V229.3H36.0M39.4 231.1H36.8M35.7 227.9H35.5V231.1H36.8M39.4 233.1H39.3M39.4 235.8H36.6M39.3 233.1H36.4V235.8H36.6M35.5 229.5H35.2V234.5H36.4M39.4 238.8H38.2M39.4 241.5H39.3M39.4 243.9H36.6M39.3 241.5H36.3V243.9H36.6M38.2 238.8H36.1V242.7H36.3M39.4 245.9H39.4M39.4 247.7H38.7M39.4 250.4H36.3M38.7 247.7H36.0V250.4H36.3M39.4 245.9H35.8V249.1H36.0M36.1 240.7H35.5V247.5H35.8M35.2 232.0H33.6V244.1H35.5M39.4 254.0H37.2M39.4 257.3H38.2M37.2 254.0H36.7V257.3H38.2M39.4 259.4H39.4M39.4 261.7H39.2M39.4 259.4H37.4V261.7H39.2M39.4 265.3H39.1M37.4 260.5H36.9V265.3H39.1M36.7 255.6H35.8V262.9H36.9M39.4 268.9H38.7M39.4 271.3H38.6M38.7 268.9H37.3V271.3H38.6M39.4 273.6H37.4M37.3 270.1H36.2V273.6H37.4M35.8 259.3H33.7V271.9H36.2M39.4 277.2H36.8M39.4 279.9H36.6M39.4 282.3H38.1M36.6 279.9H36.3V282.3H38.1M36.8 277.2H36.1V281.1H36.3M39.4 285.0H38.2M39.4 287.9H39.4M38.2 285.0H37.3V287.9H39.4M36.1 279.2H35.5V286.5H37.3M39.4 290.6H37.9M39.4 292.4H37.8M39.4 294.5H37.2M37.8 292.4H37.0V294.5H37.2M37.9 290.6H36.7V293.5H37.0M39.4 297.2H38.2M36.7 292.0H36.2V297.2H38.2M39.4 300.5H38.0M39.4 304.0H39.1M39.4 307.0H36.0M39.1 304.0H35.7V307.0H36.0M38.0 300.5H35.5V305.5H35.7M36.2 294.6H35.2V303.0H35.5M35.5 282.8H33.5V298.8H35.2M33.7 265.6H32.1V290.8H33.5M39.4 309.1H39.0M39.4 311.8H39.2M39.4 314.4H37.4M39.2 311.8H37.1V314.4H37.4M39.0 309.1H36.9V313.1H37.1M39.4 317.1H38.2M39.4 320.4H38.0M38.2 317.1H36.9V320.4H38.0M39.4 323.1H36.3M39.4 325.8H39.1M36.3 323.1H36.0V325.8H39.1M39.4 328.7H39.1M39.4 331.1H39.3M39.4 333.5H36.2M39.3 331.1H36.0V333.5H36.2M39.1 328.7H35.7V332.3H36.0M36.0 324.4H35.5V330.5H35.7M36.9 318.8H35.2V327.5H35.5M36.9 311.1H34.5V323.1H35.2M32.1 278.2H30.0V317.1H34.5M33.6 238.1H27.9V297.6H30.0M30.9 198.6H24V267.9H27.9M39.4 156.2H34.0M39.4 156.8H34.4M39.4 157.4H37.6M39.4 158.0H35.7M39.4 158.6H34.2M39.4 159.2H38.5M39.4 159.8H34.6M39.4 160.4H36.8M39.4 161.0H34.9M39.4 161.6H37.2M39.4 162.2H35.6M39.4 162.8H36.2M39.4 163.4H38.5M39.4 164.0H35.0M39.4 164.6H34.7M39.4 165.2H36.3M39.4 165.8H36.8M39.4 166.4H34.1M39.4 167.0H36.9M39.4 167.6H34.4M39.4 168.2H36.7M39.4 168.8H36.9M39.4 169.4H37.0M39.4 170.0H38.8M39.4 170.6H37.4M39.4 171.2H37.7M39.4 171.8H38.8M39.4 172.4H36.0M39.4 173.0H36.5M39.4 173.6H39.1M39.4 174.2H38.2M39.4 174.8H34.3M39.4 175.4H38.3M39.4 176.0H36.9M39.4 176.6H34.1M39.4 177.2H38.4M39.4 177.8H36.7M39.4 178.4H34.8M39.4 179.0H39.2M39.4 179.6H38.8M39.4 180.2H34.2M39.4 180.8H35.3M39.4 181.4H37.5M39.4 182.0H36.3M39.4 182.6H37.6M39.4 183.2H34.4M39.4 183.8H34.1M39.4 184.4H38.7M39.4 185.0H36.1M39.4 185.6H38.0M39.4 186.2H36.7M39.4 186.8H35.1M39.4 187.4H35.2M39.4 188.0H37.9M39.4 188.6H37.1M39.4 189.2H36.6M39.4 189.8H36.8M39.4 190.4H35.3M39.4 191.0H34.9M39.4 191.6H37.1M39.4 192.2H36.5M39.4 192.8H38.8M39.4 193.4H36.9M39.4 194.0H34.1M39.4 194.6H36.2M39.4 195.2H36.0M39.4 195.8H35.7M39.4 196.4H35.9M39.4 197.0H34.8M39.4 197.6H37.5M39.4 198.2H37.2M39.4 198.8H34.4M39.4 199.4H36.2M39.4 200.0H34.1M39.4 200.6H38.3M39.4 201.2H34.9M39.4 201.8H36.4M39.4 202.4H36.4M39.4 203.0H34.4M39.4 203.6H38.3M39.4 204.2H36.2M39.4 204.8H37.6M39.4 205.4H37.1M39.4 206.0H34.7M39.4 206.6H36.8M39.4 207.2H34.9M39.4 207.8H39.2M39.4 208.4H33.9M39.4 209.0H34.1M39.4 209.6H35.4M39.4 210.2H37.9M39.4 210.8H35.5M39.4 211.4H37.9M39.4 212.0H36.9M39.4 212.6H39.0M39.4 213.2H38.7M39.4 213.8H38.1M39.4 214.4H38.0M39.4 215.0H34.6M39.4 215.6H37.6M39.4 216.2H34.7M39.4 216.8H39.3M39.4 217.4H38.8M39.4 218.0H38.8M39.4 218.6H34.2M39.4 219.2H34.7M39.4 219.8H39.2M39.4 220.4H34.2M39.4 221.0H37.7M39.4 221.6H37.5M39.4 222.2H35.8M39.4 222.8H37.9M39.4 223.4H34.0M39.4 224.0H36.9M39.4 224.6H35.9M39.4 225.2H35.9M39.4 225.8H37.4M39.4 226.4H35.1M39.4 227.0H33.9M39.4 227.6H35.8M39.4 228.2H38.6M39.4 228.8H34.8M39.4 229.4H35.4M39.4 230.0H36.3M39.4 230.6H35.5M39.4 231.2H37.5M39.4 231.8H37.3M39.4 232.4H36.2M39.4 233.0H38.8M39.4 233.6H35.8M39.4 234.2H38.0M39.4 234.8H37.6M39.4 235.4H34.3M39.4 236.0H35.8M39.4 236.6H37.6M39.4 237.2H35.3M39.4 237.8H33.9M39.4 238.4H34.4M39.4 239.0H34.8M39.4 239.6H37.1M39.4 240.2H35.8M39.4 240.8H35.8M39.4 241.4H38.6M39.4 242.0H35.3M39.4 242.6H36.1M39.4 243.2H36.1M39.4 243.8H35.1M39.4 244.4H38.7M39.4 245.0H37.8M39.4 245.6H34.0M39.4 246.2H37.3M39.4 246.8H37.6M39.4 247.4H38.7M39.4 248.0H37.2M39.4 248.6H35.9M39.4 249.2H39.0M39.4 249.8H37.4M39.4 250.4H37.5M39.4 251.0H38.2M39.4 251.6H34.8M39.4 252.2H34.1M39.4 252.8H34.3M39.4 253.4H36.5M39.4 254.0H38.8M39.4 254.6H37.0M39.4 255.2H36.1M39.4 255.8H36.9M39.4 256.4H35.1M39.4 257.0H35.1M39.4 257.6H34.4M39.4 258.2H36.4M39.4 258.8H37.7M39.4 259.4H34.3M39.4 260.0H34.4M39.4 260.6H38.3M39.4 261.2H37.8M39.4 261.8H35.5M39.4 262.4H34.7M39.4 263.0H34.1M39.4 263.6H39.1M39.4 264.2H37.9M39.4 264.8H36.6M39.4 265.4H36.0M39.4 266.0H34.9M39.4 266.6H36.0M39.4 267.2H36.1M39.4 267.8H37.6M39.4 268.4H35.5M39.4 269.0H35.8M39.4 269.6H34.1M39.4 270.2H37.9M39.4 270.8H38.4M39.4 271.4H37.0M39.4 272.0H37.2M39.4 272.6H36.5M39.4 273.2H38.1M39.4 273.8H35.2M39.4 274.4H34.7M39.4 275.0H39.3M39.4 275.6H34.3M39.4 276.2H38.6M39.4 276.8H37.3M39.4 277.4H36.3M39.4 278.0H36.6M39.4 278.6H37.8M39.4 279.2H35.1M39.4 279.8H34.6M39.4 280.4H37.7M39.4 281.0H38.1M39.4 281.6H36.1M39.4 282.2H38.2M39.4 282.8H34.2M39.4 283.4H34.6M39.4 284.0H34.6M39.4 284.6H36.7M39.4 285.2H34.9M39.4 285.8H36.8M39.4 286.4H36.5M39.4 287.0H38.5M39.4 287.6H39.0M39.4 288.2H35.4M39.4 288.8H37.9M39.4 289.4H34.1M39.4 290.0H35.9M39.4 290.6H35.9M39.4 291.2H34.4M39.4 291.8H37.3M39.4 292.4H39.3M39.4 293.0H37.8M39.4 293.6H36.5M39.4 294.2H38.2M39.4 294.8H37.4M39.4 295.4H35.1M39.4 296.0H36.9M39.4 296.6H37.1M39.4 297.2H37.7M39.4 297.8H36.1M39.4 298.4H33.9M39.4 299.0H38.1M39.4 299.6H34.6M39.4 300.2H34.9M39.4 300.8H35.7M39.4 301.4H36.0M39.4 302.0H36.1M39.4 302.6H38.5M39.4 303.2H35.9M39.4 303.8H33.9M39.4 304.4H35.1M39.4 305.0H36.4M39.4 305.6H36.5M39.4 306.2H34.5M39.4 306.8H39.3M39.4 307.4H37.9M39.4 308.0H34.1M39.4 308.6H35.5M39.4 309.2H34.7M39.4 309.8H36.1M39.4 310.4H39.0M39.4 311.0H36.1M39.4 311.6H35.6M39.4 312.2H38.6M39.4 312.8H36.3M39.4 313.4H34.2M39.4 314.0H38.8M39.4 314.6H38.9M39.4 315.2H38.5M39.4 315.8H35.4M39.4 316.4H34.4M39.4 317.0H38.2M39.4 317.6H34.6M39.4 318.2H37.8M39.4 318.8H36.0M39.4 319.4H35.0M39.4 320.0H38.4M39.4 320.6H36.4M39.4 321.2H34.5M39.4 321.8H37.0M39.4 322.4H34.8M39.4 323.0H36.5M39.4 323.6H34.2M39.4 324.2H36.8M39.4 324.8H34.7M39.4 325.4H38.7M39.4 326.0H37.1M39.4 326.6H38.2M39.4 327.2H36.7M39.4 327.8H36.7M39.4 328.4H37.6M39.4 329.0H36.7M39.4 329.6H35.4M39.4 330.2H35.9M39.4 330.8H37.6M39.4 331.4H35.2M39.4 332.0H35.2M39.4 332.6H36.6M39.4 333.2H36.4M39.4 333.8H38.0M39.4 334.4H34.6M39.4 335.0H37.0" stroke="#000" stroke-width="0.5" fill="none"/>
<rect x="39.40" y="156.00" width="4.70" height="179.00" fill="#0d0d0d"/>
<text x="51.30" y="348.20" font-size="9" font-weight="bold" fill="#222">Control</text>
<text x="90.50" y="348.20" font-size="9" font-weight="bold" fill="#222">vs</text>
<text x="112.00" y="348.20" font-size="9" font-weight="bold" fill="#222">LPS</text>
<rect x="284.60" y="19.30" width="92.20" height="101.20" fill="#fff" stroke="#5a5a5a" stroke-width="0.75"/>
<rect x="377.20" y="19.60" width="5.60" height="100.90" fill="#6aa84f"/>
<text x="380.00" y="69.90" font-size="3.2" text-anchor="middle" fill="#222" transform="rotate(90 380.00 69.90)" dominant-baseline="middle">BP</text>
<rect x="284.90" y="23.55" width="38.90" height="3.50" fill="#6aa84f"/>
<line x1="283.20" y1="25.30" x2="284.60" y2="25.30" stroke="#444" stroke-width="0.4"/>
<text x="281.90" y="26.90" font-size="4.6" text-anchor="end" fill="#e8261e" stroke="#e8261e" stroke-width="0.14">positive regulation of inflammatory response</text>
<rect x="284.90" y="33.49" width="39.40" height="3.50" fill="#6aa84f"/>
<line x1="283.20" y1="35.24" x2="284.60" y2="35.24" stroke="#444" stroke-width="0.4"/>
<text x="281.90" y="36.84" font-size="4.6" text-anchor="end" fill="#111" stroke="#111" stroke-width="0.14">negative regulation of cell population proliferation</text>
<rect x="284.90" y="43.43" width="41.00" height="3.50" fill="#6aa84f"/>
<line x1="283.20" y1="45.18" x2="284.60" y2="45.18" stroke="#444" stroke-width="0.4"/>
<text x="281.90" y="46.78" font-size="4.6" text-anchor="end" fill="#111" stroke="#111" stroke-width="0.14">cell migration</text>
<rect x="284.90" y="53.37" width="41.20" height="3.50" fill="#6aa84f"/>
<line x1="283.20" y1="55.12" x2="284.60" y2="55.12" stroke="#444" stroke-width="0.4"/>
<text x="281.90" y="56.72" font-size="4.6" text-anchor="end" fill="#111" stroke="#111" stroke-width="0.14">cellular response to interleukin−1</text>
<rect x="284.90" y="63.31" width="45.10" height="3.50" fill="#6aa84f"/>
<line x1="283.20" y1="65.06" x2="284.60" y2="65.06" stroke="#444" stroke-width="0.4"/>
<text x="281.90" y="64.06" font-size="4.6" text-anchor="end" fill="#111" stroke="#111" stroke-width="0.14">positive regulation of smooth muscle cell</text>
<text x="281.90" y="69.26" font-size="4.6" text-anchor="end" fill="#111" stroke="#111" stroke-width="0.14">proliferation</text>
<rect x="284.90" y="73.25" width="47.00" height="3.50" fill="#6aa84f"/>
<line x1="283.20" y1="75.00" x2="284.60" y2="75.00" stroke="#444" stroke-width="0.4"/>
<text x="281.90" y="76.60" font-size="4.6" text-anchor="end" fill="#111" stroke="#111" stroke-width="0.14">positive regulation of angiogenesis</text>
<rect x="284.90" y="83.19" width="48.10" height="3.50" fill="#6aa84f"/>
<line x1="283.20" y1="84.94" x2="284.60" y2="84.94" stroke="#444" stroke-width="0.4"/>
<text x="281.90" y="86.54" font-size="4.6" text-anchor="end" fill="#e8261e" stroke="#e8261e" stroke-width="0.14">immune response</text>
<rect x="284.90" y="93.13" width="50.00" height="3.50" fill="#6aa84f"/>
<line x1="283.20" y1="94.88" x2="284.60" y2="94.88" stroke="#444" stroke-width="0.4"/>
<text x="281.90" y="96.48" font-size="4.6" text-anchor="end" fill="#111" stroke="#111" stroke-width="0.14">cellular response to lipopolysaccharide</text>
<rect x="284.90" y="103.07" width="66.60" height="3.50" fill="#6aa84f"/>
<line x1="283.20" y1="104.82" x2="284.60" y2="104.82" stroke="#444" stroke-width="0.4"/>
<text x="281.90" y="106.42" font-size="4.6" text-anchor="end" fill="#e8261e" stroke="#e8261e" stroke-width="0.14">inflammatory response</text>
<rect x="284.90" y="113.01" width="66.90" height="3.50" fill="#6aa84f"/>
<line x1="283.20" y1="114.76" x2="284.60" y2="114.76" stroke="#444" stroke-width="0.4"/>
<text x="281.90" y="116.36" font-size="4.6" text-anchor="end" fill="#111" stroke="#111" stroke-width="0.14">positive regulation of cell migration</text>
<rect x="284.60" y="125.40" width="92.20" height="100.70" fill="#fff" stroke="#5a5a5a" stroke-width="0.75"/>
<rect x="377.20" y="125.70" width="5.60" height="100.40" fill="#d9763a"/>
<text x="380.00" y="175.75" font-size="3.2" text-anchor="middle" fill="#222" transform="rotate(90 380.00 175.75)" dominant-baseline="middle">CC</text>
<rect x="284.90" y="129.35" width="32.00" height="3.50" fill="#d9763a"/>
<line x1="283.20" y1="131.10" x2="284.60" y2="131.10" stroke="#444" stroke-width="0.4"/>
<text x="281.90" y="132.70" font-size="4.6" text-anchor="end" fill="#111" stroke="#111" stroke-width="0.14">membrane raft</text>
<rect x="284.90" y="139.31" width="32.50" height="3.50" fill="#d9763a"/>
<line x1="283.20" y1="141.06" x2="284.60" y2="141.06" stroke="#444" stroke-width="0.4"/>
<text x="281.90" y="142.66" font-size="4.6" text-anchor="end" fill="#111" stroke="#111" stroke-width="0.14">Golgi apparatus</text>
<rect x="284.90" y="149.27" width="33.00" height="3.50" fill="#d9763a"/>
<line x1="283.20" y1="151.02" x2="284.60" y2="151.02" stroke="#444" stroke-width="0.4"/>
<text x="281.90" y="152.62" font-size="4.6" text-anchor="end" fill="#111" stroke="#111" stroke-width="0.14">focal adhesion</text>
<rect x="284.90" y="159.23" width="33.20" height="3.50" fill="#d9763a"/>
<line x1="283.20" y1="160.98" x2="284.60" y2="160.98" stroke="#444" stroke-width="0.4"/>
<text x="281.90" y="162.58" font-size="4.6" text-anchor="end" fill="#111" stroke="#111" stroke-width="0.14">stress fiber</text>
<rect x="284.90" y="169.19" width="41.20" height="3.50" fill="#d9763a"/>
<line x1="283.20" y1="170.94" x2="284.60" y2="170.94" stroke="#444" stroke-width="0.4"/>
<text x="281.90" y="172.54" font-size="4.6" text-anchor="end" fill="#111" stroke="#111" stroke-width="0.14">membrane</text>
<rect x="284.90" y="179.15" width="48.70" height="3.50" fill="#d9763a"/>
<line x1="283.20" y1="180.90" x2="284.60" y2="180.90" stroke="#444" stroke-width="0.4"/>
<text x="281.90" y="182.50" font-size="4.6" text-anchor="end" fill="#111" stroke="#111" stroke-width="0.14">cytosol</text>
<rect x="284.90" y="189.11" width="49.10" height="3.50" fill="#d9763a"/>
<line x1="283.20" y1="190.86" x2="284.60" y2="190.86" stroke="#444" stroke-width="0.4"/>
<text x="281.90" y="192.46" font-size="4.6" text-anchor="end" fill="#111" stroke="#111" stroke-width="0.14">plasma membrane</text>
<rect x="284.90" y="199.07" width="56.10" height="3.50" fill="#d9763a"/>
<line x1="283.20" y1="200.82" x2="284.60" y2="200.82" stroke="#444" stroke-width="0.4"/>
<text x="281.90" y="202.42" font-size="4.6" text-anchor="end" fill="#111" stroke="#111" stroke-width="0.14">external side of plasma membrane</text>
<rect x="284.90" y="209.03" width="61.30" height="3.50" fill="#d9763a"/>
<line x1="283.20" y1="210.78" x2="284.60" y2="210.78" stroke="#444" stroke-width="0.4"/>
<text x="281.90" y="212.38" font-size="4.6" text-anchor="end" fill="#111" stroke="#111" stroke-width="0.14">cell surface</text>
<rect x="284.90" y="218.99" width="77.20" height="3.50" fill="#d9763a"/>
<line x1="283.20" y1="220.74" x2="284.60" y2="220.74" stroke="#444" stroke-width="0.4"/>
<text x="281.90" y="222.34" font-size="4.6" text-anchor="end" fill="#111" stroke="#111" stroke-width="0.14">cytoplasm</text>
<rect x="284.60" y="231.60" width="92.20" height="100.30" fill="#fff" stroke="#5a5a5a" stroke-width="0.75"/>
<rect x="377.20" y="231.90" width="5.60" height="100.00" fill="#5b8fc4"/>
<text x="380.00" y="281.75" font-size="3.2" text-anchor="middle" fill="#222" transform="rotate(90 380.00 281.75)" dominant-baseline="middle">MF</text>
<rect x="284.90" y="235.55" width="22.10" height="3.50" fill="#5b8fc4"/>
<line x1="283.20" y1="237.30" x2="284.60" y2="237.30" stroke="#444" stroke-width="0.4"/>
<text x="281.90" y="238.90" font-size="4.6" text-anchor="end" fill="#111" stroke="#111" stroke-width="0.14">fibronectin binding</text>
<rect x="284.90" y="245.49" width="23.00" height="3.50" fill="#5b8fc4"/>
<line x1="283.20" y1="247.24" x2="284.60" y2="247.24" stroke="#444" stroke-width="0.4"/>
<text x="281.90" y="248.84" font-size="4.6" text-anchor="end" fill="#111" stroke="#111" stroke-width="0.14">protein tyrosine/threonine phosphatase activity</text>
<rect x="284.90" y="255.43" width="25.60" height="3.50" fill="#5b8fc4"/>
<line x1="283.20" y1="257.18" x2="284.60" y2="257.18" stroke="#444" stroke-width="0.4"/>
<text x="281.90" y="258.78" font-size="4.6" text-anchor="end" fill="#e8261e" stroke="#e8261e" stroke-width="0.14">calcium ion binding</text>
<rect x="284.90" y="265.37" width="28.00" height="3.50" fill="#5b8fc4"/>
<line x1="283.20" y1="267.12" x2="284.60" y2="267.12" stroke="#444" stroke-width="0.4"/>
<text x="281.90" y="268.72" font-size="4.6" text-anchor="end" fill="#111" stroke="#111" stroke-width="0.14">protein−containing complex binding</text>
<rect x="284.90" y="275.31" width="29.30" height="3.50" fill="#5b8fc4"/>
<line x1="283.20" y1="277.06" x2="284.60" y2="277.06" stroke="#444" stroke-width="0.4"/>
<text x="281.90" y="278.66" font-size="4.6" text-anchor="end" fill="#111" stroke="#111" stroke-width="0.14">metal ion binding</text>
<rect x="284.90" y="285.25" width="29.90" height="3.50" fill="#5b8fc4"/>
<line x1="283.20" y1="287.00" x2="284.60" y2="287.00" stroke="#444" stroke-width="0.4"/>
<text x="281.90" y="288.60" font-size="4.6" text-anchor="end" fill="#111" stroke="#111" stroke-width="0.14">cytokine activity</text>
<rect x="284.90" y="295.19" width="33.00" height="3.50" fill="#5b8fc4"/>
<line x1="283.20" y1="296.94" x2="284.60" y2="296.94" stroke="#444" stroke-width="0.4"/>
<text x="281.90" y="298.54" font-size="4.6" text-anchor="end" fill="#111" stroke="#111" stroke-width="0.14">actin binding</text>
<rect x="284.90" y="305.13" width="33.60" height="3.50" fill="#5b8fc4"/>
<line x1="283.20" y1="306.88" x2="284.60" y2="306.88" stroke="#444" stroke-width="0.4"/>
<text x="281.90" y="308.48" font-size="4.6" text-anchor="end" fill="#111" stroke="#111" stroke-width="0.14">integrin binding</text>
<rect x="284.90" y="315.07" width="60.00" height="3.50" fill="#5b8fc4"/>
<line x1="283.20" y1="316.82" x2="284.60" y2="316.82" stroke="#444" stroke-width="0.4"/>
<text x="281.90" y="318.42" font-size="4.6" text-anchor="end" fill="#111" stroke="#111" stroke-width="0.14">identical protein binding</text>
<rect x="284.90" y="325.01" width="83.70" height="3.50" fill="#5b8fc4"/>
<line x1="283.20" y1="326.76" x2="284.60" y2="326.76" stroke="#444" stroke-width="0.4"/>
<text x="281.90" y="328.36" font-size="4.6" text-anchor="end" fill="#111" stroke="#111" stroke-width="0.14">protein binding</text>
<line x1="284.80" y1="331.90" x2="284.80" y2="333.20" stroke="#444" stroke-width="0.4"/>
<text x="284.80" y="337.70" font-size="4.6" text-anchor="middle" fill="#222" stroke="#222" stroke-width="0.1">0</text>
<line x1="307.30" y1="331.90" x2="307.30" y2="333.20" stroke="#444" stroke-width="0.4"/>
<text x="307.30" y="337.70" font-size="4.6" text-anchor="middle" fill="#222" stroke="#222" stroke-width="0.1">5</text>
<line x1="329.80" y1="331.90" x2="329.80" y2="333.20" stroke="#444" stroke-width="0.4"/>
<text x="329.80" y="337.70" font-size="4.6" text-anchor="middle" fill="#222" stroke="#222" stroke-width="0.1">10</text>
<line x1="352.30" y1="331.90" x2="352.30" y2="333.20" stroke="#444" stroke-width="0.4"/>
<text x="352.30" y="337.70" font-size="4.6" text-anchor="middle" fill="#222" stroke="#222" stroke-width="0.1">15</text>
<line x1="374.80" y1="331.90" x2="374.80" y2="333.20" stroke="#444" stroke-width="0.4"/>
<text x="374.80" y="337.70" font-size="4.6" text-anchor="middle" fill="#222" stroke="#222" stroke-width="0.1">20</text>
<text x="329.20" y="342.80" font-size="4.2" text-anchor="middle" fill="#222" stroke="#222" stroke-width="0.1">−log₁₀ p−value</text>
<rect x="506.50" y="20.50" width="128.80" height="15.90" fill="#fff"/>
<line x1="514.80" y1="20.50" x2="514.80" y2="36.40" stroke="#ebebeb" stroke-width="0.5"/>
<line x1="533.10" y1="20.50" x2="533.10" y2="36.40" stroke="#f3f3f3" stroke-width="0.3"/>
<line x1="551.40" y1="20.50" x2="551.40" y2="36.40" stroke="#ebebeb" stroke-width="0.5"/>
<line x1="569.70" y1="20.50" x2="569.70" y2="36.40" stroke="#f3f3f3" stroke-width="0.3"/>
<line x1="588.00" y1="20.50" x2="588.00" y2="36.40" stroke="#ebebeb" stroke-width="0.5"/>
<line x1="606.30" y1="20.50" x2="606.30" y2="36.40" stroke="#f3f3f3" stroke-width="0.3"/>
<line x1="624.60" y1="20.50" x2="624.60" y2="36.40" stroke="#ebebeb" stroke-width="0.5"/>
<line x1="506.50" y1="28.30" x2="635.30" y2="28.30" stroke="#ebebeb" stroke-width="0.5"/>
<rect x="635.90" y="20.50" width="7.70" height="15.90" fill="#dedede"/>
<rect x="506.50" y="20.50" width="128.80" height="15.90" fill="none" stroke="#4a4a4a" stroke-width="0.85"/>
<text x="639.50" y="28.45" font-size="3.0" text-anchor="middle" fill="#333" transform="rotate(90 639.50 28.45)" dominant-baseline="middle">CellP.</text>
<line x1="505.20" y1="28.30" x2="506.50" y2="28.30" stroke="#333" stroke-width="0.4"/>
<text x="503.70" y="30.60" font-size="6.5" text-anchor="end" fill="#111" stroke="#111" stroke-width="0.13">Focal adhesion</text>
<circle cx="537.30" cy="28.30" r="2.50" fill="#eef0a6"/>
<rect x="506.50" y="44.40" width="128.80" height="85.00" fill="#fff"/>
<line x1="514.80" y1="44.40" x2="514.80" y2="129.40" stroke="#ebebeb" stroke-width="0.5"/>
<line x1="533.10" y1="44.40" x2="533.10" y2="129.40" stroke="#f3f3f3" stroke-width="0.3"/>
<line x1="551.40" y1="44.40" x2="551.40" y2="129.40" stroke="#ebebeb" stroke-width="0.5"/>
<line x1="569.70" y1="44.40" x2="569.70" y2="129.40" stroke="#f3f3f3" stroke-width="0.3"/>
<line x1="588.00" y1="44.40" x2="588.00" y2="129.40" stroke="#ebebeb" stroke-width="0.5"/>
<line x1="606.30" y1="44.40" x2="606.30" y2="129.40" stroke="#f3f3f3" stroke-width="0.3"/>
<line x1="624.60" y1="44.40" x2="624.60" y2="129.40" stroke="#ebebeb" stroke-width="0.5"/>
<line x1="506.50" y1="52.70" x2="635.30" y2="52.70" stroke="#ebebeb" stroke-width="0.5"/>
<line x1="506.50" y1="66.60" x2="635.30" y2="66.60" stroke="#ebebeb" stroke-width="0.5"/>
<line x1="506.50" y1="80.40" x2="635.30" y2="80.40" stroke="#ebebeb" stroke-width="0.5"/>
<line x1="506.50" y1="94.20" x2="635.30" y2="94.20" stroke="#ebebeb" stroke-width="0.5"/>
<line x1="506.50" y1="108.00" x2="635.30" y2="108.00" stroke="#ebebeb" stroke-width="0.5"/>
<line x1="506.50" y1="121.60" x2="635.30" y2="121.60" stroke="#ebebeb" stroke-width="0.5"/>
<rect x="635.90" y="44.40" width="7.70" height="85.00" fill="#dedede"/>
<rect x="506.50" y="44.40" width="128.80" height="85.00" fill="none" stroke="#4a4a4a" stroke-width="0.85"/>
<text x="639.50" y="86.90" font-size="3.0" text-anchor="middle" fill="#333" transform="rotate(90 639.50 86.90)" dominant-baseline="middle">EnvIP.</text>
<line x1="505.20" y1="52.70" x2="506.50" y2="52.70" stroke="#333" stroke-width="0.4"/>
<text x="503.70" y="55.00" font-size="6.5" text-anchor="end" fill="#e3241c" stroke="#e3241c" stroke-width="0.13">TNF signaling pathway</text>
<circle cx="629.40" cy="52.70" r="2.70" fill="#aa1f2e"/>
<line x1="505.20" y1="66.60" x2="506.50" y2="66.60" stroke="#333" stroke-width="0.4"/>
<text x="503.70" y="68.90" font-size="6.5" text-anchor="end" fill="#e3241c" stroke="#e3241c" stroke-width="0.13">NF−kappa B signaling pathway</text>
<circle cx="580.50" cy="66.60" r="2.20" fill="#b0222f"/>
<line x1="505.20" y1="80.40" x2="506.50" y2="80.40" stroke="#333" stroke-width="0.4"/>
<text x="503.70" y="79.20" font-size="6.5" text-anchor="end" fill="#111" stroke="#111" stroke-width="0.13">Viral protein interaction with cytokine</text>
<text x="503.70" y="86.20" font-size="6.5" text-anchor="end" fill="#111" stroke="#111" stroke-width="0.13">and cytokine receptor</text>
<circle cx="578.90" cy="80.40" r="1.90" fill="#c0272f"/>
<line x1="505.20" y1="94.20" x2="506.50" y2="94.20" stroke="#333" stroke-width="0.4"/>
<text x="503.70" y="96.50" font-size="6.5" text-anchor="end" fill="#e3241c" stroke="#e3241c" stroke-width="0.13">HIF−1 signaling pathway</text>
<circle cx="576.20" cy="94.20" r="2.20" fill="#b5232f"/>
<line x1="505.20" y1="108.00" x2="506.50" y2="108.00" stroke="#333" stroke-width="0.4"/>
<text x="503.70" y="110.30" font-size="6.5" text-anchor="end" fill="#111" stroke="#111" stroke-width="0.13">Cytokine−cytokine receptor interaction</text>
<circle cx="545.40" cy="108.00" r="3.50" fill="#a81e2d"/>
<line x1="505.20" y1="121.60" x2="506.50" y2="121.60" stroke="#333" stroke-width="0.4"/>
<text x="503.70" y="123.90" font-size="6.5" text-anchor="end" fill="#e3241c" stroke="#e3241c" stroke-width="0.13">JAK−STAT signaling pathway</text>
<circle cx="540.80" cy="121.60" r="2.50" fill="#2f3d9c"/>
<rect x="506.50" y="138.40" width="128.80" height="126.50" fill="#fff"/>
<line x1="514.80" y1="138.40" x2="514.80" y2="264.90" stroke="#ebebeb" stroke-width="0.5"/>
<line x1="533.10" y1="138.40" x2="533.10" y2="264.90" stroke="#f3f3f3" stroke-width="0.3"/>
<line x1="551.40" y1="138.40" x2="551.40" y2="264.90" stroke="#ebebeb" stroke-width="0.5"/>
<line x1="569.70" y1="138.40" x2="569.70" y2="264.90" stroke="#f3f3f3" stroke-width="0.3"/>
<line x1="588.00" y1="138.40" x2="588.00" y2="264.90" stroke="#ebebeb" stroke-width="0.5"/>
<line x1="606.30" y1="138.40" x2="606.30" y2="264.90" stroke="#f3f3f3" stroke-width="0.3"/>
<line x1="624.60" y1="138.40" x2="624.60" y2="264.90" stroke="#ebebeb" stroke-width="0.5"/>
<line x1="506.50" y1="146.30" x2="635.30" y2="146.30" stroke="#ebebeb" stroke-width="0.5"/>
<line x1="506.50" y1="160.11" x2="635.30" y2="160.11" stroke="#ebebeb" stroke-width="0.5"/>
<line x1="506.50" y1="173.92" x2="635.30" y2="173.92" stroke="#ebebeb" stroke-width="0.5"/>
<line x1="506.50" y1="187.73" x2="635.30" y2="187.73" stroke="#ebebeb" stroke-width="0.5"/>
<line x1="506.50" y1="201.54" x2="635.30" y2="201.54" stroke="#ebebeb" stroke-width="0.5"/>
<line x1="506.50" y1="215.35" x2="635.30" y2="215.35" stroke="#ebebeb" stroke-width="0.5"/>
<line x1="506.50" y1="229.16" x2="635.30" y2="229.16" stroke="#ebebeb" stroke-width="0.5"/>
<line x1="506.50" y1="242.97" x2="635.30" y2="242.97" stroke="#ebebeb" stroke-width="0.5"/>
<line x1="506.50" y1="256.78" x2="635.30" y2="256.78" stroke="#ebebeb" stroke-width="0.5"/>
<rect x="635.90" y="138.40" width="7.70" height="126.50" fill="#dedede"/>
<rect x="506.50" y="138.40" width="128.80" height="126.50" fill="none" stroke="#4a4a4a" stroke-width="0.85"/>
<text x="639.50" y="201.65" font-size="3.0" text-anchor="middle" fill="#333" transform="rotate(90 639.50 201.65)" dominant-baseline="middle">HumanD.</text>
<line x1="505.20" y1="146.30" x2="506.50" y2="146.30" stroke="#333" stroke-width="0.4"/>
<text x="503.70" y="148.60" font-size="6.5" text-anchor="end" fill="#111" stroke="#111" stroke-width="0.13">Malaria</text>
<circle cx="625.00" cy="146.30" r="1.50" fill="#b8232f"/>
<line x1="505.20" y1="160.11" x2="506.50" y2="160.11" stroke="#333" stroke-width="0.4"/>
<text x="503.70" y="162.41" font-size="6.5" text-anchor="end" fill="#111" stroke="#111" stroke-width="0.13">Rheumatoid arthritis</text>
<circle cx="619.10" cy="160.11" r="2.20" fill="#b0222f"/>
<line x1="505.20" y1="173.92" x2="506.50" y2="173.92" stroke="#333" stroke-width="0.4"/>
<text x="503.70" y="176.22" font-size="6.5" text-anchor="end" fill="#111" stroke="#111" stroke-width="0.13">Leishmaniasis</text>
<circle cx="588.00" cy="173.92" r="1.60" fill="#f2cf7c"/>
<line x1="505.20" y1="187.73" x2="506.50" y2="187.73" stroke="#333" stroke-width="0.4"/>
<text x="503.70" y="190.03" font-size="6.5" text-anchor="end" fill="#111" stroke="#111" stroke-width="0.13">Fluid shear stress and atherosclerosis</text>
<circle cx="574.50" cy="187.73" r="2.50" fill="#ab1f2e"/>
<line x1="505.20" y1="201.54" x2="506.50" y2="201.54" stroke="#333" stroke-width="0.4"/>
<text x="503.70" y="201.14" font-size="6.5" text-anchor="end" fill="#111" stroke="#111" stroke-width="0.13">AGE−RAGE signaling pathway in</text>
<text x="503.70" y="206.54" font-size="6.5" text-anchor="end" fill="#111" stroke="#111" stroke-width="0.13">diabetic complications</text>
<circle cx="566.70" cy="201.54" r="2.00" fill="#f3d882"/>
<line x1="505.20" y1="215.35" x2="506.50" y2="215.35" stroke="#333" stroke-width="0.4"/>
<text x="503.70" y="217.65" font-size="6.5" text-anchor="end" fill="#111" stroke="#111" stroke-width="0.13">MicroRNAs in cancer</text>
<circle cx="551.30" cy="215.35" r="2.50" fill="#d73a2a"/>
<line x1="505.20" y1="229.16" x2="506.50" y2="229.16" stroke="#333" stroke-width="0.4"/>
<text x="503.70" y="231.46" font-size="6.5" text-anchor="end" fill="#111" stroke="#111" stroke-width="0.13">Lipid and atherosclerosis</text>
<circle cx="544.30" cy="229.16" r="2.80" fill="#b2202f"/>
<line x1="505.20" y1="242.97" x2="506.50" y2="242.97" stroke="#333" stroke-width="0.4"/>
<text x="503.70" y="245.27" font-size="6.5" text-anchor="end" fill="#111" stroke="#111" stroke-width="0.13">Tuberculosis</text>
<circle cx="543.20" cy="242.97" r="2.50" fill="#ec9a55"/>
<line x1="505.20" y1="256.78" x2="506.50" y2="256.78" stroke="#333" stroke-width="0.4"/>
<text x="503.70" y="259.08" font-size="6.5" text-anchor="end" fill="#111" stroke="#111" stroke-width="0.13">Pathways in cancer</text>
<circle cx="512.20" cy="256.78" r="3.50" fill="#dff0f0"/>
<rect x="506.50" y="273.30" width="128.80" height="57.00" fill="#fff"/>
<line x1="514.80" y1="273.30" x2="514.80" y2="330.30" stroke="#ebebeb" stroke-width="0.5"/>
<line x1="533.10" y1="273.30" x2="533.10" y2="330.30" stroke="#f3f3f3" stroke-width="0.3"/>
<line x1="551.40" y1="273.30" x2="551.40" y2="330.30" stroke="#ebebeb" stroke-width="0.5"/>
<line x1="569.70" y1="273.30" x2="569.70" y2="330.30" stroke="#f3f3f3" stroke-width="0.3"/>
<line x1="588.00" y1="273.30" x2="588.00" y2="330.30" stroke="#ebebeb" stroke-width="0.5"/>
<line x1="606.30" y1="273.30" x2="606.30" y2="330.30" stroke="#f3f3f3" stroke-width="0.3"/>
<line x1="624.60" y1="273.30" x2="624.60" y2="330.30" stroke="#ebebeb" stroke-width="0.5"/>
<line x1="506.50" y1="281.00" x2="635.30" y2="281.00" stroke="#ebebeb" stroke-width="0.5"/>
<line x1="506.50" y1="294.90" x2="635.30" y2="294.90" stroke="#ebebeb" stroke-width="0.5"/>
<line x1="506.50" y1="308.80" x2="635.30" y2="308.80" stroke="#ebebeb" stroke-width="0.5"/>
<line x1="506.50" y1="322.60" x2="635.30" y2="322.60" stroke="#ebebeb" stroke-width="0.5"/>
<rect x="635.90" y="273.30" width="7.70" height="57.00" fill="#dedede"/>
<rect x="506.50" y="273.30" width="128.80" height="57.00" fill="none" stroke="#4a4a4a" stroke-width="0.85"/>
<text x="639.50" y="301.80" font-size="3.0" text-anchor="middle" fill="#333" transform="rotate(90 639.50 301.80)" dominant-baseline="middle">OrgaS.</text>
<line x1="505.20" y1="281.00" x2="506.50" y2="281.00" stroke="#333" stroke-width="0.4"/>
<text x="503.70" y="280.60" font-size="6.5" text-anchor="end" fill="#111" stroke="#111" stroke-width="0.13">Intestinal immune network for IgA</text>
<text x="503.70" y="286.00" font-size="6.5" text-anchor="end" fill="#111" stroke="#111" stroke-width="0.13">production</text>
<circle cx="618.20" cy="281.00" r="0.80" fill="#6a9fd4"/>
<line x1="505.20" y1="294.90" x2="506.50" y2="294.90" stroke="#333" stroke-width="0.4"/>
<text x="503.70" y="297.20" font-size="6.5" text-anchor="end" fill="#111" stroke="#111" stroke-width="0.13">IL−17 signaling pathway</text>
<circle cx="592.00" cy="294.90" r="2.50" fill="#ab1f2e"/>
<line x1="505.20" y1="308.80" x2="506.50" y2="308.80" stroke="#333" stroke-width="0.4"/>
<text x="503.70" y="311.10" font-size="6.5" text-anchor="end" fill="#111" stroke="#111" stroke-width="0.13">C−type lectin receptor signaling  pathway</text>
<circle cx="574.40" cy="308.80" r="2.70" fill="#b0202f"/>
<line x1="505.20" y1="322.60" x2="506.50" y2="322.60" stroke="#333" stroke-width="0.4"/>
<text x="503.70" y="324.90" font-size="6.5" text-anchor="end" fill="#111" stroke="#111" stroke-width="0.13">Hematopoietic cell lineage</text>
<circle cx="571.20" cy="322.60" r="2.20" fill="#f1da8a"/>
<line x1="514.80" y1="330.30" x2="514.80" y2="331.80" stroke="#333" stroke-width="0.4"/>
<text x="514.80" y="338.50" font-size="6.3" text-anchor="middle" fill="#333" stroke="#333" stroke-width="0.1">1.5</text>
<line x1="551.40" y1="330.30" x2="551.40" y2="331.80" stroke="#333" stroke-width="0.4"/>
<text x="551.40" y="338.50" font-size="6.3" text-anchor="middle" fill="#333" stroke="#333" stroke-width="0.1">2.0</text>
<line x1="588.00" y1="330.30" x2="588.00" y2="331.80" stroke="#333" stroke-width="0.4"/>
<text x="588.00" y="338.50" font-size="6.3" text-anchor="middle" fill="#333" stroke="#333" stroke-width="0.1">2.5</text>
<line x1="624.60" y1="330.30" x2="624.60" y2="331.80" stroke="#333" stroke-width="0.4"/>
<text x="624.60" y="338.50" font-size="6.3" text-anchor="middle" fill="#333" stroke="#333" stroke-width="0.1">3.0</text>
<text x="569.60" y="345.60" font-size="6.5" text-anchor="middle" fill="#111" stroke="#111" stroke-width="0.1">Enrichment Score</text>
<text x="652.60" y="120.20" font-size="6.4" fill="#111" stroke="#111" stroke-width="0.1">Number</text>
<circle cx="657.00" cy="127.70" r="1.10" fill="#111"/>
<text x="664.70" y="129.50" font-size="5.0" fill="#222" stroke="#222" stroke-width="0.08">20</text>
<circle cx="657.00" cy="137.20" r="1.90" fill="#111"/>
<text x="664.70" y="139.00" font-size="5.0" fill="#222" stroke="#222" stroke-width="0.08">40</text>
<circle cx="657.00" cy="146.30" r="2.60" fill="#111"/>
<text x="664.70" y="148.10" font-size="5.0" fill="#222" stroke="#222" stroke-width="0.08">60</text>
<circle cx="657.00" cy="155.50" r="3.10" fill="#111"/>
<text x="664.70" y="157.30" font-size="5.0" fill="#222" stroke="#222" stroke-width="0.08">80</text>
<circle cx="657.00" cy="165.10" r="3.70" fill="#111"/>
<text x="664.70" y="166.90" font-size="5.0" fill="#222" stroke="#222" stroke-width="0.08">100</text>
<text x="652.60" y="186.60" font-size="6.3" fill="#111" stroke="#111" stroke-width="0.1">pvalue</text>
<defs><linearGradient id="cbD" x1="0" y1="0" x2="0" y2="1"><stop offset="0" stop-color="#313695"/><stop offset="0.2" stop-color="#6f9cc9"/><stop offset="0.38" stop-color="#dcf0f2"/><stop offset="0.55" stop-color="#fae79a"/><stop offset="0.72" stop-color="#f39b55"/><stop offset="0.87" stop-color="#d9332a"/><stop offset="1" stop-color="#b01f2c"/></linearGradient></defs>
<rect x="652.50" y="190.20" width="9.30" height="46.20" fill="url(#cbD)"/>
<text x="664.90" y="200.70" font-size="4.6" fill="#222" stroke="#222" stroke-width="0.08">2.0e−05</text>
<text x="664.90" y="209.60" font-size="4.6" fill="#222" stroke="#222" stroke-width="0.08">1.5e−05</text>
<text x="664.90" y="219.10" font-size="4.6" fill="#222" stroke="#222" stroke-width="0.08">1.0e−05</text>
<text x="664.90" y="228.60" font-size="4.6" fill="#222" stroke="#222" stroke-width="0.08">5.0e−06</text>
<rect x="35.20" y="378.10" width="31.13" height="29.96" fill="#96b9d2"/>
<rect x="65.62" y="378.10" width="31.13" height="29.96" fill="#7aa0c6"/>
<rect x="96.05" y="378.10" width="31.13" height="29.96" fill="#85aaca"/>
<rect x="126.48" y="378.10" width="31.13" height="29.96" fill="#7ba0c6"/>
<rect x="156.90" y="378.10" width="31.13" height="29.96" fill="#91b4d2"/>
<rect x="187.33" y="378.10" width="31.13" height="29.96" fill="#e29664"/>
<rect x="217.75" y="378.10" width="31.13" height="29.96" fill="#ecd2a5"/>
<rect x="248.18" y="378.10" width="30.43" height="29.96" fill="#e09864"/>
<text x="280.60" y="395.13" font-size="7.4" fill="#111" stroke="#111" stroke-width="0.12">Atf6</text>
<rect x="35.20" y="407.36" width="31.13" height="29.96" fill="#527cb2"/>
<rect x="65.62" y="407.36" width="31.13" height="29.96" fill="#f0f3e4"/>
<rect x="96.05" y="407.36" width="31.13" height="29.96" fill="#d7e9f0"/>
<rect x="126.48" y="407.36" width="31.13" height="29.96" fill="#d7e9f0"/>
<rect x="156.90" y="407.36" width="31.13" height="29.96" fill="#527cb2"/>
<rect x="187.33" y="407.36" width="31.13" height="29.96" fill="#da7d55"/>
<rect x="217.75" y="407.36" width="31.13" height="29.96" fill="#ebd4a5"/>
<rect x="248.18" y="407.36" width="30.43" height="29.96" fill="#eedeb9"/>
<text x="280.60" y="424.39" font-size="7.4" fill="#111" stroke="#111" stroke-width="0.12">Ern1</text>
<rect x="35.20" y="436.62" width="31.13" height="29.96" fill="#ebdab2"/>
<rect x="65.62" y="436.62" width="31.13" height="29.96" fill="#ecd4a5"/>
<rect x="96.05" y="436.62" width="31.13" height="29.96" fill="#e9d8ac"/>
<rect x="126.48" y="436.62" width="31.13" height="29.96" fill="#ecdeb7"/>
<rect x="156.90" y="436.62" width="31.13" height="29.96" fill="#5076af"/>
<rect x="187.33" y="436.62" width="31.13" height="29.96" fill="#e4f2f8"/>
<rect x="217.75" y="436.62" width="31.13" height="29.96" fill="#8aaacd"/>
<rect x="248.18" y="436.62" width="30.43" height="29.96" fill="#f0f0de"/>
<text x="280.60" y="453.65" font-size="7.4" fill="#111" stroke="#111" stroke-width="0.12">Eif2s1</text>
<rect x="35.20" y="465.88" width="31.13" height="29.96" fill="#ecdcb6"/>
<rect x="65.62" y="465.88" width="31.13" height="29.96" fill="#f0f8f4"/>
<rect x="96.05" y="465.88" width="31.13" height="29.96" fill="#e9cb96"/>
<rect x="126.48" y="465.88" width="31.13" height="29.96" fill="#ebd7a5"/>
<rect x="156.90" y="465.88" width="31.13" height="29.96" fill="#5076af"/>
<rect x="187.33" y="465.88" width="31.13" height="29.96" fill="#bed4e4"/>
<rect x="217.75" y="465.88" width="31.13" height="29.96" fill="#dff0f5"/>
<rect x="248.18" y="465.88" width="30.43" height="29.96" fill="#f0f0de"/>
<text x="280.60" y="482.90" font-size="7.4" fill="#111" stroke="#111" stroke-width="0.12">Itpr1</text>
<rect x="35.20" y="495.13" width="31.13" height="29.96" fill="#ebd09b"/>
<rect x="65.62" y="495.13" width="31.13" height="29.96" fill="#ecd7a5"/>
<rect x="96.05" y="495.13" width="31.13" height="29.96" fill="#e9c487"/>
<rect x="126.48" y="495.13" width="31.13" height="29.96" fill="#e8c285"/>
<rect x="156.90" y="495.13" width="31.13" height="29.96" fill="#6c96c0"/>
<rect x="187.33" y="495.13" width="31.13" height="29.96" fill="#7098c3"/>
<rect x="217.75" y="495.13" width="31.13" height="29.96" fill="#6e96c1"/>
<rect x="248.18" y="495.13" width="30.43" height="29.96" fill="#5882b4"/>
<text x="280.60" y="512.16" font-size="7.4" fill="#111" stroke="#111" stroke-width="0.12">Rnf183</text>
<rect x="35.20" y="524.39" width="31.13" height="29.96" fill="#e9c88c"/>
<rect x="65.62" y="524.39" width="31.13" height="29.96" fill="#e8c080"/>
<rect x="96.05" y="524.39" width="31.13" height="29.96" fill="#ebd29e"/>
<rect x="126.48" y="524.39" width="31.13" height="29.96" fill="#ecd5a3"/>
<rect x="156.90" y="524.39" width="31.13" height="29.96" fill="#6e98c3"/>
<rect x="187.33" y="524.39" width="31.13" height="29.96" fill="#7aa0c8"/>
<rect x="217.75" y="524.39" width="31.13" height="29.96" fill="#527ab2"/>
<rect x="248.18" y="524.39" width="30.43" height="29.96" fill="#648ebc"/>
<text x="280.60" y="541.42" font-size="7.4" fill="#111" stroke="#111" stroke-width="0.12">Pla2g6</text>
<rect x="35.20" y="553.65" width="31.13" height="29.96" fill="#e9ca91"/>
<rect x="65.62" y="553.65" width="31.13" height="29.96" fill="#e9cc94"/>
<rect x="96.05" y="553.65" width="31.13" height="29.96" fill="#ebd5a2"/>
<rect x="126.48" y="553.65" width="31.13" height="29.96" fill="#e9c88e"/>
<rect x="156.90" y="553.65" width="31.13" height="29.96" fill="#6c96c0"/>
<rect x="187.33" y="553.65" width="31.13" height="29.96" fill="#5f89b9"/>
<rect x="217.75" y="553.65" width="31.13" height="29.96" fill="#668fbc"/>
<rect x="248.18" y="553.65" width="30.43" height="29.96" fill="#668fbc"/>
<text x="280.60" y="570.68" font-size="7.4" fill="#111" stroke="#111" stroke-width="0.12">Cxcl2</text>
<rect x="35.20" y="582.91" width="31.13" height="29.96" fill="#e8c384"/>
<rect x="65.62" y="582.91" width="31.13" height="29.96" fill="#e8c384"/>
<rect x="96.05" y="582.91" width="31.13" height="29.96" fill="#ecd7a5"/>
<rect x="126.48" y="582.91" width="31.13" height="29.96" fill="#ecd7a5"/>
<rect x="156.90" y="582.91" width="31.13" height="29.96" fill="#6993be"/>
<rect x="187.33" y="582.91" width="31.13" height="29.96" fill="#6993be"/>
<rect x="217.75" y="582.91" width="31.13" height="29.96" fill="#668fbc"/>
<rect x="248.18" y="582.91" width="30.43" height="29.96" fill="#668fbc"/>
<text x="280.60" y="599.94" font-size="7.4" fill="#111" stroke="#111" stroke-width="0.12">Cxcl3</text>
<rect x="35.20" y="612.17" width="31.13" height="29.96" fill="#ecdeb6"/>
<rect x="65.62" y="612.17" width="31.13" height="29.96" fill="#eeead0"/>
<rect x="96.05" y="612.17" width="31.13" height="29.96" fill="#ebd4a0"/>
<rect x="126.48" y="612.17" width="31.13" height="29.96" fill="#d77850"/>
<rect x="156.90" y="612.17" width="31.13" height="29.96" fill="#7098c3"/>
<rect x="187.33" y="612.17" width="31.13" height="29.96" fill="#5580b4"/>
<rect x="217.75" y="612.17" width="31.13" height="29.96" fill="#91b2d0"/>
<rect x="248.18" y="612.17" width="30.43" height="29.96" fill="#6993be"/>
<text x="280.60" y="629.20" font-size="7.4" fill="#111" stroke="#111" stroke-width="0.12">Ddit3</text>
<rect x="35.20" y="641.43" width="31.13" height="29.96" fill="#ebd5a5"/>
<rect x="65.62" y="641.43" width="31.13" height="29.96" fill="#ecdcb2"/>
<rect x="96.05" y="641.43" width="31.13" height="29.96" fill="#ebd5a2"/>
<rect x="126.48" y="641.43" width="31.13" height="29.96" fill="#e0a86e"/>
<rect x="156.90" y="641.43" width="31.13" height="29.96" fill="#4e78af"/>
<rect x="187.33" y="641.43" width="31.13" height="29.96" fill="#89aacd"/>
<rect x="217.75" y="641.43" width="31.13" height="29.96" fill="#8eb0ce"/>
<rect x="248.18" y="641.43" width="30.43" height="29.96" fill="#a8c6dc"/>
<text x="280.60" y="658.45" font-size="7.4" fill="#111" stroke="#111" stroke-width="0.12">Hspa5</text>
<rect x="279.70" y="649.45" width="23.00" height="11.30" fill="none" stroke="#e23a3a" stroke-width="0.7" stroke-dasharray="1.4,1.0"/>
<rect x="35.20" y="670.68" width="31.13" height="29.96" fill="#e9c88c"/>
<rect x="65.62" y="670.68" width="31.13" height="29.96" fill="#eacd96"/>
<rect x="96.05" y="670.68" width="31.13" height="29.96" fill="#eddcaf"/>
<rect x="126.48" y="670.68" width="31.13" height="29.96" fill="#eac88c"/>
<rect x="156.90" y="670.68" width="31.13" height="29.96" fill="#4e78af"/>
<rect x="187.33" y="670.68" width="31.13" height="29.96" fill="#7098c3"/>
<rect x="217.75" y="670.68" width="31.13" height="29.96" fill="#7098c3"/>
<rect x="248.18" y="670.68" width="30.43" height="29.96" fill="#6993be"/>
<text x="280.60" y="687.71" font-size="7.4" fill="#111" stroke="#111" stroke-width="0.12">Ero1α</text>
<rect x="279.70" y="678.71" width="23.00" height="11.30" fill="none" stroke="#e23a3a" stroke-width="0.7" stroke-dasharray="1.4,1.0"/>
<rect x="35.20" y="699.94" width="31.13" height="29.26" fill="#e9cb91"/>
<rect x="65.62" y="699.94" width="31.13" height="29.26" fill="#e9cd96"/>
<rect x="96.05" y="699.94" width="31.13" height="29.26" fill="#ebd5a0"/>
<rect x="126.48" y="699.94" width="31.13" height="29.26" fill="#ebd29e"/>
<rect x="156.90" y="699.94" width="31.13" height="29.26" fill="#4e78af"/>
<rect x="187.33" y="699.94" width="31.13" height="29.26" fill="#739bc5"/>
<rect x="217.75" y="699.94" width="31.13" height="29.26" fill="#80a4ca"/>
<rect x="248.18" y="699.94" width="30.43" height="29.26" fill="#a5c4dc"/>
<text x="280.60" y="716.97" font-size="7.4" fill="#111" stroke="#111" stroke-width="0.12">Lrrk2</text>
<defs><linearGradient id="cbE" x1="0" y1="0" x2="0" y2="1"><stop offset="0" stop-color="#d23f38"/><stop offset="0.18" stop-color="#de8a5e"/><stop offset="0.29" stop-color="#e8c383"/><stop offset="0.42" stop-color="#f1ebd1"/><stop offset="0.52" stop-color="#eef7f7"/><stop offset="0.63" stop-color="#a8c5de"/><stop offset="0.76" stop-color="#5f8dc2"/><stop offset="1" stop-color="#4971ad"/></linearGradient></defs>
<rect x="308.80" y="378.30" width="7.40" height="109.80" fill="url(#cbE)"/>
<text x="318.80" y="385.40" font-size="5.2" fill="#222" stroke="#222" stroke-width="0.08">2</text>
<text x="318.80" y="410.20" font-size="5.2" fill="#222" stroke="#222" stroke-width="0.08">1</text>
<text x="318.80" y="435.10" font-size="5.2" fill="#222" stroke="#222" stroke-width="0.08">0</text>
<text x="318.80" y="459.80" font-size="5.2" fill="#222" stroke="#222" stroke-width="0.08">-1</text>
<text x="318.80" y="484.60" font-size="5.2" fill="#222" stroke="#222" stroke-width="0.08">-2</text>
<text x="92.60" y="748.30" font-size="8.6" font-weight="bold" fill="#222">LPS</text>
<text x="153.60" y="748.30" font-size="8.0" font-weight="bold" fill="#222">vs</text>
<text x="202.30" y="748.30" font-size="8.8" font-weight="bold" fill="#222">Control</text>
<line x1="428.50" y1="381.20" x2="648.30" y2="381.20" stroke="#222" stroke-width="0.9"/>
<line x1="648.30" y1="381.20" x2="648.30" y2="527.40" stroke="#222" stroke-width="0.9"/>
<line x1="428.05" y1="527.40" x2="648.75" y2="527.40" stroke="#222" stroke-width="0.9"/>
<line x1="428.50" y1="380.75" x2="428.50" y2="448.80" stroke="#222" stroke-width="0.9"/>
<line x1="428.50" y1="460.20" x2="428.50" y2="527.40" stroke="#222" stroke-width="0.9"/>
<line x1="425.20" y1="446.10" x2="432.00" y2="452.70" stroke="#222" stroke-width="0.85"/>
<line x1="425.20" y1="456.10" x2="432.00" y2="462.70" stroke="#222" stroke-width="0.85"/>
<line x1="422.80" y1="382.20" x2="428.50" y2="382.20" stroke="#222" stroke-width="0.9"/>
<text x="410.10" y="385.45" font-size="9" font-weight="bold" text-anchor="middle" fill="#1a1a1a">1000</text>
<line x1="422.80" y1="399.00" x2="428.50" y2="399.00" stroke="#222" stroke-width="0.9"/>
<text x="410.10" y="402.25" font-size="9" font-weight="bold" text-anchor="middle" fill="#1a1a1a">800</text>
<line x1="422.80" y1="415.80" x2="428.50" y2="415.80" stroke="#222" stroke-width="0.9"/>
<text x="410.10" y="419.05" font-size="9" font-weight="bold" text-anchor="middle" fill="#1a1a1a">600</text>
<line x1="422.80" y1="432.50" x2="428.50" y2="432.50" stroke="#222" stroke-width="0.9"/>
<text x="410.10" y="435.75" font-size="9" font-weight="bold" text-anchor="middle" fill="#1a1a1a">400</text>
<text x="410.10" y="452.55" font-size="9" font-weight="bold" text-anchor="middle" fill="#1a1a1a">200</text>
<text x="410.10" y="463.15" font-size="9" font-weight="bold" text-anchor="middle" fill="#1a1a1a">15</text>
<line x1="422.80" y1="482.40" x2="428.50" y2="482.40" stroke="#222" stroke-width="0.9"/>
<text x="410.10" y="485.65" font-size="9" font-weight="bold" text-anchor="middle" fill="#1a1a1a">10</text>
<line x1="422.80" y1="504.90" x2="428.50" y2="504.90" stroke="#222" stroke-width="0.9"/>
<text x="410.10" y="508.15" font-size="9" font-weight="bold" text-anchor="middle" fill="#1a1a1a">5</text>
<line x1="422.80" y1="527.40" x2="428.50" y2="527.40" stroke="#222" stroke-width="0.9"/>
<text x="410.10" y="530.65" font-size="9" font-weight="bold" text-anchor="middle" fill="#1a1a1a">0</text>
<rect x="435.20" y="522.90" width="13.60" height="4.50" fill="#f7e0bf" stroke="#333" stroke-width="0.7"/>
<circle cx="437.00" cy="522.70" r="1.30" fill="#111"/>
<circle cx="442.00" cy="522.00" r="1.30" fill="#111"/>
<circle cx="447.00" cy="522.60" r="1.30" fill="#111"/>
<rect x="456.10" y="495.45" width="13.50" height="31.95" fill="#b6b5de" stroke="#333" stroke-width="0.7"/>
<line x1="462.85" y1="492.00" x2="462.85" y2="499.10" stroke="#111" stroke-width="0.9"/>
<line x1="460.15" y1="492.00" x2="465.55" y2="492.00" stroke="#111" stroke-width="0.9"/>
<line x1="460.15" y1="499.10" x2="465.55" y2="499.10" stroke="#111" stroke-width="0.9"/>
<circle cx="459.60" cy="492.00" r="1.30" fill="#111"/>
<circle cx="465.80" cy="494.70" r="1.30" fill="#111"/>
<circle cx="462.70" cy="498.80" r="1.30" fill="#111"/>
<rect x="476.50" y="506.25" width="13.60" height="21.15" fill="#c6ddf1" stroke="#333" stroke-width="0.7"/>
<line x1="483.30" y1="501.90" x2="483.30" y2="510.00" stroke="#111" stroke-width="0.9"/>
<line x1="480.60" y1="501.90" x2="486.00" y2="501.90" stroke="#111" stroke-width="0.9"/>
<line x1="480.60" y1="510.00" x2="486.00" y2="510.00" stroke="#111" stroke-width="0.9"/>
<circle cx="480.00" cy="503.00" r="1.30" fill="#111"/>
<circle cx="486.00" cy="505.40" r="1.30" fill="#111"/>
<circle cx="483.30" cy="509.60" r="1.30" fill="#111"/>
<rect x="510.80" y="522.90" width="14.00" height="4.50" fill="#f7e0bf" stroke="#333" stroke-width="0.7"/>
<circle cx="512.80" cy="522.70" r="1.30" fill="#111"/>
<circle cx="517.80" cy="522.00" r="1.30" fill="#111"/>
<circle cx="522.80" cy="522.60" r="1.30" fill="#111"/>
<rect x="531.60" y="420.74" width="13.50" height="106.66" fill="#b6b5de" stroke="#333" stroke-width="0.7"/>
<rect x="530.60" y="448.90" width="15.50" height="11.00" fill="#fff"/>
<line x1="538.35" y1="414.60" x2="538.35" y2="425.40" stroke="#111" stroke-width="0.9"/>
<line x1="535.65" y1="414.60" x2="541.05" y2="414.60" stroke="#111" stroke-width="0.9"/>
<line x1="535.65" y1="425.40" x2="541.05" y2="425.40" stroke="#111" stroke-width="0.9"/>
<circle cx="538.30" cy="415.50" r="1.30" fill="#111"/>
<circle cx="538.30" cy="420.20" r="1.30" fill="#111"/>
<circle cx="538.30" cy="424.80" r="1.30" fill="#111"/>
<rect x="552.10" y="435.86" width="13.50" height="91.54" fill="#c6ddf1" stroke="#333" stroke-width="0.7"/>
<rect x="551.10" y="448.90" width="15.50" height="11.00" fill="#fff"/>
<line x1="558.85" y1="430.00" x2="558.85" y2="440.20" stroke="#111" stroke-width="0.9"/>
<line x1="556.15" y1="430.00" x2="561.55" y2="430.00" stroke="#111" stroke-width="0.9"/>
<line x1="556.15" y1="440.20" x2="561.55" y2="440.20" stroke="#111" stroke-width="0.9"/>
<circle cx="558.90" cy="431.00" r="1.30" fill="#111"/>
<circle cx="558.90" cy="438.00" r="1.30" fill="#111"/>
<circle cx="558.90" cy="436.00" r="1.30" fill="#111"/>
<rect x="586.40" y="522.90" width="13.50" height="4.50" fill="#f7e0bf" stroke="#333" stroke-width="0.7"/>
<circle cx="588.20" cy="522.70" r="1.30" fill="#111"/>
<circle cx="593.20" cy="522.00" r="1.30" fill="#111"/>
<circle cx="598.20" cy="522.60" r="1.30" fill="#111"/>
<rect x="607.50" y="480.15" width="13.20" height="47.25" fill="#b6b5de" stroke="#333" stroke-width="0.7"/>
<line x1="614.10" y1="470.50" x2="614.10" y2="488.80" stroke="#111" stroke-width="0.9"/>
<line x1="611.40" y1="470.50" x2="616.80" y2="470.50" stroke="#111" stroke-width="0.9"/>
<line x1="611.40" y1="488.80" x2="616.80" y2="488.80" stroke="#111" stroke-width="0.9"/>
<circle cx="614.10" cy="471.50" r="1.30" fill="#111"/>
<circle cx="614.10" cy="481.50" r="1.30" fill="#111"/>
<circle cx="614.10" cy="488.00" r="1.30" fill="#111"/>
<rect x="627.70" y="507.15" width="13.30" height="20.25" fill="#c6ddf1" stroke="#333" stroke-width="0.7"/>
<line x1="634.35" y1="501.50" x2="634.35" y2="513.10" stroke="#111" stroke-width="0.9"/>
<line x1="631.65" y1="501.50" x2="637.05" y2="501.50" stroke="#111" stroke-width="0.9"/>
<line x1="631.65" y1="513.10" x2="637.05" y2="513.10" stroke="#111" stroke-width="0.9"/>
<circle cx="634.40" cy="502.50" r="1.30" fill="#111"/>
<circle cx="634.40" cy="507.00" r="1.30" fill="#111"/>
<circle cx="634.40" cy="512.00" r="1.30" fill="#111"/>
<text x="440.60" y="471.50" font-size="5.2" font-weight="bold" fill="#222">p &lt; 0.0001</text>
<line x1="444.10" y1="475.30" x2="462.80" y2="475.30" stroke="#555" stroke-width="0.55"/>
<text x="460.00" y="483.30" font-size="5.2" font-weight="bold" fill="#222">p = 0.0100</text>
<line x1="462.80" y1="486.40" x2="482.00" y2="486.40" stroke="#555" stroke-width="0.55"/>
<text x="514.00" y="395.20" font-size="5.2" font-weight="bold" fill="#222">p &lt; 0.0001</text>
<line x1="517.60" y1="398.10" x2="538.30" y2="398.10" stroke="#555" stroke-width="0.55"/>
<text x="535.10" y="406.80" font-size="5.2" font-weight="bold" fill="#222">p = 0.0068</text>
<line x1="538.30" y1="409.70" x2="558.90" y2="409.70" stroke="#555" stroke-width="0.55"/>
<text x="591.00" y="449.20" font-size="5.2" font-weight="bold" fill="#222">p = 0.0004</text>
<line x1="594.50" y1="451.60" x2="613.40" y2="451.60" stroke="#555" stroke-width="0.55"/>
<text x="610.20" y="460.80" font-size="5.2" font-weight="bold" fill="#222">p = 0.0048</text>
<line x1="613.40" y1="463.60" x2="634.50" y2="463.60" stroke="#555" stroke-width="0.55"/>
<text x="463.50" y="375.20" font-size="8.6" font-weight="bold" font-style="italic" text-anchor="middle" fill="#111">Tnf</text>
<text x="537.80" y="375.20" font-size="8.6" font-weight="bold" font-style="italic" text-anchor="middle" fill="#111">Il1b</text>
<text x="616.10" y="375.20" font-size="8.6" font-weight="bold" font-style="italic" text-anchor="middle" fill="#111">Nos2</text>
<rect x="580.30" y="387.00" width="14.80" height="2.80" fill="#f7e0bf" stroke="#222" stroke-width="0.7" rx="0.4"/>
<text x="604.50" y="391.30" font-size="8.1" fill="#222" stroke="#222" stroke-width="0.1">Control</text>
<rect x="580.30" y="401.80" width="14.80" height="2.80" fill="#b6b5de" stroke="#222" stroke-width="0.7" rx="0.4"/>
<text x="604.50" y="406.10" font-size="8.1" fill="#222" stroke="#222" stroke-width="0.1">LPS</text>
<rect x="580.30" y="416.60" width="14.80" height="2.80" fill="#c6ddf1" stroke="#222" stroke-width="0.7" rx="0.4"/>
<text x="604.50" y="420.90" font-size="8.1" fill="#222" stroke="#222" stroke-width="0.1">LPS+4-PBA</text>
<text x="393.90" y="454.40" font-size="9.2" font-weight="bold" text-anchor="middle" fill="#222" transform="rotate(-90 393.90 454.40)">Relative mRNA Expression</text>
<line x1="428.50" y1="577.30" x2="648.30" y2="577.30" stroke="#222" stroke-width="0.9"/>
<line x1="648.30" y1="577.30" x2="648.30" y2="723.40" stroke="#222" stroke-width="0.9"/>
<line x1="428.05" y1="723.40" x2="648.75" y2="723.40" stroke="#222" stroke-width="0.9"/>
<line x1="428.50" y1="576.85" x2="428.50" y2="644.60" stroke="#222" stroke-width="0.9"/>
<line x1="428.50" y1="656.30" x2="428.50" y2="723.40" stroke="#222" stroke-width="0.9"/>
<line x1="425.30" y1="641.90" x2="432.10" y2="648.50" stroke="#222" stroke-width="0.85"/>
<line x1="425.30" y1="652.50" x2="432.10" y2="659.10" stroke="#222" stroke-width="0.85"/>
<line x1="422.80" y1="577.40" x2="428.50" y2="577.40" stroke="#222" stroke-width="0.9"/>
<text x="410.10" y="580.65" font-size="9" font-weight="bold" text-anchor="middle" fill="#1a1a1a">100</text>
<line x1="422.80" y1="594.20" x2="428.50" y2="594.20" stroke="#222" stroke-width="0.9"/>
<text x="410.10" y="597.45" font-size="9" font-weight="bold" text-anchor="middle" fill="#1a1a1a">80</text>
<line x1="422.80" y1="611.00" x2="428.50" y2="611.00" stroke="#222" stroke-width="0.9"/>
<text x="410.10" y="614.25" font-size="9" font-weight="bold" text-anchor="middle" fill="#1a1a1a">60</text>
<line x1="422.80" y1="628.10" x2="428.50" y2="628.10" stroke="#222" stroke-width="0.9"/>
<text x="410.10" y="631.35" font-size="9" font-weight="bold" text-anchor="middle" fill="#1a1a1a">40</text>
<text x="410.10" y="647.75" font-size="9" font-weight="bold" text-anchor="middle" fill="#1a1a1a">20</text>
<text x="410.10" y="659.45" font-size="9" font-weight="bold" text-anchor="middle" fill="#1a1a1a">10</text>
<line x1="422.80" y1="669.80" x2="428.50" y2="669.80" stroke="#222" stroke-width="0.9"/>
<text x="410.10" y="673.05" font-size="9" font-weight="bold" text-anchor="middle" fill="#1a1a1a">8</text>
<line x1="422.80" y1="683.60" x2="428.50" y2="683.60" stroke="#222" stroke-width="0.9"/>
<text x="410.10" y="686.85" font-size="9" font-weight="bold" text-anchor="middle" fill="#1a1a1a">6</text>
<line x1="422.80" y1="697.20" x2="428.50" y2="697.20" stroke="#222" stroke-width="0.9"/>
<text x="410.10" y="700.45" font-size="9" font-weight="bold" text-anchor="middle" fill="#1a1a1a">4</text>
<line x1="422.80" y1="710.60" x2="428.50" y2="710.60" stroke="#222" stroke-width="0.9"/>
<text x="410.10" y="713.85" font-size="9" font-weight="bold" text-anchor="middle" fill="#1a1a1a">2</text>
<line x1="422.80" y1="723.40" x2="428.50" y2="723.40" stroke="#222" stroke-width="0.9"/>
<text x="410.10" y="726.65" font-size="9" font-weight="bold" text-anchor="middle" fill="#1a1a1a">0</text>
<rect x="435.90" y="716.60" width="13.70" height="6.80" fill="#f7e0bf" stroke="#333" stroke-width="0.7"/>
<circle cx="437.80" cy="716.50" r="1.30" fill="#111"/>
<circle cx="442.80" cy="715.80" r="1.30" fill="#111"/>
<circle cx="447.80" cy="716.40" r="1.30" fill="#111"/>
<rect x="456.40" y="720.00" width="13.50" height="3.40" fill="#b6b5de" stroke="#333" stroke-width="0.7"/>
<circle cx="458.10" cy="720.00" r="1.30" fill="#111"/>
<circle cx="463.10" cy="719.30" r="1.30" fill="#111"/>
<circle cx="468.10" cy="719.90" r="1.30" fill="#111"/>
<rect x="477.20" y="627.23" width="13.30" height="96.17" fill="#c6ddf1" stroke="#333" stroke-width="0.7"/>
<rect x="476.20" y="644.50" width="15.30" height="11.70" fill="#fff"/>
<line x1="483.85" y1="622.20" x2="483.85" y2="632.30" stroke="#111" stroke-width="0.9"/>
<line x1="481.15" y1="622.20" x2="486.55" y2="622.20" stroke="#111" stroke-width="0.9"/>
<line x1="481.15" y1="632.30" x2="486.55" y2="632.30" stroke="#111" stroke-width="0.9"/>
<circle cx="483.80" cy="623.50" r="1.30" fill="#111"/>
<circle cx="483.80" cy="627.50" r="1.30" fill="#111"/>
<circle cx="483.80" cy="631.50" r="1.30" fill="#111"/>
<rect x="511.60" y="716.60" width="13.20" height="6.80" fill="#f7e0bf" stroke="#333" stroke-width="0.7"/>
<circle cx="513.20" cy="716.50" r="1.30" fill="#111"/>
<circle cx="518.20" cy="715.80" r="1.30" fill="#111"/>
<circle cx="523.20" cy="716.40" r="1.30" fill="#111"/>
<rect x="532.00" y="720.00" width="13.50" height="3.40" fill="#b6b5de" stroke="#333" stroke-width="0.7"/>
<circle cx="533.70" cy="720.00" r="1.30" fill="#111"/>
<circle cx="538.70" cy="719.30" r="1.30" fill="#111"/>
<circle cx="543.70" cy="719.90" r="1.30" fill="#111"/>
<rect x="552.70" y="684.64" width="12.90" height="38.76" fill="#c6ddf1" stroke="#333" stroke-width="0.7"/>
<line x1="559.15" y1="681.00" x2="559.15" y2="689.10" stroke="#111" stroke-width="0.9"/>
<line x1="556.45" y1="681.00" x2="561.85" y2="681.00" stroke="#111" stroke-width="0.9"/>
<line x1="556.45" y1="689.10" x2="561.85" y2="689.10" stroke="#111" stroke-width="0.9"/>
<circle cx="556.30" cy="683.50" r="1.30" fill="#111"/>
<circle cx="559.10" cy="686.50" r="1.30" fill="#111"/>
<circle cx="561.80" cy="684.00" r="1.30" fill="#111"/>
<rect x="587.00" y="716.60" width="13.50" height="6.80" fill="#f7e0bf" stroke="#333" stroke-width="0.7"/>
<circle cx="588.70" cy="716.50" r="1.30" fill="#111"/>
<circle cx="593.70" cy="715.80" r="1.30" fill="#111"/>
<circle cx="598.70" cy="716.40" r="1.30" fill="#111"/>
<rect x="607.50" y="720.00" width="13.20" height="3.40" fill="#b6b5de" stroke="#333" stroke-width="0.7"/>
<circle cx="609.10" cy="720.00" r="1.30" fill="#111"/>
<circle cx="614.10" cy="719.30" r="1.30" fill="#111"/>
<circle cx="619.10" cy="719.90" r="1.30" fill="#111"/>
<rect x="628.30" y="698.24" width="12.90" height="25.16" fill="#c6ddf1" stroke="#333" stroke-width="0.7"/>
<line x1="634.75" y1="693.70" x2="634.75" y2="703.70" stroke="#111" stroke-width="0.9"/>
<line x1="632.05" y1="693.70" x2="637.45" y2="693.70" stroke="#111" stroke-width="0.9"/>
<line x1="632.05" y1="703.70" x2="637.45" y2="703.70" stroke="#111" stroke-width="0.9"/>
<circle cx="634.70" cy="694.50" r="1.30" fill="#111"/>
<circle cx="637.00" cy="696.50" r="1.30" fill="#111"/>
<circle cx="634.70" cy="701.50" r="1.30" fill="#111"/>
<text x="460.40" y="612.60" font-size="5.2" font-weight="bold" fill="#222">p &lt; 0.0001</text>
<line x1="464.00" y1="614.40" x2="482.60" y2="614.40" stroke="#555" stroke-width="0.55"/>
<text x="439.40" y="705.80" font-size="5.2" font-weight="bold" fill="#222">p = 0.9755</text>
<line x1="442.20" y1="708.00" x2="461.60" y2="708.00" stroke="#555" stroke-width="0.55"/>
<text x="514.90" y="707.50" font-size="5.2" font-weight="bold" fill="#222">p = 0.1780</text>
<line x1="518.40" y1="708.80" x2="537.80" y2="708.80" stroke="#555" stroke-width="0.55"/>
<text x="536.50" y="674.30" font-size="5.2" font-weight="bold" fill="#222">p &lt; 0.0001</text>
<line x1="540.00" y1="675.30" x2="558.90" y2="675.30" stroke="#555" stroke-width="0.55"/>
<text x="590.50" y="708.30" font-size="5.2" font-weight="bold" fill="#222">p = 0.3121</text>
<line x1="593.20" y1="709.60" x2="612.90" y2="709.60" stroke="#555" stroke-width="0.55"/>
<text x="612.60" y="685.10" font-size="5.2" font-weight="bold" fill="#222">p = 0.0002</text>
<line x1="616.10" y1="686.10" x2="634.50" y2="686.10" stroke="#555" stroke-width="0.55"/>
<text x="470.40" y="571.30" font-size="8.6" font-weight="bold" font-style="italic" text-anchor="middle" fill="#111">Cd206</text>
<text x="534.60" y="571.30" font-size="8.6" font-weight="bold" font-style="italic" text-anchor="middle" fill="#111">Il10</text>
<text x="612.10" y="571.30" font-size="8.6" font-weight="bold" font-style="italic" text-anchor="middle" fill="#111">Arg1</text>
<rect x="580.30" y="582.90" width="14.80" height="2.80" fill="#f7e0bf" stroke="#222" stroke-width="0.7" rx="0.4"/>
<text x="604.50" y="587.20" font-size="8.1" fill="#222" stroke="#222" stroke-width="0.1">Control</text>
<rect x="580.30" y="597.70" width="14.80" height="2.80" fill="#b6b5de" stroke="#222" stroke-width="0.7" rx="0.4"/>
<text x="604.50" y="602.00" font-size="8.1" fill="#222" stroke="#222" stroke-width="0.1">LPS</text>
<rect x="580.30" y="612.50" width="14.80" height="2.80" fill="#c6ddf1" stroke="#222" stroke-width="0.7" rx="0.4"/>
<text x="604.50" y="616.80" font-size="8.1" fill="#222" stroke="#222" stroke-width="0.1">LPS+4-PBA</text>
<text x="393.90" y="649.50" font-size="9.2" font-weight="bold" text-anchor="middle" fill="#222" transform="rotate(-90 393.90 649.50)">Relative mRNA Expression</text>
<rect x="58.80" y="791.40" width="174.40" height="80.20" fill="#fff" stroke="#444" stroke-width="0.6"/>
<line x1="58.80" y1="858.60" x2="233.20" y2="858.60" stroke="#aaa" stroke-width="0.5"/>
<line x1="58.80" y1="795.40" x2="78.80" y2="795.40" stroke="#4caf50" stroke-width="0.5" stroke-dasharray="1,0.8"/>
<line x1="78.80" y1="795.40" x2="78.80" y2="858.60" stroke="#4caf50" stroke-width="0.5" stroke-dasharray="1,0.8"/>
<path d="M60.5,857.4 L61.5,831.2 L62.4,812.8 L63.4,809.7 L64.3,808.8 L65.3,806.8 L66.2,803.4 L67.2,801.8 L68.2,800.5 L69.1,799.5 L70.1,798.5 L71.0,798.2 L72.0,798.0 L72.9,797.6 L73.9,796.6 L74.8,796.2 L75.8,796.1 L76.8,795.8 L77.7,795.4 L78.7,795.2 L79.6,795.6 L80.6,795.9 L81.5,796.7 L82.5,796.6 L83.5,795.4 L84.4,795.2 L85.4,795.7 L86.3,796.0 L87.3,796.4 L88.2,796.8 L89.2,797.7 L90.1,797.6 L91.1,797.8 L92.1,798.8 L93.0,799.2 L94.0,799.6 L94.9,799.7 L95.9,799.5 L96.8,800.0 L97.8,800.4 L98.8,800.5 L99.7,800.9 L100.7,801.4 L101.6,801.6 L102.6,802.1 L103.5,802.7 L104.5,803.2 L105.5,803.5 L106.4,804.2 L107.4,804.9 L108.3,805.4 L109.3,805.7 L110.2,806.4 L111.2,806.8 L112.1,807.6 L113.1,807.7 L114.1,808.6 L115.0,809.0 L116.0,809.2 L116.9,809.7 L117.9,810.3 L118.8,810.9 L119.8,811.2 L120.8,811.5 L121.7,812.2 L122.7,812.7 L123.6,813.4 L124.6,814.2 L125.5,814.3 L126.5,815.1 L127.4,816.2 L128.4,816.7 L129.4,817.1 L130.3,818.0 L131.3,818.8 L132.2,819.6 L133.2,820.1 L134.1,820.3 L135.1,821.0 L136.1,821.5 L137.0,822.5 L138.0,823.2 L138.9,823.3 L139.9,823.7 L140.8,824.8 L141.8,825.6 L142.8,826.1 L143.7,826.8 L144.7,827.6 L145.6,828.4 L146.6,829.2 L147.5,829.9 L148.5,830.4 L149.4,830.9 L150.4,831.8 L151.4,831.7 L152.3,832.4 L153.3,833.1 L154.2,833.4 L155.2,834.2 L156.1,834.8 L157.1,835.7 L158.1,836.4 L159.0,837.1 L160.0,837.9 L160.9,838.4 L161.9,838.5 L162.8,838.6 L163.8,839.6 L164.8,840.0 L165.7,840.3 L166.7,840.8 L167.6,841.2 L168.6,842.0 L169.5,842.4 L170.5,842.9 L171.4,843.1 L172.4,843.8 L173.4,844.1 L174.3,844.9 L175.3,845.9 L176.2,845.9 L177.2,845.8 L178.1,846.7 L179.1,848.1 L180.1,848.3 L181.0,848.5 L182.0,849.3 L182.9,849.7 L183.9,850.2 L184.8,850.7 L185.8,851.6 L186.7,852.0 L187.7,852.6 L188.7,853.1 L189.6,853.4 L190.6,853.9 L191.5,854.3 L192.5,854.9 L193.4,855.2 L194.4,855.5 L195.4,856.6 L196.3,857.2 L197.3,857.7 L198.2,858.4 L199.2,858.8 L200.1,859.3 L201.1,859.8 L202.1,860.2 L203.0,860.2 L204.0,860.9 L204.9,861.1 L205.9,861.2 L206.8,861.4 L207.8,861.7 L208.7,862.7 L209.7,862.7 L210.7,863.2 L211.6,863.0 L212.6,863.6 L213.5,864.4 L214.5,864.8 L215.4,865.1 L216.4,865.6 L217.4,866.3 L218.3,866.9 L219.3,867.8 L220.2,867.5 L221.2,867.1 L222.1,866.8 L223.1,866.6 L224.0,866.4 L225.0,866.2 L226.0,866.1 L226.9,865.4 L227.9,865.0 L228.8,863.3 L229.8,861.5 L230.7,860.2 L231.7,859.0" fill="none" stroke="#2f9a35" stroke-width="1.5" stroke-linejoin="round"/>
<text x="79.10" y="795.30" font-size="6.4" fill="#333">ES: 0.542</text>
<text x="77.00" y="864.20" font-size="6.5" fill="#222">NES: 2.48, p&lt;0.001, FDR&lt;0.001</text>
<text x="55.30" y="801.60" font-size="4.6" text-anchor="end" fill="#333">0.5</text>
<text x="55.30" y="813.50" font-size="4.6" text-anchor="end" fill="#333">0.4</text>
<text x="55.30" y="824.90" font-size="4.6" text-anchor="end" fill="#333">0.3</text>
<text x="55.30" y="836.70" font-size="4.6" text-anchor="end" fill="#333">0.2</text>
<text x="55.30" y="848.60" font-size="4.6" text-anchor="end" fill="#333">0.1</text>
<text x="55.30" y="860.50" font-size="4.6" text-anchor="end" fill="#333">0.0</text>
<text x="55.30" y="872.20" font-size="4.6" text-anchor="end" fill="#333">−0.1</text>
<text x="42.60" y="832.30" font-size="7.3" text-anchor="middle" fill="#333" transform="rotate(-90 42.60 832.30)">Enrichment score (ES)</text>
<text x="143.20" y="784.10" font-size="6.75" font-weight="bold" text-anchor="middle" fill="#111">immune response(GO:0006955)</text>
<rect x="58.80" y="871.60" width="174.40" height="20.00" fill="#fff" stroke="#444" stroke-width="0.5"/>
<path d="M113.7 871.6V891.6M183.1 871.6V891.6M120.0 871.6V891.6M168.7 871.6V891.6M166.4 871.6V891.6M134.0 871.6V891.6M153.0 871.6V891.6M132.6 871.6V891.6" stroke="rgb(180,180,180)" stroke-width="0.6" fill="none"/>
<path d="M95.9 871.6V891.6M92.1 871.6V891.6M107.4 871.6V891.6M134.3 871.6V891.6M170.2 871.6V891.6M137.2 871.6V891.6M136.7 871.6V891.6M140.6 871.6V891.6M118.3 871.6V891.6M195.9 871.6V891.6M203.6 871.6V891.6M190.9 871.6V891.6M204.5 871.6V891.6M221.7 871.6V891.6" stroke="rgb(160,160,160)" stroke-width="0.6" fill="none"/>
<path d="M71.1 871.6V891.6M72.8 871.6V891.6M88.0 871.6V891.6M99.2 871.6V891.6M163.8 871.6V891.6M129.5 871.6V891.6M220.7 871.6V891.6M204.1 871.6V891.6M206.7 871.6V891.6" stroke="rgb(140,140,140)" stroke-width="0.6" fill="none"/>
<path d="M77.7 871.6V891.6M80.4 871.6V891.6M80.1 871.6V891.6M69.8 871.6V891.6M79.0 871.6V891.6M95.1 871.6V891.6M84.3 871.6V891.6M140.0 871.6V891.6M135.7 871.6V891.6M189.0 871.6V891.6M125.8 871.6V891.6M119.8 871.6V891.6M125.2 871.6V891.6M227.3 871.6V891.6M231.4 871.6V891.6M192.6 871.6V891.6M215.4 871.6V891.6M220.1 871.6V891.6" stroke="rgb(120,120,120)" stroke-width="0.6" fill="none"/>
<path d="M77.0 871.6V891.6M64.8 871.6V891.6M61.1 871.6V891.6M74.0 871.6V891.6M108.3 871.6V891.6M83.0 871.6V891.6M111.7 871.6V891.6M103.1 871.6V891.6M82.0 871.6V891.6M149.0 871.6V891.6M148.4 871.6V891.6M183.0 871.6V891.6M188.1 871.6V891.6M220.8 871.6V891.6M219.3 871.6V891.6" stroke="rgb(100,100,100)" stroke-width="0.6" fill="none"/>
<path d="M78.8 871.6V891.6M65.5 871.6V891.6M64.1 871.6V891.6M90.1 871.6V891.6M95.8 871.6V891.6M101.7 871.6V891.6M123.9 871.6V891.6M185.8 871.6V891.6M180.5 871.6V891.6M213.7 871.6V891.6M205.8 871.6V891.6M222.2 871.6V891.6" stroke="rgb(80,80,80)" stroke-width="0.6" fill="none"/>
<path d="M74.2 871.6V891.6M68.0 871.6V891.6M75.1 871.6V891.6M84.5 871.6V891.6M92.4 871.6V891.6M99.8 871.6V891.6M108.9 871.6V891.6M94.6 871.6V891.6M186.1 871.6V891.6M132.8 871.6V891.6M117.9 871.6V891.6M134.8 871.6V891.6M174.7 871.6V891.6M146.6 871.6V891.6M154.5 871.6V891.6M114.1 871.6V891.6M199.9 871.6V891.6M191.6 871.6V891.6M212.5 871.6V891.6M203.0 871.6V891.6M215.6 871.6V891.6" stroke="rgb(60,60,60)" stroke-width="0.6" fill="none"/>
<path d="M68.4 871.6V891.6M73.8 871.6V891.6M70.9 871.6V891.6M61.5 871.6V891.6M119.6 871.6V891.6M148.7 871.6V891.6M157.0 871.6V891.6M175.6 871.6V891.6M147.9 871.6V891.6M145.2 871.6V891.6M159.0 871.6V891.6M115.2 871.6V891.6M182.9 871.6V891.6M231.6 871.6V891.6M209.3 871.6V891.6M212.3 871.6V891.6M197.4 871.6V891.6M201.1 871.6V891.6M211.1 871.6V891.6" stroke="rgb(40,40,40)" stroke-width="0.6" fill="none"/>
<path d="M80.5 871.6V891.6M70.5 871.6V891.6M79.1 871.6V891.6M61.7 871.6V891.6M86.1 871.6V891.6M92.9 871.6V891.6M127.2 871.6V891.6M118.8 871.6V891.6M223.9 871.6V891.6M193.9 871.6V891.6M191.7 871.6V891.6M203.3 871.6V891.6M219.0 871.6V891.6" stroke="rgb(20,20,20)" stroke-width="0.6" fill="none"/>
<path d="M62.3 871.6V891.6M62.0 871.6V891.6M61.0 871.6V891.6M62.2 871.6V891.6M70.1 871.6V891.6M69.9 871.6V891.6M62.3 871.6V891.6M80.6 871.6V891.6M74.3 871.6V891.6M97.8 871.6V891.6M93.5 871.6V891.6M94.0 871.6V891.6M138.7 871.6V891.6M167.2 871.6V891.6M220.9 871.6V891.6M193.2 871.6V891.6M224.1 871.6V891.6M227.1 871.6V891.6M193.8 871.6V891.6M190.6 871.6V891.6M216.6 871.6V891.6M205.7 871.6V891.6" stroke="rgb(0,0,0)" stroke-width="0.6" fill="none"/>
<defs><linearGradient id="gs1" x1="0" y1="0" x2="1" y2="0"><stop offset="0" stop-color="#e3161b"/><stop offset="0.08" stop-color="#e64a4f"/><stop offset="0.25" stop-color="#ecaab0"/><stop offset="0.45" stop-color="#ffffff"/><stop offset="0.7" stop-color="#a9b0da"/><stop offset="0.9" stop-color="#4a60ad"/><stop offset="1" stop-color="#1e3c96"/></linearGradient></defs>
<rect x="60.40" y="891.80" width="171.80" height="10.20" fill="url(#gs1)"/>
<rect x="58.80" y="902.00" width="174.40" height="49.40" fill="#fff" stroke="#444" stroke-width="0.5"/>
<path d="M60.4,926.8 L60.4,902.8 L61.5,908.3 L62.6,911.7 L63.6,913.6 L64.7,915.5 L65.8,916.2 L66.9,917.0 L68.0,917.7 L69.0,918.5 L70.1,919.2 L71.2,919.6 L72.3,920.0 L73.4,920.4 L74.4,920.8 L75.5,921.2 L76.6,921.6 L77.7,921.9 L78.8,922.0 L79.8,922.2 L80.9,922.3 L82.0,922.5 L83.1,922.6 L84.2,922.7 L85.3,922.9 L86.3,923.0 L87.4,923.1 L88.5,923.3 L89.6,923.4 L90.7,923.6 L91.7,923.7 L92.8,923.8 L93.9,924.0 L95.0,924.1 L96.1,924.2 L97.1,924.3 L98.2,924.4 L99.3,924.4 L100.4,924.5 L101.5,924.6 L102.5,924.7 L103.6,924.8 L104.7,924.9 L105.8,924.9 L106.9,925.0 L107.9,925.1 L109.0,925.2 L110.1,925.3 L111.2,925.4 L112.3,925.4 L113.3,925.5 L114.4,925.6 L115.5,925.6 L116.6,925.7 L117.7,925.7 L118.7,925.8 L119.8,925.9 L120.9,925.9 L122.0,926.0 L123.1,926.0 L124.1,926.1 L125.2,926.2 L126.3,926.2 L127.4,926.3 L128.5,926.3 L129.6,926.4 L130.6,926.5 L131.7,926.5 L132.8,926.6 L133.9,926.6 L135.0,926.7 L136.0,926.8 L137.1,926.8 L138.2,926.9 L139.3,927.0 L140.4,927.1 L141.4,927.2 L142.5,927.3 L143.6,927.3 L144.7,927.4 L145.8,927.5 L146.8,927.6 L147.9,927.7 L149.0,927.8 L150.1,927.8 L151.2,927.9 L152.2,928.0 L153.3,928.1 L154.4,928.2 L155.5,928.2 L156.6,928.3 L157.6,928.4 L158.7,928.5 L159.8,928.6 L160.9,928.7 L162.0,928.7 L163.0,928.8 L164.1,928.9 L165.2,929.0 L166.3,929.1 L167.4,929.2 L168.5,929.2 L169.5,929.3 L170.6,929.4 L171.7,929.5 L172.8,929.6 L173.9,929.7 L174.9,929.8 L176.0,930.0 L177.1,930.1 L178.2,930.2 L179.3,930.3 L180.3,930.4 L181.4,930.5 L182.5,930.7 L183.6,930.8 L184.7,930.9 L185.7,931.0 L186.8,931.1 L187.9,931.2 L189.0,931.4 L190.1,931.5 L191.1,931.6 L192.2,931.7 L193.3,931.8 L194.4,932.0 L195.5,932.1 L196.5,932.2 L197.6,932.3 L198.7,932.4 L199.8,932.5 L200.9,932.7 L201.9,932.8 L203.0,932.9 L204.1,933.0 L205.2,933.1 L206.3,933.3 L207.3,933.4 L208.4,933.5 L209.5,933.6 L210.6,933.9 L211.7,934.2 L212.8,934.4 L213.8,934.7 L214.9,934.9 L216.0,935.2 L217.1,935.4 L218.2,935.7 L219.2,935.9 L220.3,936.2 L221.4,936.4 L222.5,936.7 L223.6,937.6 L224.6,938.6 L225.7,939.7 L226.8,940.7 L227.9,941.7 L229.0,942.7 L230.0,945.0 L231.1,947.9 L232.2,950.8 L232.2,926.8 Z" fill="#c6c6c6"/>
<line x1="136.60" y1="902.00" x2="136.60" y2="951.40" stroke="#c8c8c8" stroke-width="0.5"/>
<text x="55.30" y="905.80" font-size="4.6" text-anchor="end" fill="#333">5.0</text>
<text x="55.30" y="917.10" font-size="4.6" text-anchor="end" fill="#333">2.5</text>
<text x="55.30" y="928.40" font-size="4.6" text-anchor="end" fill="#333">0.0</text>
<text x="55.30" y="939.70" font-size="4.6" text-anchor="end" fill="#333">−2.5</text>
<text x="55.30" y="951.00" font-size="4.6" text-anchor="end" fill="#333">−5.0</text>
<text x="70.80" y="913.70" font-size="9.3" font-weight="bold" fill="#222">LPS</text>
<text x="191.60" y="946.50" font-size="9.3" font-weight="bold" fill="#222">Control</text>
<text x="136.60" y="935.20" font-size="4.0" text-anchor="middle" fill="#333">Zero score at 8369</text>
<text x="36.20" y="926.90" font-size="7.2" text-anchor="middle" fill="#333" transform="rotate(-90 36.20 926.90)">Ranked Metric</text>
<text x="42.70" y="927.10" font-size="7.3" text-anchor="middle" fill="#333" transform="rotate(-90 42.70 927.10)">(signal_to_noise)</text>
<rect x="282.40" y="791.40" width="167.00" height="80.20" fill="#fff" stroke="#444" stroke-width="0.6"/>
<line x1="282.40" y1="857.70" x2="449.40" y2="857.70" stroke="#aaa" stroke-width="0.5"/>
<line x1="282.40" y1="796.30" x2="299.40" y2="796.30" stroke="#4caf50" stroke-width="0.5" stroke-dasharray="1,0.8"/>
<line x1="299.40" y1="796.30" x2="299.40" y2="857.70" stroke="#4caf50" stroke-width="0.5" stroke-dasharray="1,0.8"/>
<path d="M283.4,857.3 L284.3,842.3 L285.2,828.7 L286.1,818.7 L287.1,813.7 L288.0,811.7 L288.9,809.3 L289.8,807.2 L290.7,805.8 L291.6,804.2 L292.5,803.1 L293.5,801.9 L294.4,800.9 L295.3,799.8 L296.2,799.2 L297.1,798.3 L298.0,797.7 L298.9,796.6 L299.9,796.5 L300.8,796.6 L301.7,797.2 L302.6,797.7 L303.5,798.1 L304.4,798.5 L305.3,798.6 L306.3,799.2 L307.2,800.1 L308.1,799.9 L309.0,799.7 L309.9,799.8 L310.8,800.5 L311.8,801.0 L312.7,801.7 L313.6,802.3 L314.5,802.7 L315.4,803.2 L316.3,803.5 L317.2,804.2 L318.2,804.2 L319.1,804.6 L320.0,805.1 L320.9,806.1 L321.8,806.2 L322.7,806.3 L323.6,806.7 L324.6,807.5 L325.5,807.9 L326.4,808.7 L327.3,808.6 L328.2,809.5 L329.1,810.3 L330.0,810.4 L331.0,811.0 L331.9,811.9 L332.8,812.4 L333.7,813.2 L334.6,814.3 L335.5,814.7 L336.4,815.0 L337.4,815.2 L338.3,815.9 L339.2,816.3 L340.1,816.8 L341.0,817.2 L341.9,818.0 L342.8,818.2 L343.8,818.3 L344.7,818.4 L345.6,819.5 L346.5,820.3 L347.4,821.4 L348.3,822.0 L349.2,822.4 L350.2,823.1 L351.1,823.7 L352.0,824.0 L352.9,824.4 L353.8,825.6 L354.7,826.3 L355.6,827.0 L356.6,827.5 L357.5,827.9 L358.4,828.8 L359.3,829.3 L360.2,829.7 L361.1,830.3 L362.0,830.7 L363.0,831.4 L363.9,832.4 L364.8,832.8 L365.7,833.9 L366.6,834.3 L367.5,835.0 L368.5,835.3 L369.4,836.0 L370.3,836.6 L371.2,837.2 L372.1,837.7 L373.0,838.2 L373.9,838.7 L374.9,839.0 L375.8,839.8 L376.7,840.7 L377.6,841.7 L378.5,842.6 L379.4,843.9 L380.3,844.5 L381.3,844.9 L382.2,845.8 L383.1,845.8 L384.0,846.5 L384.9,846.6 L385.8,847.1 L386.7,847.0 L387.7,847.8 L388.6,848.2 L389.5,848.4 L390.4,849.4 L391.3,850.0 L392.2,850.5 L393.1,850.7 L394.1,851.1 L395.0,851.5 L395.9,852.2 L396.8,852.9 L397.7,853.1 L398.6,853.4 L399.5,853.8 L400.5,853.9 L401.4,854.4 L402.3,855.0 L403.2,855.7 L404.1,856.7 L405.0,856.9 L405.9,857.5 L406.9,857.9 L407.8,859.0 L408.7,859.4 L409.6,859.9 L410.5,860.1 L411.4,860.3 L412.3,860.9 L413.3,861.3 L414.2,861.7 L415.1,861.6 L416.0,862.2 L416.9,862.3 L417.8,863.1 L418.7,863.3 L419.7,863.9 L420.6,863.7 L421.5,864.2 L422.4,864.2 L423.3,864.4 L424.2,864.8 L425.2,865.0 L426.1,865.5 L427.0,865.9 L427.9,866.3 L428.8,866.5 L429.7,866.2 L430.6,866.3 L431.6,866.5 L432.5,866.2 L433.4,866.8 L434.3,867.1 L435.2,867.3 L436.1,867.7 L437.0,867.3 L438.0,866.8 L438.9,866.0 L439.8,865.5 L440.7,865.1 L441.6,864.3 L442.5,864.1 L443.4,863.6 L444.4,861.9 L445.3,860.4 L446.2,858.4 L447.1,857.2" fill="none" stroke="#2f9a35" stroke-width="1.5" stroke-linejoin="round"/>
<text x="299.70" y="795.30" font-size="6.4" fill="#333">ES: 0.521</text>
<text x="297.60" y="864.20" font-size="6.5" fill="#222">NES: 2.53, p&lt;0.001, FDR&lt;0.001</text>
<text x="278.90" y="799.80" font-size="4.6" text-anchor="end" fill="#333">0.5</text>
<text x="278.90" y="811.60" font-size="4.6" text-anchor="end" fill="#333">0.4</text>
<text x="278.90" y="823.50" font-size="4.6" text-anchor="end" fill="#333">0.3</text>
<text x="278.90" y="835.70" font-size="4.6" text-anchor="end" fill="#333">0.2</text>
<text x="278.90" y="847.60" font-size="4.6" text-anchor="end" fill="#333">0.1</text>
<text x="278.90" y="859.20" font-size="4.6" text-anchor="end" fill="#333">0.0</text>
<text x="278.90" y="871.70" font-size="4.6" text-anchor="end" fill="#333">−0.1</text>
<text x="266.80" y="832.30" font-size="7.3" text-anchor="middle" fill="#333" transform="rotate(-90 266.80 832.30)">Enrichment score (ES)</text>
<text x="363.10" y="784.60" font-size="6.75" font-weight="bold" text-anchor="middle" fill="#111">inflammatory response(GO:0006954)</text>
<rect x="282.40" y="871.60" width="167.00" height="20.00" fill="#fff" stroke="#444" stroke-width="0.5"/>
<path d="M343.0 871.6V891.6M334.2 871.6V891.6" stroke="rgb(180,180,180)" stroke-width="0.6" fill="none"/>
<path d="M328.3 871.6V891.6M306.2 871.6V891.6M347.5 871.6V891.6M368.6 871.6V891.6M394.0 871.6V891.6M350.0 871.6V891.6M337.9 871.6V891.6M362.2 871.6V891.6M439.6 871.6V891.6M423.6 871.6V891.6M426.2 871.6V891.6M423.9 871.6V891.6M438.4 871.6V891.6" stroke="rgb(160,160,160)" stroke-width="0.6" fill="none"/>
<path d="M302.2 871.6V891.6M294.6 871.6V891.6M295.1 871.6V891.6M294.9 871.6V891.6M313.2 871.6V891.6M316.8 871.6V891.6M323.2 871.6V891.6M312.1 871.6V891.6M328.5 871.6V891.6M396.6 871.6V891.6M389.5 871.6V891.6M352.1 871.6V891.6M366.6 871.6V891.6M427.5 871.6V891.6M428.1 871.6V891.6M443.1 871.6V891.6M445.8 871.6V891.6M414.3 871.6V891.6M439.3 871.6V891.6" stroke="rgb(140,140,140)" stroke-width="0.6" fill="none"/>
<path d="M305.6 871.6V891.6M366.9 871.6V891.6M380.7 871.6V891.6M343.1 871.6V891.6M389.2 871.6V891.6M390.2 871.6V891.6M374.7 871.6V891.6M354.4 871.6V891.6M448.1 871.6V891.6M409.4 871.6V891.6M439.6 871.6V891.6M424.5 871.6V891.6M427.6 871.6V891.6M446.4 871.6V891.6" stroke="rgb(120,120,120)" stroke-width="0.6" fill="none"/>
<path d="M295.6 871.6V891.6M290.9 871.6V891.6M287.9 871.6V891.6M323.8 871.6V891.6M332.0 871.6V891.6M313.5 871.6V891.6M367.9 871.6V891.6M404.3 871.6V891.6M387.2 871.6V891.6M356.0 871.6V891.6M429.6 871.6V891.6M443.2 871.6V891.6M411.9 871.6V891.6M442.8 871.6V891.6M446.6 871.6V891.6" stroke="rgb(100,100,100)" stroke-width="0.6" fill="none"/>
<path d="M299.4 871.6V891.6M298.7 871.6V891.6M286.8 871.6V891.6M330.1 871.6V891.6M314.6 871.6V891.6M315.2 871.6V891.6M306.3 871.6V891.6M304.0 871.6V891.6M317.9 871.6V891.6M357.9 871.6V891.6M344.8 871.6V891.6M390.9 871.6V891.6M345.8 871.6V891.6M401.3 871.6V891.6M410.2 871.6V891.6M447.7 871.6V891.6M430.3 871.6V891.6M413.2 871.6V891.6M442.8 871.6V891.6" stroke="rgb(80,80,80)" stroke-width="0.6" fill="none"/>
<path d="M294.3 871.6V891.6M303.7 871.6V891.6M299.8 871.6V891.6M307.1 871.6V891.6M313.7 871.6V891.6M338.0 871.6V891.6M380.1 871.6V891.6M377.5 871.6V891.6M356.3 871.6V891.6M340.0 871.6V891.6M372.9 871.6V891.6M372.8 871.6V891.6M433.6 871.6V891.6" stroke="rgb(60,60,60)" stroke-width="0.6" fill="none"/>
<path d="M286.2 871.6V891.6M303.3 871.6V891.6M285.5 871.6V891.6M300.0 871.6V891.6M288.7 871.6V891.6M297.1 871.6V891.6M300.3 871.6V891.6M288.3 871.6V891.6M297.3 871.6V891.6M319.4 871.6V891.6M387.9 871.6V891.6M371.9 871.6V891.6M396.6 871.6V891.6M339.5 871.6V891.6M370.3 871.6V891.6M436.8 871.6V891.6M431.6 871.6V891.6M423.6 871.6V891.6M443.2 871.6V891.6" stroke="rgb(40,40,40)" stroke-width="0.6" fill="none"/>
<path d="M303.6 871.6V891.6M302.2 871.6V891.6M302.1 871.6V891.6M297.6 871.6V891.6M285.1 871.6V891.6M308.9 871.6V891.6M316.9 871.6V891.6M312.4 871.6V891.6M344.5 871.6V891.6M388.3 871.6V891.6M380.7 871.6V891.6M398.1 871.6V891.6M365.7 871.6V891.6M370.0 871.6V891.6M413.9 871.6V891.6M421.7 871.6V891.6M435.9 871.6V891.6M418.2 871.6V891.6M435.4 871.6V891.6" stroke="rgb(20,20,20)" stroke-width="0.6" fill="none"/>
<path d="M284.3 871.6V891.6M285.6 871.6V891.6M285.4 871.6V891.6M285.8 871.6V891.6M296.1 871.6V891.6M286.5 871.6V891.6M299.4 871.6V891.6M307.2 871.6V891.6M321.8 871.6V891.6M350.7 871.6V891.6M342.2 871.6V891.6M372.5 871.6V891.6M338.9 871.6V891.6M425.3 871.6V891.6M447.2 871.6V891.6M439.9 871.6V891.6M432.2 871.6V891.6M412.2 871.6V891.6" stroke="rgb(0,0,0)" stroke-width="0.6" fill="none"/>
<defs><linearGradient id="gs2" x1="0" y1="0" x2="1" y2="0"><stop offset="0" stop-color="#e3161b"/><stop offset="0.08" stop-color="#e64a4f"/><stop offset="0.25" stop-color="#ecaab0"/><stop offset="0.45" stop-color="#ffffff"/><stop offset="0.7" stop-color="#a9b0da"/><stop offset="0.9" stop-color="#4a60ad"/><stop offset="1" stop-color="#1e3c96"/></linearGradient></defs>
<rect x="284.00" y="891.80" width="164.40" height="10.20" fill="url(#gs2)"/>
<rect x="282.40" y="902.00" width="167.00" height="49.40" fill="#fff" stroke="#444" stroke-width="0.5"/>
<path d="M284.0,927.4 L284.0,903.7 L285.0,909.1 L286.1,912.4 L287.1,914.3 L288.1,916.2 L289.2,917.0 L290.2,917.7 L291.2,918.5 L292.3,919.2 L293.3,919.9 L294.3,920.3 L295.4,920.7 L296.4,921.1 L297.4,921.5 L298.5,921.9 L299.5,922.3 L300.5,922.6 L301.6,922.7 L302.6,922.8 L303.6,923.0 L304.7,923.1 L305.7,923.3 L306.7,923.4 L307.8,923.5 L308.8,923.7 L309.8,923.8 L310.9,923.9 L311.9,924.1 L313.0,924.2 L314.0,924.4 L315.0,924.5 L316.1,924.6 L317.1,924.8 L318.1,924.8 L319.2,924.9 L320.2,925.0 L321.2,925.1 L322.3,925.2 L323.3,925.3 L324.3,925.3 L325.4,925.4 L326.4,925.5 L327.4,925.6 L328.5,925.7 L329.5,925.8 L330.5,925.8 L331.6,925.9 L332.6,926.0 L333.6,926.1 L334.7,926.1 L335.7,926.2 L336.7,926.3 L337.8,926.3 L338.8,926.4 L339.8,926.4 L340.9,926.5 L341.9,926.6 L342.9,926.6 L344.0,926.7 L345.0,926.7 L346.0,926.8 L347.1,926.9 L348.1,926.9 L349.1,927.0 L350.2,927.0 L351.2,927.1 L352.2,927.2 L353.3,927.2 L354.3,927.3 L355.3,927.3 L356.4,927.4 L357.4,927.5 L358.4,927.6 L359.5,927.6 L360.5,927.7 L361.5,927.8 L362.6,927.9 L363.6,928.0 L364.6,928.1 L365.7,928.1 L366.7,928.2 L367.8,928.3 L368.8,928.4 L369.8,928.5 L370.9,928.5 L371.9,928.6 L372.9,928.7 L374.0,928.8 L375.0,928.9 L376.0,928.9 L377.1,929.0 L378.1,929.1 L379.1,929.2 L380.2,929.3 L381.2,929.4 L382.2,929.4 L383.3,929.5 L384.3,929.6 L385.3,929.7 L386.4,929.8 L387.4,929.8 L388.4,929.9 L389.5,930.0 L390.5,930.1 L391.5,930.2 L392.6,930.3 L393.6,930.4 L394.6,930.6 L395.7,930.7 L396.7,930.8 L397.7,930.9 L398.8,931.0 L399.8,931.1 L400.8,931.3 L401.9,931.4 L402.9,931.5 L403.9,931.6 L405.0,931.7 L406.0,931.8 L407.0,932.0 L408.1,932.1 L409.1,932.2 L410.1,932.3 L411.2,932.4 L412.2,932.5 L413.2,932.7 L414.3,932.8 L415.3,932.9 L416.3,933.0 L417.4,933.1 L418.4,933.2 L419.4,933.3 L420.5,933.5 L421.5,933.6 L422.6,933.7 L423.6,933.8 L424.6,933.9 L425.7,934.0 L426.7,934.2 L427.7,934.5 L428.8,934.7 L429.8,935.0 L430.8,935.2 L431.9,935.5 L432.9,935.7 L433.9,936.0 L435.0,936.2 L436.0,936.5 L437.0,936.7 L438.1,937.0 L439.1,937.2 L440.1,938.2 L441.2,939.2 L442.2,940.2 L443.2,941.2 L444.3,942.2 L445.3,943.2 L446.3,945.4 L447.4,948.3 L448.4,951.0 L448.4,927.4 Z" fill="#c6c6c6"/>
<line x1="356.40" y1="902.00" x2="356.40" y2="951.40" stroke="#c8c8c8" stroke-width="0.5"/>
<text x="278.90" y="906.60" font-size="4.6" text-anchor="end" fill="#333">5.0</text>
<text x="278.90" y="917.80" font-size="4.6" text-anchor="end" fill="#333">2.5</text>
<text x="278.90" y="929.00" font-size="4.6" text-anchor="end" fill="#333">0.0</text>
<text x="278.90" y="940.20" font-size="4.6" text-anchor="end" fill="#333">−2.5</text>
<text x="278.90" y="951.40" font-size="4.6" text-anchor="end" fill="#333">−5.0</text>
<text x="296.90" y="913.70" font-size="9.3" font-weight="bold" fill="#222">LPS</text>
<text x="406.30" y="946.50" font-size="9.3" font-weight="bold" fill="#222">Control</text>
<text x="356.40" y="935.20" font-size="4.0" text-anchor="middle" fill="#333">Zero score at 8398</text>
<text x="260.40" y="926.90" font-size="7.2" text-anchor="middle" fill="#333" transform="rotate(-90 260.40 926.90)">Ranked Metric</text>
<text x="266.90" y="927.10" font-size="7.3" text-anchor="middle" fill="#333" transform="rotate(-90 266.90 927.10)">(signal_to_noise)</text>
<rect x="498.60" y="791.40" width="173.60" height="80.20" fill="#fff" stroke="#444" stroke-width="0.6"/>
<line x1="498.60" y1="862.20" x2="672.20" y2="862.20" stroke="#aaa" stroke-width="0.5"/>
<line x1="498.60" y1="794.40" x2="519.60" y2="794.40" stroke="#4caf50" stroke-width="0.5" stroke-dasharray="1,0.8"/>
<line x1="519.60" y1="794.40" x2="519.60" y2="862.20" stroke="#4caf50" stroke-width="0.5" stroke-dasharray="1,0.8"/>
<path d="M499.7,862.2 L500.7,829.7 L501.6,814.0 L502.6,807.2 L503.5,803.6 L504.5,801.5 L505.5,799.8 L506.4,800.0 L507.4,800.1 L508.3,801.4 L509.3,801.4 L510.3,801.2 L511.2,801.1 L512.2,800.9 L513.1,800.7 L514.1,799.6 L515.1,798.7 L516.0,797.5 L517.0,796.8 L517.9,795.9 L518.9,795.0 L519.9,794.9 L520.8,795.3 L521.8,795.3 L522.7,795.5 L523.7,795.9 L524.7,796.7 L525.6,796.8 L526.6,796.9 L527.5,797.4 L528.5,797.3 L529.5,797.5 L530.4,798.2 L531.4,798.8 L532.3,799.2 L533.3,799.8 L534.3,799.4 L535.2,800.2 L536.2,800.4 L537.1,800.5 L538.1,801.2 L539.1,802.0 L540.0,802.4 L541.0,802.6 L541.9,803.2 L542.9,803.7 L543.8,804.7 L544.8,805.4 L545.8,805.8 L546.7,806.6 L547.7,806.9 L548.6,807.0 L549.6,807.7 L550.6,808.3 L551.5,808.6 L552.5,808.8 L553.4,809.4 L554.4,809.2 L555.4,810.1 L556.3,810.9 L557.3,811.1 L558.2,811.9 L559.2,812.4 L560.2,813.3 L561.1,813.5 L562.1,814.0 L563.0,815.0 L564.0,816.1 L565.0,816.2 L565.9,816.8 L566.9,817.7 L567.8,818.2 L568.8,819.4 L569.8,819.7 L570.7,820.5 L571.7,820.9 L572.6,822.0 L573.6,822.6 L574.6,823.2 L575.5,823.3 L576.5,824.6 L577.4,825.4 L578.4,826.2 L579.4,827.1 L580.3,827.7 L581.3,828.0 L582.2,828.4 L583.2,828.8 L584.2,829.8 L585.1,830.0 L586.1,830.5 L587.0,831.1 L588.0,831.9 L589.0,832.8 L589.9,833.1 L590.9,833.3 L591.8,834.1 L592.8,835.2 L593.8,836.0 L594.7,836.5 L595.7,836.9 L596.6,837.5 L597.6,837.9 L598.6,838.6 L599.5,838.8 L600.5,839.4 L601.4,839.8 L602.4,840.5 L603.4,841.0 L604.3,842.1 L605.3,842.9 L606.2,843.6 L607.2,843.5 L608.2,844.1 L609.1,844.6 L610.1,845.5 L611.0,845.6 L612.0,846.8 L613.0,847.8 L613.9,848.2 L614.9,848.7 L615.8,849.3 L616.8,850.2 L617.8,851.2 L618.7,852.6 L619.7,853.2 L620.6,854.1 L621.6,854.9 L622.6,856.0 L623.5,856.6 L624.5,857.4 L625.4,857.4 L626.4,857.8 L627.4,858.0 L628.3,859.0 L629.3,859.6 L630.2,860.0 L631.2,860.4 L632.1,861.0 L633.1,861.3 L634.1,861.6 L635.0,862.3 L636.0,863.4 L636.9,863.5 L637.9,863.6 L638.9,863.6 L639.8,863.5 L640.8,864.1 L641.7,864.7 L642.7,865.0 L643.7,865.4 L644.6,865.8 L645.6,865.6 L646.5,864.9 L647.5,864.6 L648.5,864.4 L649.4,864.0 L650.4,863.7 L651.3,863.3 L652.3,863.1 L653.3,863.2 L654.2,862.9 L655.2,863.2 L656.1,863.9 L657.1,864.6 L658.1,865.5 L659.0,865.3 L660.0,866.0 L660.9,866.3 L661.9,866.2 L662.9,866.4 L663.8,866.5 L664.8,866.6 L665.7,866.5 L666.7,866.7 L667.7,866.0 L668.6,864.9 L669.6,864.0 L670.5,862.8 L671.5,862.4" fill="none" stroke="#2f9a35" stroke-width="1.5" stroke-linejoin="round"/>
<text x="519.90" y="795.30" font-size="6.4" fill="#333">ES: 0.574</text>
<text x="517.80" y="864.20" font-size="6.5" fill="#222">NES: 2.45, p&lt;0.001, FDR&lt;0.001</text>
<text x="494.80" y="794.00" font-size="4.6" text-anchor="end" fill="#333">0.6</text>
<text x="494.80" y="805.20" font-size="4.6" text-anchor="end" fill="#333">0.5</text>
<text x="494.80" y="817.10" font-size="4.6" text-anchor="end" fill="#333">0.4</text>
<text x="494.80" y="828.70" font-size="4.6" text-anchor="end" fill="#333">0.3</text>
<text x="494.80" y="840.20" font-size="4.6" text-anchor="end" fill="#333">0.2</text>
<text x="494.80" y="851.80" font-size="4.6" text-anchor="end" fill="#333">0.1</text>
<text x="494.80" y="863.70" font-size="4.6" text-anchor="end" fill="#333">0.0</text>
<text x="484.00" y="832.30" font-size="7.3" text-anchor="middle" fill="#333" transform="rotate(-90 484.00 832.30)">Enrichment score (ES)</text>
<text x="582.60" y="784.30" font-size="6.75" font-weight="bold" text-anchor="middle" fill="#111">TNF signaling pathway(mmu04668)</text>
<rect x="498.60" y="871.60" width="173.60" height="20.00" fill="#fff" stroke="#444" stroke-width="0.5"/>
<path d="M522.7 871.6V891.6M526.4 871.6V891.6M508.3 871.6V891.6M524.1 871.6V891.6M508.6 871.6V891.6M570.5 871.6V891.6M604.2 871.6V891.6" stroke="rgb(180,180,180)" stroke-width="0.6" fill="none"/>
<path d="M514.6 871.6V891.6M501.2 871.6V891.6M501.0 871.6V891.6M614.7 871.6V891.6M607.3 871.6V891.6M619.3 871.6V891.6M658.7 871.6V891.6M645.9 871.6V891.6" stroke="rgb(160,160,160)" stroke-width="0.6" fill="none"/>
<path d="M524.9 871.6V891.6M508.6 871.6V891.6M566.3 871.6V891.6M553.7 871.6V891.6M613.5 871.6V891.6M573.3 871.6V891.6M562.4 871.6V891.6M629.8 871.6V891.6M631.9 871.6V891.6M649.0 871.6V891.6M664.5 871.6V891.6" stroke="rgb(140,140,140)" stroke-width="0.6" fill="none"/>
<path d="M547.5 871.6V891.6M506.8 871.6V891.6M556.6 871.6V891.6M612.8 871.6V891.6M669.5 871.6V891.6M659.1 871.6V891.6" stroke="rgb(120,120,120)" stroke-width="0.6" fill="none"/>
<path d="M535.2 871.6V891.6M524.0 871.6V891.6M564.6 871.6V891.6M603.5 871.6V891.6M590.4 871.6V891.6M561.4 871.6V891.6M570.1 871.6V891.6M589.2 871.6V891.6M649.9 871.6V891.6M664.3 871.6V891.6M651.2 871.6V891.6" stroke="rgb(100,100,100)" stroke-width="0.6" fill="none"/>
<path d="M510.9 871.6V891.6M513.4 871.6V891.6M606.6 871.6V891.6M586.9 871.6V891.6M657.3 871.6V891.6M651.6 871.6V891.6M653.6 871.6V891.6M649.5 871.6V891.6M645.6 871.6V891.6" stroke="rgb(80,80,80)" stroke-width="0.6" fill="none"/>
<path d="M543.6 871.6V891.6M531.9 871.6V891.6M597.7 871.6V891.6M626.7 871.6V891.6M620.2 871.6V891.6M646.8 871.6V891.6" stroke="rgb(60,60,60)" stroke-width="0.6" fill="none"/>
<path d="M532.5 871.6V891.6M508.0 871.6V891.6M559.5 871.6V891.6M611.3 871.6V891.6M616.2 871.6V891.6M608.7 871.6V891.6M660.0 871.6V891.6M651.8 871.6V891.6M665.1 871.6V891.6" stroke="rgb(40,40,40)" stroke-width="0.6" fill="none"/>
<path d="M516.1 871.6V891.6M509.5 871.6V891.6M517.7 871.6V891.6M636.2 871.6V891.6M649.4 871.6V891.6M669.8 871.6V891.6M660.7 871.6V891.6M654.6 871.6V891.6M662.9 871.6V891.6M647.9 871.6V891.6" stroke="rgb(20,20,20)" stroke-width="0.6" fill="none"/>
<path d="M500.8 871.6V891.6M500.6 871.6V891.6M502.0 871.6V891.6M500.8 871.6V891.6M501.6 871.6V891.6M513.2 871.6V891.6M510.3 871.6V891.6M508.6 871.6V891.6M501.3 871.6V891.6M546.7 871.6V891.6M599.8 871.6V891.6M588.2 871.6V891.6M667.9 871.6V891.6M666.1 871.6V891.6" stroke="rgb(0,0,0)" stroke-width="0.6" fill="none"/>
<defs><linearGradient id="gs3" x1="0" y1="0" x2="1" y2="0"><stop offset="0" stop-color="#e3161b"/><stop offset="0.08" stop-color="#e64a4f"/><stop offset="0.25" stop-color="#ecaab0"/><stop offset="0.45" stop-color="#ffffff"/><stop offset="0.7" stop-color="#a9b0da"/><stop offset="0.9" stop-color="#4a60ad"/><stop offset="1" stop-color="#1e3c96"/></linearGradient></defs>
<rect x="500.20" y="891.80" width="171.00" height="10.20" fill="url(#gs3)"/>
<rect x="498.60" y="902.00" width="173.60" height="49.40" fill="#fff" stroke="#444" stroke-width="0.5"/>
<path d="M500.2,926.8 L500.2,902.4 L501.3,907.7 L502.4,911.1 L503.4,913.1 L504.5,915.1 L505.6,915.9 L506.7,916.7 L507.7,917.4 L508.8,918.2 L509.9,918.9 L511.0,919.4 L512.0,919.8 L513.1,920.2 L514.2,920.6 L515.3,921.0 L516.3,921.5 L517.4,921.7 L518.5,921.9 L519.6,922.0 L520.6,922.2 L521.7,922.3 L522.8,922.5 L523.9,922.6 L524.9,922.7 L526.0,922.9 L527.1,923.0 L528.2,923.2 L529.2,923.3 L530.3,923.5 L531.4,923.6 L532.5,923.8 L533.5,923.9 L534.6,924.0 L535.7,924.1 L536.8,924.2 L537.8,924.3 L538.9,924.4 L540.0,924.5 L541.1,924.5 L542.1,924.6 L543.2,924.7 L544.3,924.8 L545.4,924.9 L546.4,925.0 L547.5,925.1 L548.6,925.2 L549.7,925.2 L550.7,925.3 L551.8,925.4 L552.9,925.5 L554.0,925.5 L555.0,925.6 L556.1,925.7 L557.2,925.7 L558.3,925.8 L559.4,925.8 L560.4,925.9 L561.5,926.0 L562.6,926.0 L563.7,926.1 L564.7,926.2 L565.8,926.2 L566.9,926.3 L568.0,926.3 L569.0,926.4 L570.1,926.5 L571.2,926.5 L572.3,926.6 L573.3,926.7 L574.4,926.7 L575.5,926.8 L576.6,926.9 L577.6,926.9 L578.7,927.0 L579.8,927.1 L580.9,927.2 L581.9,927.3 L583.0,927.4 L584.1,927.5 L585.2,927.5 L586.2,927.6 L587.3,927.7 L588.4,927.8 L589.5,927.9 L590.5,928.0 L591.6,928.1 L592.7,928.1 L593.8,928.2 L594.8,928.3 L595.9,928.4 L597.0,928.5 L598.1,928.6 L599.1,928.7 L600.2,928.7 L601.3,928.8 L602.4,928.9 L603.4,929.0 L604.5,929.1 L605.6,929.2 L606.7,929.3 L607.7,929.3 L608.8,929.4 L609.9,929.5 L611.0,929.6 L612.0,929.7 L613.1,929.8 L614.2,930.0 L615.3,930.1 L616.4,930.2 L617.4,930.3 L618.5,930.4 L619.6,930.6 L620.7,930.7 L621.7,930.8 L622.8,930.9 L623.9,931.1 L625.0,931.2 L626.0,931.3 L627.1,931.4 L628.2,931.5 L629.3,931.7 L630.3,931.8 L631.4,931.9 L632.5,932.0 L633.6,932.2 L634.6,932.3 L635.7,932.4 L636.8,932.5 L637.9,932.6 L638.9,932.8 L640.0,932.9 L641.1,933.0 L642.2,933.1 L643.2,933.2 L644.3,933.4 L645.4,933.5 L646.5,933.6 L647.5,933.7 L648.6,933.9 L649.7,934.2 L650.8,934.4 L651.8,934.7 L652.9,935.0 L654.0,935.2 L655.1,935.5 L656.1,935.7 L657.2,936.0 L658.3,936.3 L659.4,936.5 L660.4,936.8 L661.5,937.1 L662.6,938.0 L663.7,939.1 L664.7,940.1 L665.8,941.2 L666.9,942.2 L668.0,943.3 L669.0,945.6 L670.1,948.6 L671.2,951.0 L671.2,926.8 Z" fill="#c6c6c6"/>
<line x1="575.80" y1="902.00" x2="575.80" y2="951.40" stroke="#c8c8c8" stroke-width="0.5"/>
<text x="494.80" y="905.00" font-size="4.6" text-anchor="end" fill="#333">5.0</text>
<text x="494.80" y="916.70" font-size="4.6" text-anchor="end" fill="#333">2.5</text>
<text x="494.80" y="928.40" font-size="4.6" text-anchor="end" fill="#333">0.0</text>
<text x="494.80" y="940.10" font-size="4.6" text-anchor="end" fill="#333">−2.5</text>
<text x="494.80" y="951.80" font-size="4.6" text-anchor="end" fill="#333">−5.0</text>
<text x="510.90" y="913.70" font-size="9.3" font-weight="bold" fill="#222">LPS</text>
<text x="631.30" y="946.50" font-size="9.3" font-weight="bold" fill="#222">Control</text>
<text x="575.80" y="935.20" font-size="4.0" text-anchor="middle" fill="#333">Zero score at 8398</text>
<text x="477.60" y="926.90" font-size="7.2" text-anchor="middle" fill="#333" transform="rotate(-90 477.60 926.90)">Ranked Metric</text>
<text x="484.10" y="927.10" font-size="7.3" text-anchor="middle" fill="#333" transform="rotate(-90 484.10 927.10)">(signal_to_noise)</text>
</svg>
</body></html>
